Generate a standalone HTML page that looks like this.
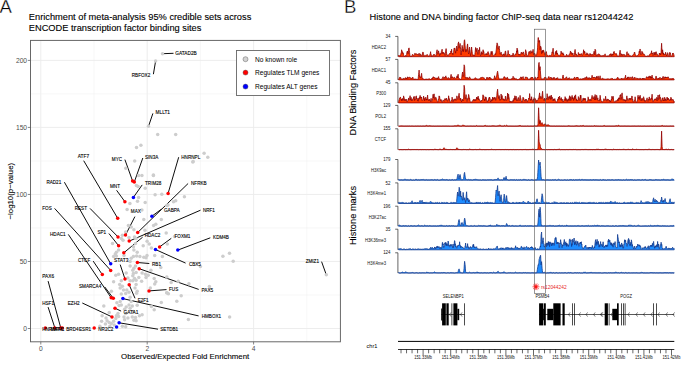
<!DOCTYPE html>
<html><head><meta charset="utf-8"><style>
html,body{margin:0;padding:0;background:#fff;width:685px;height:365px;overflow:hidden}
svg{display:block}
text{font-family:"Liberation Sans", sans-serif}
</style></head><body>
<svg width="685" height="365" viewBox="0 0 685 365">
<text x="-0.4" y="13.2" font-size="18.6" stroke="#fff" stroke-width="0.35">A</text>
<text x="28.8" y="20.2" font-size="9.28" stroke="#000" stroke-width="0.12">Enrichment of meta-analysis 95% credible sets across</text>
<text x="28.8" y="31.4" font-size="9.28" stroke="#000" stroke-width="0.12">ENCODE transcription factor binding sites</text>
<line x1="40.80" y1="40.5" x2="40.80" y2="341.8" stroke="#ebebeb" stroke-width="0.9"/><line x1="147.20" y1="40.5" x2="147.20" y2="341.8" stroke="#ebebeb" stroke-width="0.9"/><line x1="253.60" y1="40.5" x2="253.60" y2="341.8" stroke="#ebebeb" stroke-width="0.9"/><line x1="94.00" y1="40.5" x2="94.00" y2="341.8" stroke="#f2f2f2" stroke-width="0.6"/><line x1="200.40" y1="40.5" x2="200.40" y2="341.8" stroke="#f2f2f2" stroke-width="0.6"/><line x1="306.80" y1="40.5" x2="306.80" y2="341.8" stroke="#f2f2f2" stroke-width="0.6"/><line x1="30.5" y1="328.50" x2="340.4" y2="328.50" stroke="#ebebeb" stroke-width="0.9"/><line x1="30.5" y1="261.48" x2="340.4" y2="261.48" stroke="#ebebeb" stroke-width="0.9"/><line x1="30.5" y1="194.45" x2="340.4" y2="194.45" stroke="#ebebeb" stroke-width="0.9"/><line x1="30.5" y1="127.42" x2="340.4" y2="127.42" stroke="#ebebeb" stroke-width="0.9"/><line x1="30.5" y1="60.40" x2="340.4" y2="60.40" stroke="#ebebeb" stroke-width="0.9"/><line x1="30.5" y1="294.99" x2="340.4" y2="294.99" stroke="#f2f2f2" stroke-width="0.6"/><line x1="30.5" y1="227.96" x2="340.4" y2="227.96" stroke="#f2f2f2" stroke-width="0.6"/><line x1="30.5" y1="160.94" x2="340.4" y2="160.94" stroke="#f2f2f2" stroke-width="0.6"/><line x1="30.5" y1="93.91" x2="340.4" y2="93.91" stroke="#f2f2f2" stroke-width="0.6"/>
<line x1="27.8" y1="328.50" x2="30.5" y2="328.50" stroke="#333" stroke-width="0.6"/>
<text x="27.1" y="330.90" font-size="6.7" text-anchor="end" fill="#4d4d4d">0</text>
<line x1="27.8" y1="261.48" x2="30.5" y2="261.48" stroke="#333" stroke-width="0.6"/>
<text x="27.1" y="263.88" font-size="6.7" text-anchor="end" fill="#4d4d4d">50</text>
<line x1="27.8" y1="194.45" x2="30.5" y2="194.45" stroke="#333" stroke-width="0.6"/>
<text x="27.1" y="196.85" font-size="6.7" text-anchor="end" fill="#4d4d4d">100</text>
<line x1="27.8" y1="127.42" x2="30.5" y2="127.42" stroke="#333" stroke-width="0.6"/>
<text x="27.1" y="129.82" font-size="6.7" text-anchor="end" fill="#4d4d4d">150</text>
<line x1="27.8" y1="60.40" x2="30.5" y2="60.40" stroke="#333" stroke-width="0.6"/>
<text x="27.1" y="62.80" font-size="6.7" text-anchor="end" fill="#4d4d4d">200</text>
<line x1="40.80" y1="341.8" x2="40.80" y2="344.5" stroke="#333" stroke-width="0.6"/>
<text x="40.90" y="350.8" font-size="6.7" text-anchor="middle" fill="#4d4d4d">0</text>
<line x1="147.20" y1="341.8" x2="147.20" y2="344.5" stroke="#333" stroke-width="0.6"/>
<text x="147.30" y="350.8" font-size="6.7" text-anchor="middle" fill="#4d4d4d">2</text>
<line x1="253.60" y1="341.8" x2="253.60" y2="344.5" stroke="#333" stroke-width="0.6"/>
<text x="253.70" y="350.8" font-size="6.7" text-anchor="middle" fill="#4d4d4d">4</text>
<text x="185.2" y="359.3" font-size="7.85" text-anchor="middle" stroke="#000" stroke-width="0.1">Observed/Expected Fold Enrichment</text>
<text transform="translate(12.6,191.2) rotate(-90)" font-size="7.85" text-anchor="middle" stroke="#000" stroke-width="0.1">−log10(p−value)</text>
<g stroke="#000" stroke-width="0.95"><line x1="173.5" y1="53.3" x2="162.5" y2="53.7"/><line x1="153.4" y1="74.2" x2="155.6" y2="61.1"/><line x1="152.9" y1="113.4" x2="148.5" y2="126.3"/><line x1="83.7" y1="160.7" x2="117.7" y2="218.3"/><line x1="124.9" y1="159.6" x2="132.6" y2="181"/><line x1="142.8" y1="158" x2="134.3" y2="182"/><line x1="178.7" y1="157.2" x2="168.1" y2="193.4"/><line x1="64.4" y1="182.2" x2="110.7" y2="263.8"/><line x1="116.6" y1="190.3" x2="124.9" y2="201.7"/><line x1="142.2" y1="184.9" x2="133.4" y2="197.4"/><line x1="188.1" y1="183.5" x2="137.7" y2="232.5"/><line x1="54.6" y1="208.4" x2="110.7" y2="270.4"/><line x1="90" y1="208.4" x2="118" y2="236.9"/><line x1="161.4" y1="209.2" x2="151.9" y2="216.2"/><line x1="200.5" y1="210.2" x2="129.2" y2="241.1"/><line x1="134.9" y1="216.6" x2="125.5" y2="235.1"/><line x1="108.9" y1="233.5" x2="118.6" y2="245.7"/><line x1="68.3" y1="234.4" x2="111.2" y2="297.8"/><line x1="142.6" y1="237.2" x2="123.8" y2="252.8"/><line x1="171.3" y1="238.3" x2="159.6" y2="246.9"/><line x1="210.3" y1="237.8" x2="177.8" y2="250.1"/><line x1="93.2" y1="261.1" x2="102.3" y2="274.6"/><line x1="120.2" y1="264.6" x2="125" y2="279.1"/><line x1="149.3" y1="263.5" x2="137.4" y2="262.5"/><line x1="185.6" y1="263.1" x2="155.5" y2="249.5"/><line x1="48.1" y1="281.1" x2="60.7" y2="327.7"/><line x1="104.7" y1="286.9" x2="113.3" y2="298.3"/><line x1="166.5" y1="289.6" x2="149" y2="290.9"/><line x1="198.7" y1="289.4" x2="139.2" y2="268.7"/><line x1="135" y1="298.3" x2="129.2" y2="284.8"/><line x1="48.1" y1="307.1" x2="54.8" y2="327.7"/><line x1="82.3" y1="303" x2="112" y2="316.9"/><line x1="121.1" y1="311.1" x2="115" y2="308.2"/><line x1="198.6" y1="315.9" x2="122.9" y2="298.6"/><line x1="158" y1="329.2" x2="119.1" y2="322.8"/><line x1="321.6" y1="261.7" x2="326.3" y2="274.8"/></g>
<g fill="#cdcdcd"><circle cx="157.7" cy="134.6" r="1.75"/><circle cx="175.7" cy="134.6" r="1.75"/><circle cx="136.5" cy="147.5" r="1.75"/><circle cx="140.9" cy="145.3" r="1.75"/><circle cx="134.7" cy="160.9" r="1.75"/><circle cx="192.8" cy="162" r="1.75"/><circle cx="153.4" cy="174.9" r="1.75"/><circle cx="125.8" cy="168.3" r="1.75"/><circle cx="193.2" cy="161.6" r="1.75"/><circle cx="204.1" cy="153.3" r="1.75"/><circle cx="207.8" cy="157.3" r="1.75"/><circle cx="184.4" cy="196.7" r="1.75"/><circle cx="161.8" cy="194.2" r="1.75"/><circle cx="173.5" cy="201.7" r="1.75"/><circle cx="175.7" cy="200.7" r="1.75"/><circle cx="168" cy="205" r="1.75"/><circle cx="166.9" cy="205.5" r="1.75"/><circle cx="176.8" cy="301.3" r="1.75"/><circle cx="222.9" cy="256.2" r="1.75"/><circle cx="229.5" cy="253.3" r="1.75"/><circle cx="233.2" cy="261.2" r="1.75"/><circle cx="200.4" cy="266.4" r="1.75"/><circle cx="209.4" cy="286.5" r="1.75"/><circle cx="188.9" cy="283.7" r="1.75"/><circle cx="178.2" cy="281.2" r="1.75"/><circle cx="181.2" cy="295.7" r="1.75"/><circle cx="229.6" cy="317.1" r="1.75"/><circle cx="188.4" cy="319.4" r="1.75"/><circle cx="162.5" cy="53.7" r="1.75"/><circle cx="155.6" cy="61.1" r="1.75"/><circle cx="148.5" cy="126.3" r="1.75"/><circle cx="326.3" cy="274.8" r="1.75"/><circle cx="113.6" cy="256.6" r="1.75"/><circle cx="116.4" cy="256.1" r="1.75"/><circle cx="124" cy="255.5" r="1.75"/><circle cx="131.2" cy="258.3" r="1.75"/><circle cx="133.4" cy="256.6" r="1.75"/><circle cx="130.1" cy="261.6" r="1.75"/><circle cx="130.1" cy="266" r="1.75"/><circle cx="133.9" cy="268.2" r="1.75"/><circle cx="132.8" cy="270.3" r="1.75"/><circle cx="115.8" cy="275.3" r="1.75"/><circle cx="118.6" cy="274.2" r="1.75"/><circle cx="126.2" cy="273.1" r="1.75"/><circle cx="133.4" cy="273.6" r="1.75"/><circle cx="132.8" cy="275.8" r="1.75"/><circle cx="113.6" cy="281.8" r="1.75"/><circle cx="121.3" cy="280.8" r="1.75"/><circle cx="119.7" cy="284.6" r="1.75"/><circle cx="122.4" cy="286.2" r="1.75"/><circle cx="127.9" cy="278" r="1.75"/><circle cx="130.1" cy="280.8" r="1.75"/><circle cx="132.8" cy="280.8" r="1.75"/><circle cx="134.5" cy="278.6" r="1.75"/><circle cx="120.2" cy="287.9" r="1.75"/><circle cx="123.5" cy="290.1" r="1.75"/><circle cx="126.8" cy="290.1" r="1.75"/><circle cx="129" cy="292.3" r="1.75"/><circle cx="125.7" cy="293.4" r="1.75"/><circle cx="111.4" cy="291.2" r="1.75"/><circle cx="121.3" cy="293.9" r="1.75"/><circle cx="136.6" cy="256.1" r="1.75"/><circle cx="139.9" cy="256.6" r="1.75"/><circle cx="143.8" cy="257.2" r="1.75"/><circle cx="146" cy="257.7" r="1.75"/><circle cx="147" cy="255.5" r="1.75"/><circle cx="154.7" cy="255.5" r="1.75"/><circle cx="162.4" cy="256.6" r="1.75"/><circle cx="135.5" cy="266" r="1.75"/><circle cx="136.1" cy="272.5" r="1.75"/><circle cx="142.1" cy="273.1" r="1.75"/><circle cx="145.4" cy="274.2" r="1.75"/><circle cx="148.2" cy="275.3" r="1.75"/><circle cx="150.9" cy="270.3" r="1.75"/><circle cx="160.8" cy="267.6" r="1.75"/><circle cx="154.2" cy="278.6" r="1.75"/><circle cx="155.8" cy="281.8" r="1.75"/><circle cx="154.7" cy="284" r="1.75"/><circle cx="146" cy="277.5" r="1.75"/><circle cx="138.8" cy="277.5" r="1.75"/><circle cx="141.6" cy="281.3" r="1.75"/><circle cx="136.1" cy="280.2" r="1.75"/><circle cx="136.1" cy="284.6" r="1.75"/><circle cx="135" cy="287.9" r="1.75"/><circle cx="137.2" cy="291.2" r="1.75"/><circle cx="166.8" cy="276.9" r="1.75"/><circle cx="171.2" cy="282.4" r="1.75"/><circle cx="166.8" cy="292.8" r="1.75"/><circle cx="150.3" cy="287.9" r="1.75"/><circle cx="103.8" cy="306" r="1.75"/><circle cx="109.2" cy="312.5" r="1.75"/><circle cx="102.1" cy="315.8" r="1.75"/><circle cx="106" cy="318" r="1.75"/><circle cx="101.6" cy="321.3" r="1.75"/><circle cx="107.1" cy="320.8" r="1.75"/><circle cx="109.2" cy="322.4" r="1.75"/><circle cx="105.4" cy="324" r="1.75"/><circle cx="111.4" cy="323.5" r="1.75"/><circle cx="113.6" cy="321.3" r="1.75"/><circle cx="115.8" cy="318.6" r="1.75"/><circle cx="114.2" cy="325.1" r="1.75"/><circle cx="109.8" cy="326.2" r="1.75"/><circle cx="99.9" cy="326.2" r="1.75"/><circle cx="116.9" cy="302.7" r="1.75"/><circle cx="120.2" cy="301.6" r="1.75"/><circle cx="121.3" cy="304.9" r="1.75"/><circle cx="119.1" cy="305.4" r="1.75"/><circle cx="124.6" cy="309.2" r="1.75"/><circle cx="126.2" cy="307.1" r="1.75"/><circle cx="129" cy="304.9" r="1.75"/><circle cx="131.2" cy="301.6" r="1.75"/><circle cx="132.3" cy="306" r="1.75"/><circle cx="130.1" cy="308.2" r="1.75"/><circle cx="133.4" cy="311.4" r="1.75"/><circle cx="125.7" cy="313.6" r="1.75"/><circle cx="124" cy="316.9" r="1.75"/><circle cx="124.6" cy="319.7" r="1.75"/><circle cx="132.3" cy="316.9" r="1.75"/><circle cx="133.9" cy="320.2" r="1.75"/><circle cx="127.9" cy="318" r="1.75"/><circle cx="122.4" cy="326.2" r="1.75"/><circle cx="125.7" cy="326.8" r="1.75"/><circle cx="118.6" cy="316.4" r="1.75"/><circle cx="116.4" cy="315.8" r="1.75"/><circle cx="118" cy="313.6" r="1.75"/><circle cx="130.1" cy="297.2" r="1.75"/><circle cx="136.6" cy="293.3" r="1.75"/><circle cx="166.8" cy="292.7" r="1.75"/><circle cx="168.4" cy="293.8" r="1.75"/><circle cx="161.3" cy="302.6" r="1.75"/><circle cx="154.2" cy="309.7" r="1.75"/><circle cx="137.2" cy="305.3" r="1.75"/><circle cx="142.1" cy="314.7" r="1.75"/><circle cx="139.4" cy="315.8" r="1.75"/><circle cx="135.5" cy="317.4" r="1.75"/><circle cx="136.1" cy="320.7" r="1.75"/><circle cx="151.4" cy="306.4" r="1.75"/><circle cx="128.4" cy="225.4" r="1.75"/><circle cx="131.2" cy="227.1" r="1.75"/><circle cx="133.9" cy="229.8" r="1.75"/><circle cx="125.7" cy="232" r="1.75"/><circle cx="122.4" cy="235.3" r="1.75"/><circle cx="121.3" cy="238.6" r="1.75"/><circle cx="123" cy="240.2" r="1.75"/><circle cx="112.5" cy="243.5" r="1.75"/><circle cx="118.6" cy="250.1" r="1.75"/><circle cx="116.4" cy="252.3" r="1.75"/><circle cx="115.3" cy="253.9" r="1.75"/><circle cx="129" cy="237.5" r="1.75"/><circle cx="133.4" cy="246.8" r="1.75"/><circle cx="133.9" cy="250.1" r="1.75"/><circle cx="134.5" cy="236.9" r="1.75"/><circle cx="143.8" cy="219.4" r="1.75"/><circle cx="161.3" cy="219.4" r="1.75"/><circle cx="153.6" cy="225.4" r="1.75"/><circle cx="155.8" cy="224.3" r="1.75"/><circle cx="144.9" cy="230.3" r="1.75"/><circle cx="166.2" cy="233.1" r="1.75"/><circle cx="174.5" cy="236.4" r="1.75"/><circle cx="147.1" cy="241.3" r="1.75"/><circle cx="149.2" cy="244" r="1.75"/><circle cx="143.2" cy="245.7" r="1.75"/><circle cx="151.4" cy="247.9" r="1.75"/><circle cx="167.3" cy="244" r="1.75"/><circle cx="137.2" cy="252.3" r="1.75"/><circle cx="135.5" cy="243.5" r="1.75"/><circle cx="136.1" cy="238.6" r="1.75"/><circle cx="138.6" cy="175.5" r="1.75"/><circle cx="141.9" cy="175.5" r="1.75"/><circle cx="153.4" cy="175.5" r="1.75"/><circle cx="136.4" cy="185.4" r="1.75"/><circle cx="138.1" cy="186.5" r="1.75"/><circle cx="145.2" cy="188.2" r="1.75"/><circle cx="138.6" cy="197.5" r="1.75"/><circle cx="137.5" cy="201.3" r="1.75"/><circle cx="145.2" cy="202.4" r="1.75"/><circle cx="129.9" cy="203.5" r="1.75"/><circle cx="127.1" cy="209.5" r="1.75"/><circle cx="155.1" cy="194.7" r="1.75"/><circle cx="141.9" cy="210.1" r="1.75"/></g>
<g fill="#ff0000"><circle cx="45.3" cy="328" r="1.75"/><circle cx="54.8" cy="328" r="1.75"/><circle cx="60.7" cy="328" r="1.75"/><circle cx="62.3" cy="328" r="1.75"/><circle cx="94.2" cy="328" r="1.75"/><circle cx="132.6" cy="181" r="1.75"/><circle cx="134.3" cy="182" r="1.75"/><circle cx="168.1" cy="193.4" r="1.75"/><circle cx="124.9" cy="201.7" r="1.75"/><circle cx="117.7" cy="218.3" r="1.75"/><circle cx="137.7" cy="232.5" r="1.75"/><circle cx="125.5" cy="235.1" r="1.75"/><circle cx="118" cy="236.9" r="1.75"/><circle cx="129.2" cy="241.1" r="1.75"/><circle cx="118.6" cy="245.7" r="1.75"/><circle cx="159.6" cy="246.9" r="1.75"/><circle cx="123.8" cy="252.8" r="1.75"/><circle cx="110.7" cy="270.4" r="1.75"/><circle cx="102.3" cy="274.6" r="1.75"/><circle cx="137.4" cy="262.5" r="1.75"/><circle cx="139.2" cy="268.7" r="1.75"/><circle cx="125" cy="279.1" r="1.75"/><circle cx="129.2" cy="284.8" r="1.75"/><circle cx="149" cy="290.9" r="1.75"/><circle cx="111.2" cy="297.8" r="1.75"/><circle cx="113.3" cy="298.3" r="1.75"/><circle cx="115" cy="308.2" r="1.75"/><circle cx="112" cy="316.9" r="1.75"/></g>
<g fill="#0000ff"><circle cx="133.4" cy="197.4" r="1.75"/><circle cx="151.9" cy="216.2" r="1.75"/><circle cx="110.7" cy="263.8" r="1.75"/><circle cx="155.5" cy="249.5" r="1.75"/><circle cx="177.8" cy="250.1" r="1.75"/><circle cx="122.9" cy="298.6" r="1.75"/><circle cx="119.1" cy="322.8" r="1.75"/><circle cx="116.6" cy="326.9" r="1.75"/></g>
<g font-size="5.2" fill="#000" stroke="#000" stroke-width="0.12"><text x="175.3" y="55.05" textLength="21.47" lengthAdjust="spacingAndGlyphs">GATAD2B</text><text x="131.8" y="77.45" textLength="18.40" lengthAdjust="spacingAndGlyphs">RBFOX2</text><text x="155.6" y="114.45" textLength="14.32" lengthAdjust="spacingAndGlyphs">MLLT1</text><text x="77.8" y="157.75" textLength="11.25" lengthAdjust="spacingAndGlyphs">ATF7</text><text x="111.8" y="161.45" textLength="10.22" lengthAdjust="spacingAndGlyphs">MYC</text><text x="145" y="159.45" textLength="13.29" lengthAdjust="spacingAndGlyphs">SIN3A</text><text x="181.3" y="159.15" textLength="18.91" lengthAdjust="spacingAndGlyphs">HNRNPL</text><text x="46.4" y="183.85" textLength="14.83" lengthAdjust="spacingAndGlyphs">RAD21</text><text x="110" y="187.85" textLength="9.96" lengthAdjust="spacingAndGlyphs">MNT</text><text x="145" y="185.45" textLength="16.36" lengthAdjust="spacingAndGlyphs">TRIM28</text><text x="191" y="185.35" textLength="15.59" lengthAdjust="spacingAndGlyphs">NFRKB</text><text x="42.3" y="209.55" textLength="9.46" lengthAdjust="spacingAndGlyphs">FOS</text><text x="74.7" y="209.55" textLength="12.27" lengthAdjust="spacingAndGlyphs">REST</text><text x="163.9" y="211.65" textLength="15.85" lengthAdjust="spacingAndGlyphs">GABPA</text><text x="202.9" y="212.05" textLength="12.01" lengthAdjust="spacingAndGlyphs">NRF1</text><text x="130.8" y="213.25" textLength="9.97" lengthAdjust="spacingAndGlyphs">MAX</text><text x="97.4" y="234.05" textLength="8.69" lengthAdjust="spacingAndGlyphs">SP1</text><text x="50" y="236.25" textLength="15.59" lengthAdjust="spacingAndGlyphs">HDAC1</text><text x="144.7" y="237.35" textLength="15.59" lengthAdjust="spacingAndGlyphs">HDAC2</text><text x="174.5" y="238.35" textLength="15.85" lengthAdjust="spacingAndGlyphs">FOXM1</text><text x="213.1" y="239.35" textLength="15.85" lengthAdjust="spacingAndGlyphs">KDM4B</text><text x="78" y="261.95" textLength="12.26" lengthAdjust="spacingAndGlyphs">CTCF</text><text x="114" y="262.35" textLength="14.32" lengthAdjust="spacingAndGlyphs">STAT3</text><text x="152" y="265.65" textLength="8.95" lengthAdjust="spacingAndGlyphs">RB1</text><text x="188.9" y="265.85" textLength="12.02" lengthAdjust="spacingAndGlyphs">CBX5</text><text x="42.3" y="278.35" textLength="11.76" lengthAdjust="spacingAndGlyphs">PAX6</text><text x="79" y="288.45" textLength="22.24" lengthAdjust="spacingAndGlyphs">SMARCA4</text><text x="169" y="291.45" textLength="9.20" lengthAdjust="spacingAndGlyphs">FUS</text><text x="201.5" y="291.65" textLength="11.76" lengthAdjust="spacingAndGlyphs">PAX5</text><text x="137.7" y="301.65" textLength="10.99" lengthAdjust="spacingAndGlyphs">E2F1</text><text x="42.2" y="304.85" textLength="11.76" lengthAdjust="spacingAndGlyphs">HSF1</text><text x="67.8" y="304.85" textLength="11.76" lengthAdjust="spacingAndGlyphs">EZH2</text><text x="123.4" y="314.45" textLength="15.08" lengthAdjust="spacingAndGlyphs">GATA1</text><text x="201.7" y="317.95" textLength="19.43" lengthAdjust="spacingAndGlyphs">HMBOX1</text><text x="160.3" y="331.35" textLength="17.89" lengthAdjust="spacingAndGlyphs">SETDB1</text><text x="98.3" y="331.05" textLength="15.08" lengthAdjust="spacingAndGlyphs">NR2C2</text><text x="66.3" y="331.05" textLength="12.27" lengthAdjust="spacingAndGlyphs">BRD4</text><text x="79" y="331.05" textLength="12.02" lengthAdjust="spacingAndGlyphs">ESR1</text><text x="42.2" y="331.05" textLength="22.23" lengthAdjust="spacingAndGlyphs">HNRNPH1</text><text x="50.5" y="331.05" textLength="12.78" lengthAdjust="spacingAndGlyphs">MAFK</text><text x="305.7" y="263.05" textLength="13.29" lengthAdjust="spacingAndGlyphs">ZMIZ1</text></g>
<rect x="30.5" y="40.4" width="309.9" height="301.4" fill="none" stroke="#606060" stroke-width="0.95"/>
<rect x="236.5" y="50.5" width="93" height="45" fill="#fff" stroke="#666" stroke-width="0.9"/>
<circle cx="245.5" cy="59.2" r="2.5" fill="#d3d3d3" stroke="#555" stroke-width="0.45"/>
<text x="255" y="61.50" font-size="6.6">No known role</text>
<circle cx="245.5" cy="72.6" r="2.5" fill="#f00" stroke="#555" stroke-width="0.45"/>
<text x="255" y="74.90" font-size="6.6">Regulates TLM genes</text>
<circle cx="245.5" cy="86.6" r="2.5" fill="#00f" stroke="#555" stroke-width="0.45"/>
<text x="255" y="88.90" font-size="6.6">Regulates ALT genes</text>
<text x="344.1" y="13.2" font-size="18.6" stroke="#fff" stroke-width="0.35">B</text>
<text x="369.6" y="20.2" font-size="9.28" stroke="#000" stroke-width="0.12">Histone and DNA binding factor ChIP-seq data near rs12044242</text>
<text transform="translate(356.3,92.5) rotate(-90)" font-size="9.28" text-anchor="middle" stroke="#000" stroke-width="0.1">DNA Binding Factors</text>
<text transform="translate(356.3,215.5) rotate(-90)" font-size="9.28" text-anchor="middle" stroke="#000" stroke-width="0.1">Histone marks</text>
<path d="M395.2 36.40H397.9V56.70" fill="none" stroke="#333" stroke-width="0.75"/>
<text x="385.61" y="38.00" font-size="4.8" textLength="4.89" lengthAdjust="spacingAndGlyphs" fill="#111">34</text>
<text x="371.76" y="48.80" font-size="5" textLength="14.24" lengthAdjust="spacingAndGlyphs" fill="#111">HDAC2</text>
<path d="M398.6 56.70L398.60 55.41L398.85 55.12L399.10 55.53L399.35 55.82L399.60 55.89L399.85 55.57L400.10 55.76L400.35 55.78L400.60 55.02L400.85 54.12L401.10 52.75L401.35 52.82L401.60 49.78L401.85 50.62L402.10 50.95L402.35 51.76L402.60 53.45L402.85 52.74L403.10 52.76L403.35 53.20L403.60 54.82L403.85 55.67L404.10 56.21L404.35 56.28L404.60 56.34L404.85 56.01L405.10 55.67L405.35 55.61L405.60 55.56L405.85 55.90L406.10 56.25L406.35 55.54L406.60 54.54L406.85 52.82L407.10 51.60L407.35 52.27L407.60 51.10L407.85 51.85L408.10 53.77L408.35 51.43L408.60 48.71L408.85 48.06L409.10 47.87L409.35 50.38L409.60 52.76L409.85 54.55L410.10 56.06L410.35 56.31L410.60 56.33L410.85 56.29L411.10 56.24L411.35 56.33L411.60 56.41L411.85 55.65L412.10 55.44L412.35 54.53L412.60 54.55L412.85 54.33L413.10 54.96L413.35 55.34L413.60 55.52L413.85 55.48L414.10 55.45L414.35 54.90L414.60 54.26L414.85 53.27L415.10 53.27L415.35 54.24L415.60 54.22L415.85 54.72L416.10 53.81L416.35 53.70L416.60 54.21L416.85 54.40L417.10 54.33L417.35 54.54L417.60 54.50L417.85 54.10L418.10 54.00L418.35 55.11L418.60 55.25L418.85 54.95L419.10 53.16L419.35 54.31L419.60 55.32L419.85 55.76L420.10 55.42L420.35 54.72L420.60 53.87L420.85 54.48L421.10 55.66L421.35 55.63L421.60 55.53L421.85 55.70L422.10 55.87L422.35 54.98L422.60 52.89L422.85 52.03L423.10 52.10L423.35 53.21L423.60 54.44L423.85 55.56L424.10 56.33L424.35 55.92L424.60 55.51L424.85 55.64L425.10 55.76L425.35 55.55L425.60 55.38L425.85 55.34L426.10 55.35L426.35 55.11L426.60 55.07L426.85 55.14L427.10 55.07L427.35 54.51L427.60 55.07L427.85 55.41L428.10 55.93L428.35 55.86L428.60 56.36L428.85 56.27L429.10 56.19L429.35 55.80L429.60 55.51L429.85 54.70L430.10 53.72L430.35 53.44L430.60 51.67L430.85 54.18L431.10 54.27L431.35 55.22L431.60 56.35L431.85 56.39L432.10 56.43L432.35 56.06L432.60 55.69L432.85 55.49L433.10 55.82L433.35 55.13L433.60 54.51L433.85 54.58L434.10 54.99L434.35 54.42L434.60 54.79L434.85 55.20L435.10 55.64L435.35 55.54L435.60 56.16L435.85 56.00L436.10 55.69L436.35 53.72L436.60 51.61L436.85 50.67L437.10 49.76L437.35 51.43L437.60 52.33L437.85 54.24L438.10 53.41L438.35 52.21L438.60 50.85L438.85 52.50L439.10 52.89L439.35 53.92L439.60 55.55L439.85 54.99L440.10 54.83L440.35 53.70L440.60 54.35L440.85 53.33L441.10 53.90L441.35 51.54L441.60 51.26L441.85 50.16L442.10 49.22L442.35 51.47L442.60 53.55L442.85 52.58L443.10 52.59L443.35 52.19L443.60 53.59L443.85 53.62L444.10 52.81L444.35 53.44L444.60 54.61L444.85 55.44L445.10 55.62L445.35 53.44L445.60 51.24L445.85 50.08L446.10 48.60L446.35 51.09L446.60 53.26L446.85 54.85L447.10 55.00L447.35 54.85L447.60 55.56L447.85 55.55L448.10 55.86L448.35 55.51L448.60 55.41L448.85 54.25L449.10 54.16L449.35 53.97L449.60 53.47L449.85 53.22L450.10 52.99L450.35 53.74L450.60 52.80L450.85 51.15L451.10 52.03L451.35 50.94L451.60 49.23L451.85 52.44L452.10 53.27L452.35 54.26L452.60 53.33L452.85 53.95L453.10 54.70L453.35 53.92L453.60 52.90L453.85 49.95L454.10 48.01L454.35 48.02L454.60 48.71L454.85 48.38L455.10 50.53L455.35 50.96L455.60 53.19L455.85 51.37L456.10 48.77L456.35 47.66L456.60 46.13L456.85 48.44L457.10 51.01L457.35 49.95L457.60 49.29L457.85 45.77L458.10 43.05L458.35 42.96L458.60 41.88L458.85 45.35L459.10 48.23L459.35 47.22L459.60 46.12L459.85 45.04L460.10 43.41L460.35 46.53L460.60 49.56L460.85 52.26L461.10 54.98L461.35 52.92L461.60 50.72L461.85 47.77L462.10 45.35L462.35 46.62L462.60 48.04L462.85 51.23L463.10 49.37L463.35 51.71L463.60 51.09L463.85 46.78L464.10 42.40L464.35 40.37L464.60 39.74L464.85 41.90L465.10 45.81L465.35 48.95L465.60 51.99L465.85 51.76L466.10 49.32L466.35 50.92L466.60 51.32L466.85 50.40L467.10 46.58L467.35 44.91L467.60 43.92L467.85 47.12L468.10 49.67L468.35 52.62L468.60 53.93L468.85 52.86L469.10 50.41L469.35 48.65L469.60 47.09L469.85 49.72L470.10 52.71L470.35 54.27L470.60 55.70L470.85 53.59L471.10 51.36L471.35 49.06L471.60 47.00L471.85 49.46L472.10 51.38L472.35 53.79L472.60 54.38L472.85 54.97L473.10 55.61L473.35 54.87L473.60 54.97L473.85 55.49L474.10 55.20L474.35 55.55L474.60 55.87L474.85 54.45L475.10 52.74L475.35 50.03L475.60 47.51L475.85 48.91L476.10 50.33L476.35 51.55L476.60 50.22L476.85 48.91L477.10 48.12L477.35 51.24L477.60 52.87L477.85 54.53L478.10 54.46L478.35 52.00L478.60 49.90L478.85 50.13L479.10 50.51L479.35 50.48L479.60 47.35L479.85 50.94L480.10 52.79L480.35 54.67L480.60 55.70L480.85 54.94L481.10 54.26L481.35 54.16L481.60 51.68L481.85 54.15L482.10 54.51L482.35 53.28L482.60 53.73L482.85 51.73L483.10 49.73L483.35 52.16L483.60 51.50L483.85 51.61L484.10 53.60L484.35 54.79L484.60 55.09L484.85 54.94L485.10 54.44L485.35 54.80L485.60 54.54L485.85 54.81L486.10 53.30L486.35 54.36L486.60 54.87L486.85 54.24L487.10 54.97L487.35 53.15L487.60 52.60L487.85 52.88L488.10 51.58L488.35 52.88L488.60 53.84L488.85 53.48L489.10 54.40L489.35 55.83L489.60 55.84L489.85 55.79L490.10 55.74L490.35 55.60L490.60 55.00L490.85 52.97L491.10 51.39L491.35 51.87L491.60 54.27L491.85 53.01L492.10 51.32L492.35 52.92L492.60 53.37L492.85 55.15L493.10 55.66L493.35 55.75L493.60 55.80L493.85 55.55L494.10 55.40L494.35 55.08L494.60 54.72L494.85 54.61L495.10 53.70L495.35 53.71L495.60 54.61L495.85 53.06L496.10 50.98L496.35 49.03L496.60 45.98L496.85 44.69L497.10 42.87L497.35 44.41L497.60 44.29L497.85 46.64L498.10 49.33L498.35 49.01L498.60 48.31L498.85 47.12L499.10 45.98L499.35 48.37L499.60 50.41L499.85 52.58L500.10 54.26L500.35 54.27L500.60 53.39L500.85 53.30L501.10 52.08L501.35 54.06L501.60 54.27L501.85 54.01L502.10 54.56L502.35 55.13L502.60 55.92L502.85 55.49L503.10 55.58L503.35 53.97L503.60 54.53L503.85 53.81L504.10 54.32L504.35 55.50L504.60 55.62L504.85 54.01L505.10 51.82L505.35 51.09L505.60 50.94L505.85 53.03L506.10 55.49L506.35 55.69L506.60 55.93L506.85 55.90L507.10 55.08L507.35 54.23L507.60 53.94L507.85 53.83L508.10 50.46L508.35 53.30L508.60 54.06L508.85 54.41L509.10 54.64L509.35 54.25L509.60 53.99L509.85 55.18L510.10 55.58L510.35 55.55L510.60 56.17L510.85 55.97L511.10 55.78L511.35 55.46L511.60 55.43L511.85 55.47L512.10 54.97L512.35 55.54L512.60 54.79L512.85 54.69L513.10 53.06L513.35 55.08L513.60 54.74L513.85 55.57L514.10 56.15L514.35 55.89L514.60 55.49L514.85 55.06L515.10 54.38L515.35 54.45L515.60 53.73L515.85 53.96L516.10 54.46L516.35 53.73L516.60 50.88L516.85 52.34L517.10 48.06L517.35 51.81L517.60 49.83L517.85 51.72L518.10 54.02L518.35 54.16L518.60 55.14L518.85 54.45L519.10 54.85L519.35 54.45L519.60 54.07L519.85 54.85L520.10 55.41L520.35 54.24L520.60 53.97L520.85 53.83L521.10 52.81L521.35 52.06L521.60 52.89L521.85 54.20L522.10 53.76L522.35 53.98L522.60 52.72L522.85 53.03L523.10 52.68L523.35 51.87L523.60 52.78L523.85 53.90L524.10 54.76L524.35 55.81L524.60 55.83L524.85 54.91L525.10 54.54L525.35 52.62L525.60 49.71L525.85 50.73L526.10 51.25L526.35 53.34L526.60 55.20L526.85 55.58L527.10 56.34L527.35 55.98L527.60 55.62L527.85 55.62L528.10 55.63L528.35 53.76L528.60 52.99L528.85 52.03L529.10 51.57L529.35 52.21L529.60 51.58L529.85 52.73L530.10 53.70L530.35 52.70L530.60 51.83L530.85 50.61L531.10 51.78L531.35 51.85L531.60 52.85L531.85 53.15L532.10 51.68L532.35 51.98L532.60 52.23L532.85 50.90L533.10 49.34L533.35 52.05L533.60 54.59L533.85 55.05L534.10 54.29L534.35 53.91L534.60 53.03L534.85 54.48L535.10 54.22L535.35 55.05L535.60 55.43L535.85 55.91L536.10 55.49L536.35 55.42L536.60 55.06L536.85 53.48L537.10 52.22L537.35 50.88L537.60 47.20L537.85 42.51L538.10 37.55L538.35 37.65L538.60 39.62L538.85 40.14L539.10 42.29L539.35 41.02L539.60 40.53L539.85 44.81L540.10 49.84L540.35 48.12L540.60 46.14L540.85 47.10L541.10 47.39L541.35 50.63L541.60 53.77L541.85 53.22L542.10 51.14L542.35 52.63L542.60 50.28L542.85 52.16L543.10 51.03L543.35 49.97L543.60 50.17L543.85 51.09L544.10 52.36L544.35 52.84L544.60 52.84L544.85 54.35L545.10 55.22L545.35 53.86L545.60 53.17L545.85 52.32L546.10 52.46L546.35 51.59L546.60 53.41L546.85 54.55L547.10 55.59L547.35 55.53L547.60 55.61L547.85 55.60L548.10 55.59L548.35 55.84L548.60 56.09L548.85 55.81L549.10 55.53L549.35 55.46L549.60 55.49L549.85 55.35L550.10 55.48L550.35 55.60L550.60 55.66L550.85 55.60L551.10 55.55L551.35 54.62L551.60 54.27L551.85 53.32L552.10 51.87L552.35 52.67L552.60 51.80L552.85 49.95L553.10 48.22L553.35 51.24L553.60 54.33L553.85 55.49L554.10 56.08L554.35 55.68L554.60 55.47L554.85 54.72L555.10 54.63L555.35 52.23L555.60 52.28L555.85 51.29L556.10 54.07L556.35 53.55L556.60 50.48L556.85 52.32L557.10 54.33L557.35 53.14L557.60 54.10L557.85 54.88L558.10 55.25L558.35 55.35L558.60 55.14L558.85 55.33L559.10 55.68L559.35 55.58L559.60 56.13L559.85 55.78L560.10 54.89L560.35 54.21L560.60 54.01L560.85 53.69L561.10 51.14L561.35 53.13L561.60 52.81L561.85 53.54L562.10 54.02L562.35 53.60L562.60 54.13L562.85 52.68L563.10 53.75L563.35 54.91L563.60 53.89L563.85 55.14L564.10 55.36L564.35 55.71L564.60 56.29L564.85 56.12L565.10 55.95L565.35 56.02L565.60 56.09L565.85 56.01L566.10 55.33L566.35 55.17L566.60 54.25L566.85 54.81L567.10 55.38L567.35 55.67L567.60 55.81L567.85 55.59L568.10 55.69L568.35 56.08L568.60 55.96L568.85 55.22L569.10 55.38L569.35 54.06L569.60 53.71L569.85 53.89L570.10 53.46L570.35 51.52L570.60 50.98L570.85 53.54L571.10 53.70L571.35 53.59L571.60 52.45L571.85 54.18L572.10 54.79L572.35 53.65L572.60 53.92L572.85 53.02L573.10 54.41L573.35 55.37L573.60 55.95L573.85 55.91L574.10 55.87L574.35 54.28L574.60 52.49L574.85 50.67L575.10 49.45L575.35 51.94L575.60 54.09L575.85 54.89L576.10 54.22L576.35 54.07L576.60 55.55L576.85 55.22L577.10 55.58L577.35 55.64L577.60 55.71L577.85 55.22L578.10 54.51L578.35 52.47L578.60 53.17L578.85 53.21L579.10 54.61L579.35 54.90L579.60 54.02L579.85 55.10L580.10 54.80L580.35 54.96L580.60 54.38L580.85 53.82L581.10 54.05L581.35 54.17L581.60 53.60L581.85 54.25L582.10 54.85L582.35 55.42L582.60 54.93L582.85 54.81L583.10 52.87L583.35 52.24L583.60 49.73L583.85 52.78L584.10 52.59L584.35 51.19L584.60 52.50L584.85 51.75L585.10 53.49L585.35 53.97L585.60 54.27L585.85 55.00L586.10 55.06L586.35 54.24L586.60 54.64L586.85 52.79L587.10 53.68L587.35 53.67L587.60 54.70L587.85 53.75L588.10 54.60L588.35 54.63L588.60 54.79L588.85 55.28L589.10 55.84L589.35 55.21L589.60 55.01L589.85 53.65L590.10 53.36L590.35 54.62L590.60 54.11L590.85 54.51L591.10 55.60L591.35 55.36L591.60 54.87L591.85 54.12L592.10 54.40L592.35 54.31L592.60 54.61L592.85 55.02L593.10 55.50L593.35 54.51L593.60 53.75L593.85 52.71L594.10 51.26L594.35 53.44L594.60 54.59L594.85 52.10L595.10 49.22L595.35 49.91L595.60 50.17L595.85 53.16L596.10 55.81L596.35 55.77L596.60 55.23L596.85 54.62L597.10 54.82L597.35 54.78L597.60 54.67L597.85 55.56L598.10 55.32L598.35 54.41L598.60 53.72L598.85 54.38L599.10 54.11L599.35 54.25L599.60 55.12L599.85 54.82L600.10 55.63L600.35 55.54L600.60 55.96L600.85 55.73L601.10 56.02L601.35 55.86L601.60 55.71L601.85 55.58L602.10 55.54L602.35 55.71L602.60 55.51L602.85 55.43L603.10 55.30L603.35 55.54L603.60 55.34L603.85 55.94L604.10 55.63L604.35 55.58L604.60 55.16L604.85 54.29L605.10 53.84L605.35 54.63L605.60 54.92L605.85 55.49L606.10 56.09L606.35 56.18L606.60 56.26L606.85 55.99L607.10 55.72L607.35 55.88L607.60 56.04L607.85 56.20L608.10 56.35L608.35 56.00L608.60 55.64L608.85 55.74L609.10 55.84L609.35 55.35L609.60 55.27L609.85 54.35L610.10 55.30L610.35 54.23L610.60 54.49L610.85 53.60L611.10 54.03L611.35 54.87L611.60 55.72L611.85 55.00L612.10 53.82L612.35 55.25L612.60 54.97L612.85 54.31L613.10 55.13L613.35 53.83L613.60 52.10L613.85 52.44L614.10 51.35L614.35 52.84L614.60 53.26L614.85 53.03L615.10 53.55L615.35 53.93L615.60 53.93L615.85 54.04L616.10 54.43L616.35 53.52L616.60 54.31L616.85 54.52L617.10 55.75L617.35 55.70L617.60 56.40L617.85 56.42L618.10 56.45L618.35 56.21L618.60 55.97L618.85 55.91L619.10 55.85L619.35 54.61L619.60 52.91L619.85 51.55L620.10 50.20L620.35 52.35L620.60 54.67L620.85 54.97L621.10 55.48L621.35 55.14L621.60 53.78L621.85 54.80L622.10 55.26L622.35 54.65L622.60 55.38L622.85 54.54L623.10 54.38L623.35 54.65L623.60 54.70L623.85 54.73L624.10 55.11L624.35 54.46L624.60 55.57L624.85 55.90L625.10 55.60L625.35 55.78L625.60 55.96L625.85 55.97L626.10 55.98L626.35 54.58L626.60 53.80L626.85 52.11L627.10 51.66L627.35 53.90L627.60 54.52L627.85 54.55L628.10 55.05L628.35 54.58L628.60 53.62L628.85 54.95L629.10 54.88L629.35 55.33L629.60 56.07L629.85 56.05L630.10 56.04L630.35 55.84L630.60 55.64L630.85 55.77L631.10 55.90L631.35 56.06L631.60 56.22L631.85 56.27L632.10 56.31L632.35 55.61L632.60 55.27L632.85 55.17L633.10 55.18L633.35 54.53L633.60 54.29L633.85 54.33L634.10 53.90L634.35 52.14L634.60 52.81L634.85 52.51L635.10 54.61L635.35 54.59L635.60 55.61L635.85 55.77L636.10 55.94L636.35 55.87L636.60 55.81L636.85 55.83L637.10 55.84L637.35 55.59L637.60 55.76L637.85 55.17L638.10 55.20L638.35 54.95L638.60 54.02L638.85 53.75L639.10 51.31L639.35 51.20L639.60 52.37L639.85 50.93L640.10 48.97L640.35 52.00L640.60 54.65L640.85 54.36L641.10 54.29L641.35 54.55L641.60 53.31L641.85 51.30L642.10 51.42L642.35 52.15L642.60 53.49L642.85 52.75L643.10 53.62L643.35 54.43L643.60 53.94L643.85 54.50L644.10 54.35L644.35 54.39L644.60 54.57L644.85 55.67L645.10 56.21L645.35 56.20L645.60 56.18L645.85 56.08L646.10 55.97L646.35 56.16L646.60 56.35L646.85 56.27L647.10 56.19L647.35 55.98L647.60 55.78L647.85 55.74L648.10 55.70L648.35 55.90L648.60 56.11L648.85 55.79L649.10 55.86L649.35 55.13L649.60 55.12L649.85 53.98L650.10 53.93L650.35 53.91L650.60 53.67L650.85 53.25L651.10 53.26L651.35 52.27L651.60 50.78L651.85 53.81L652.10 53.09L652.35 53.02L652.60 54.32L652.85 54.56L653.10 55.54L653.35 54.76L653.60 53.87L653.85 52.56L654.10 53.31L654.35 52.39L654.60 54.38L654.85 53.82L655.10 55.06L655.35 53.28L655.60 52.36L655.85 53.64L656.10 51.65L656.35 53.83L656.60 54.43L656.85 54.49L657.10 53.82L657.35 54.34L657.60 54.77L657.85 55.52L658.10 56.33L658.35 55.73L658.60 55.65L658.85 55.24L659.10 55.12L659.35 53.08L659.60 53.85L659.85 53.85L660.10 53.18L660.35 54.90L660.60 53.90L660.85 54.33L661.10 52.21L661.35 47.61L661.60 43.26L661.85 47.90L662.10 52.32L662.35 53.33L662.60 49.79L662.85 51.60L663.10 53.06L663.35 54.56L663.60 53.04L663.85 55.16L664.10 55.04L664.35 54.57L664.60 54.82L664.85 54.02L665.10 54.07L665.35 54.29L665.60 52.25L665.85 53.53L666.10 54.16L666.35 54.76L666.60 55.94L666.85 55.34L667.10 54.96L667.35 53.46L667.60 52.66L667.85 53.11L668.10 54.22L668.35 55.41L668.60 55.77L668.85 56.01L669.10 56.26L669.35 55.13L669.60 53.29L669.85 52.23L670.10 53.91L670.35 53.17L670.60 54.19L670.85 55.68L671.10 55.77L671.35 55.88L671.60 55.99L671.85 56.07L672.10 56.15L672.35 55.30L672.60 53.06L672.85 53.48L673.10 53.17L673.35 53.28L673.60 54.01L673.85 54.74L674.10 55.72L674.2 56.70Z" fill="#ff3a00" stroke="#900000" stroke-width="0.78" stroke-linejoin="round"/>
<path d="M395.2 59.40H397.9V79.90" fill="none" stroke="#333" stroke-width="0.75"/>
<text x="385.61" y="61.00" font-size="4.8" textLength="4.89" lengthAdjust="spacingAndGlyphs" fill="#111">57</text>
<text x="371.76" y="71.80" font-size="5" textLength="14.24" lengthAdjust="spacingAndGlyphs" fill="#111">HDAC1</text>
<path d="M398.6 79.90L398.60 79.03L398.85 78.75L399.10 78.71L399.35 77.62L399.60 77.32L399.85 77.48L400.10 78.23L400.35 78.20L400.60 77.33L400.85 78.36L401.10 78.88L401.35 78.92L401.60 79.04L401.85 78.86L402.10 79.06L402.35 79.18L402.60 79.31L402.85 78.73L403.10 78.91L403.35 78.30L403.60 78.24L403.85 78.69L404.10 79.09L404.35 78.91L404.60 78.83L404.85 78.99L405.10 77.80L405.35 77.69L405.60 77.71L405.85 78.26L406.10 77.95L406.35 78.71L406.60 77.97L406.85 78.72L407.10 77.80L407.35 77.98L407.60 76.82L407.85 77.41L408.10 78.16L408.35 77.64L408.60 78.01L408.85 77.87L409.10 77.17L409.35 77.18L409.60 77.35L409.85 77.54L410.10 77.89L410.35 78.19L410.60 77.62L410.85 78.48L411.10 78.62L411.35 78.52L411.60 79.06L411.85 78.22L412.10 78.01L412.35 77.58L412.60 77.76L412.85 77.16L413.10 78.54L413.35 78.83L413.60 79.22L413.85 78.77L414.10 78.88L414.35 79.10L414.60 79.31L414.85 78.95L415.10 79.22L415.35 78.80L415.60 79.01L415.85 79.27L416.10 79.53L416.35 79.28L416.60 79.03L416.85 79.14L417.10 79.26L417.35 79.35L417.60 79.44L417.85 79.41L418.10 79.36L418.35 76.84L418.60 74.60L418.85 72.64L419.10 70.08L419.35 73.66L419.60 77.24L419.85 77.22L420.10 76.61L420.35 77.18L420.60 78.01L420.85 77.82L421.10 76.00L421.35 74.65L421.60 73.32L421.85 75.71L422.10 77.98L422.35 78.70L422.60 78.21L422.85 78.41L423.10 78.79L423.35 78.95L423.60 79.12L423.85 79.29L424.10 79.46L424.35 79.53L424.60 79.60L424.85 79.15L425.10 79.21L425.35 78.98L425.60 79.27L425.85 79.11L426.10 78.96L426.35 78.96L426.60 78.97L426.85 79.25L427.10 79.54L427.35 79.22L427.60 78.90L427.85 79.15L428.10 79.39L428.35 79.08L428.60 78.77L428.85 78.75L429.10 78.61L429.35 78.76L429.60 78.96L429.85 79.05L430.10 79.14L430.35 79.34L430.60 79.54L430.85 79.27L431.10 79.00L431.35 78.88L431.60 78.75L431.85 78.55L432.10 78.00L432.35 78.85L432.60 78.08L432.85 77.48L433.10 78.02L433.35 76.66L433.60 77.23L433.85 77.60L434.10 77.00L434.35 77.71L434.60 77.83L434.85 78.38L435.10 77.92L435.35 77.91L435.60 78.00L435.85 78.39L436.10 78.92L436.35 78.76L436.60 78.29L436.85 77.85L437.10 78.27L437.35 77.90L437.60 79.08L437.85 78.64L438.10 78.01L438.35 77.38L438.60 76.58L438.85 78.33L439.10 78.41L439.35 78.67L439.60 78.82L439.85 78.97L440.10 79.11L440.35 79.27L440.60 79.43L440.85 79.54L441.10 79.65L441.35 79.17L441.60 79.00L441.85 78.85L442.10 79.14L442.35 78.52L442.60 77.61L442.85 77.88L443.10 76.65L443.35 78.14L443.60 78.53L443.85 78.54L444.10 78.48L444.35 77.87L444.60 77.15L444.85 77.44L445.10 78.30L445.35 77.05L445.60 76.31L445.85 75.85L446.10 77.36L446.35 77.42L446.60 77.64L446.85 77.58L447.10 78.58L447.35 79.06L447.60 79.07L447.85 78.45L448.10 77.79L448.35 77.60L448.60 78.14L448.85 78.17L449.10 78.32L449.35 78.68L449.60 78.68L449.85 78.87L450.10 79.24L450.35 78.02L450.60 76.49L450.85 75.39L451.10 74.36L451.35 76.14L451.60 78.22L451.85 77.78L452.10 77.69L452.35 76.65L452.60 77.52L452.85 77.35L453.10 78.12L453.35 78.32L453.60 78.53L453.85 77.66L454.10 77.78L454.35 77.22L454.60 77.36L454.85 77.56L455.10 78.39L455.35 78.73L455.60 78.65L455.85 78.37L456.10 78.25L456.35 77.71L456.60 77.32L456.85 76.51L457.10 75.81L457.35 78.06L457.60 76.67L457.85 75.38L458.10 74.20L458.35 76.16L458.60 78.26L458.85 78.65L459.10 78.69L459.35 79.10L459.60 78.66L459.85 78.68L460.10 78.87L460.35 79.18L460.60 79.49L460.85 79.42L461.10 79.36L461.35 79.00L461.60 78.82L461.85 76.69L462.10 74.61L462.35 73.18L462.60 72.01L462.85 74.58L463.10 76.73L463.35 75.92L463.60 74.97L463.85 70.04L464.10 64.80L464.35 65.63L464.60 66.46L464.85 71.57L465.10 76.40L465.35 78.12L465.60 77.58L465.85 78.28L466.10 78.56L466.35 77.67L466.60 77.40L466.85 77.58L467.10 77.56L467.35 78.44L467.60 77.63L467.85 77.50L468.10 77.83L468.35 78.49L468.60 78.19L468.85 78.10L469.10 78.48L469.35 77.91L469.60 76.83L469.85 77.38L470.10 78.04L470.35 78.44L470.60 78.54L470.85 78.94L471.10 79.21L471.35 79.24L471.60 79.27L471.85 79.03L472.10 78.78L472.35 79.11L472.60 79.43L472.85 79.30L473.10 79.17L473.35 79.10L473.60 79.02L473.85 78.92L474.10 78.82L474.35 78.86L474.60 78.74L474.85 78.19L475.10 77.79L475.35 77.66L475.60 77.92L475.85 78.71L476.10 78.36L476.35 78.91L476.60 79.03L476.85 78.74L477.10 78.96L477.35 79.03L477.60 79.09L477.85 79.27L478.10 79.45L478.35 79.22L478.60 78.99L478.85 78.75L479.10 78.84L479.35 78.94L479.60 78.63L479.85 78.52L480.10 78.23L480.35 77.77L480.60 77.72L480.85 77.84L481.10 78.37L481.35 77.48L481.60 77.60L481.85 77.32L482.10 76.96L482.35 77.39L482.60 77.20L482.85 77.56L483.10 77.73L483.35 77.75L483.60 77.94L483.85 77.62L484.10 78.59L484.35 78.33L484.60 78.89L484.85 79.15L485.10 79.64L485.35 79.62L485.60 79.60L485.85 79.60L486.10 79.60L486.35 79.00L486.60 77.67L486.85 77.68L487.10 77.07L487.35 77.58L487.60 78.47L487.85 78.34L488.10 78.56L488.35 77.88L488.60 77.88L488.85 78.35L489.10 77.61L489.35 78.10L489.60 77.10L489.85 77.52L490.10 77.26L490.35 78.67L490.60 78.87L490.85 78.37L491.10 79.29L491.35 79.10L491.60 78.75L491.85 78.95L492.10 79.31L492.35 79.35L492.60 79.40L492.85 79.45L493.10 79.49L493.35 79.35L493.60 79.20L493.85 78.95L494.10 78.04L494.35 77.41L494.60 75.77L494.85 76.96L495.10 77.63L495.35 78.44L495.60 79.19L495.85 78.31L496.10 77.52L496.35 76.94L496.60 75.84L496.85 75.03L497.10 73.07L497.35 72.19L497.60 71.22L497.85 72.64L498.10 74.35L498.35 76.33L498.60 77.58L498.85 77.74L499.10 78.91L499.35 78.75L499.60 79.55L499.85 79.24L500.10 78.92L500.35 78.96L500.60 79.01L500.85 78.76L501.10 78.65L501.35 78.81L501.60 79.10L501.85 79.16L502.10 79.22L502.35 78.95L502.60 78.84L502.85 78.76L503.10 78.84L503.35 78.21L503.60 77.70L503.85 78.15L504.10 76.61L504.35 76.68L504.60 77.34L504.85 77.13L505.10 77.22L505.35 78.22L505.60 78.43L505.85 78.22L506.10 78.80L506.35 78.05L506.60 78.43L506.85 78.24L507.10 77.13L507.35 77.20L507.60 78.46L507.85 78.26L508.10 78.70L508.35 78.94L508.60 79.06L508.85 79.03L509.10 79.47L509.35 79.36L509.60 79.26L509.85 79.38L510.10 79.50L510.35 79.40L510.60 79.30L510.85 79.02L511.10 78.75L511.35 78.72L511.60 79.03L511.85 79.09L512.10 78.73L512.35 77.99L512.60 78.31L512.85 77.66L513.10 76.25L513.35 77.50L513.60 78.53L513.85 78.27L514.10 77.85L514.35 77.89L514.60 78.90L514.85 78.64L515.10 78.73L515.35 79.09L515.60 78.79L515.85 78.68L516.10 78.50L516.35 78.77L516.60 79.10L516.85 78.93L517.10 79.17L517.35 79.39L517.60 79.61L517.85 79.45L518.10 79.29L518.35 79.38L518.60 79.46L518.85 79.14L519.10 78.82L519.35 78.83L519.60 78.83L519.85 78.88L520.10 78.38L520.35 78.39L520.60 77.09L520.85 76.84L521.10 77.33L521.35 77.48L521.60 78.62L521.85 77.36L522.10 78.23L522.35 77.97L522.60 77.45L522.85 77.41L523.10 76.54L523.35 77.49L523.60 78.61L523.85 79.08L524.10 79.46L524.35 79.05L524.60 78.97L524.85 78.81L525.10 78.64L525.35 76.88L525.60 77.40L525.85 77.24L526.10 77.26L526.35 77.17L526.60 77.40L526.85 77.34L527.10 77.79L527.35 77.46L527.60 79.00L527.85 79.19L528.10 79.16L528.35 79.15L528.60 79.15L528.85 78.88L529.10 78.79L529.35 78.91L529.60 79.20L529.85 78.89L530.10 79.16L530.35 78.91L530.60 77.87L530.85 77.78L531.10 77.63L531.35 77.35L531.60 78.31L531.85 77.30L532.10 77.78L532.35 77.74L532.60 77.16L532.85 78.27L533.10 78.51L533.35 78.76L533.60 78.99L533.85 78.75L534.10 79.31L534.35 78.74L534.60 79.04L534.85 78.03L535.10 76.88L535.35 78.44L535.60 78.82L535.85 78.62L536.10 79.21L536.35 79.12L536.60 79.04L536.85 78.40L537.10 77.60L537.35 77.56L537.60 77.10L537.85 78.05L538.10 76.83L538.35 70.31L538.60 64.40L538.85 63.06L539.10 62.39L539.35 66.14L539.60 70.29L539.85 68.34L540.10 66.62L540.35 70.57L540.60 74.07L540.85 76.71L541.10 78.39L541.35 78.51L541.60 79.29L541.85 79.15L542.10 79.00L542.35 78.84L542.60 79.13L542.85 78.95L543.10 78.99L543.35 78.78L543.60 79.11L543.85 78.87L544.10 78.32L544.35 77.59L544.60 77.61L544.85 77.44L545.10 77.56L545.35 76.99L545.60 77.85L545.85 77.46L546.10 78.47L546.35 78.60L546.60 78.91L546.85 79.06L547.10 79.21L547.35 78.84L547.60 78.94L547.85 78.63L548.10 77.65L548.35 77.25L548.60 77.36L548.85 76.48L549.10 77.96L549.35 77.97L549.60 77.95L549.85 77.79L550.10 78.19L550.35 77.92L550.60 77.30L550.85 77.63L551.10 77.11L551.35 78.64L551.60 78.14L551.85 79.14L552.10 79.23L552.35 78.80L552.60 78.60L552.85 78.84L553.10 77.71L553.35 78.58L553.60 78.12L553.85 77.37L554.10 77.71L554.35 77.58L554.60 78.41L554.85 78.52L555.10 78.15L555.35 78.83L555.60 79.27L555.85 79.08L556.10 78.88L556.35 79.11L556.60 77.91L556.85 78.35L557.10 78.09L557.35 78.04L557.60 77.64L557.85 78.22L558.10 78.89L558.35 78.97L558.60 79.04L558.85 79.00L559.10 78.96L559.35 78.97L559.60 78.98L559.85 78.92L560.10 78.86L560.35 78.90L560.60 78.95L560.85 78.97L561.10 79.00L561.35 79.16L561.60 79.32L561.85 79.02L562.10 78.72L562.35 78.44L562.60 77.04L562.85 76.08L563.10 74.97L563.35 76.89L563.60 78.02L563.85 78.57L564.10 79.12L564.35 78.78L564.60 78.69L564.85 78.64L565.10 78.14L565.35 78.22L565.60 78.31L565.85 77.56L566.10 77.64L566.35 77.65L566.60 76.78L566.85 78.38L567.10 78.62L567.35 78.40L567.60 79.29L567.85 78.91L568.10 78.50L568.35 78.77L568.60 78.10L568.85 78.20L569.10 77.86L569.35 77.67L569.60 78.42L569.85 78.82L570.10 78.66L570.35 78.95L570.60 79.07L570.85 79.10L571.10 78.83L571.35 78.87L571.60 78.92L571.85 78.91L572.10 78.90L572.35 78.98L572.60 79.05L572.85 78.74L573.10 78.73L573.35 78.62L573.60 78.80L573.85 78.65L574.10 78.73L574.35 77.23L574.60 77.03L574.85 78.17L575.10 78.29L575.35 78.43L575.60 78.68L575.85 78.41L576.10 77.73L576.35 77.26L576.60 77.76L576.85 78.17L577.10 78.38L577.35 77.25L577.60 78.01L577.85 77.28L578.10 77.75L578.35 78.20L578.60 78.33L578.85 78.78L579.10 79.28L579.35 79.24L579.60 79.19L579.85 79.02L580.10 78.84L580.35 78.79L580.60 78.75L580.85 79.03L581.10 79.31L581.35 78.98L581.60 79.16L581.85 79.05L582.10 78.43L582.35 78.66L582.60 78.90L582.85 78.70L583.10 78.66L583.35 78.89L583.60 78.31L583.85 78.65L584.10 78.96L584.35 78.32L584.60 78.16L584.85 78.49L585.10 77.37L585.35 77.90L585.60 78.48L585.85 78.35L586.10 77.69L586.35 78.16L586.60 76.62L586.85 77.72L587.10 78.14L587.35 77.73L587.60 78.49L587.85 78.36L588.10 78.34L588.35 77.86L588.60 78.58L588.85 78.35L589.10 77.58L589.35 78.19L589.60 77.85L589.85 78.30L590.10 78.16L590.35 78.72L590.60 78.46L590.85 78.02L591.10 78.97L591.35 78.16L591.60 77.95L591.85 76.18L592.10 75.25L592.35 76.24L592.60 77.65L592.85 78.09L593.10 77.77L593.35 77.17L593.60 77.99L593.85 78.21L594.10 77.76L594.35 77.14L594.60 77.10L594.85 77.77L595.10 77.39L595.35 77.95L595.60 78.68L595.85 78.30L596.10 77.56L596.35 78.07L596.60 76.29L596.85 78.31L597.10 78.67L597.35 77.36L597.60 77.47L597.85 76.71L598.10 75.90L598.35 77.06L598.60 78.16L598.85 78.04L599.10 79.28L599.35 78.51L599.60 77.45L599.85 76.61L600.10 75.78L600.35 77.21L600.60 78.71L600.85 78.75L601.10 78.56L601.35 79.15L601.60 78.98L601.85 78.87L602.10 78.56L602.35 78.32L602.60 78.16L602.85 78.61L603.10 78.71L603.35 79.16L603.60 78.82L603.85 79.00L604.10 79.19L604.35 78.93L604.60 78.88L604.85 78.99L605.10 79.31L605.35 79.24L605.60 79.16L605.85 79.13L606.10 79.09L606.35 79.06L606.60 79.03L606.85 78.88L607.10 78.73L607.35 78.79L607.60 78.86L607.85 79.04L608.10 79.22L608.35 78.92L608.60 78.65L608.85 78.70L609.10 78.79L609.35 79.03L609.60 79.27L609.85 79.19L610.10 79.10L610.35 78.96L610.60 78.75L610.85 78.62L611.10 78.52L611.35 78.40L611.60 78.65L611.85 78.38L612.10 78.64L612.35 78.25L612.60 78.84L612.85 78.77L613.10 79.07L613.35 79.27L613.60 79.46L613.85 79.35L614.10 79.23L614.35 79.21L614.60 79.18L614.85 79.09L615.10 78.99L615.35 79.13L615.60 79.27L615.85 79.15L616.10 79.02L616.35 79.04L616.60 79.06L616.85 78.38L617.10 77.89L617.35 77.55L617.60 77.53L617.85 77.13L618.10 78.75L618.35 78.46L618.60 79.06L618.85 78.73L619.10 78.84L619.35 79.04L619.60 79.23L619.85 79.31L620.10 79.38L620.35 79.15L620.60 78.92L620.85 78.79L621.10 78.51L621.35 78.12L621.60 78.67L621.85 78.31L622.10 79.05L622.35 78.79L622.60 78.75L622.85 78.96L623.10 79.18L623.35 78.75L623.60 78.54L623.85 78.45L624.10 78.53L624.35 78.60L624.60 78.39L624.85 77.64L625.10 77.56L625.35 76.35L625.60 75.19L625.85 77.82L626.10 78.41L626.35 77.97L626.60 78.35L626.85 78.66L627.10 78.02L627.35 78.49L627.60 77.05L627.85 77.17L628.10 78.42L628.35 77.44L628.60 76.88L628.85 77.93L629.10 78.52L629.35 78.58L629.60 77.93L629.85 77.38L630.10 76.90L630.35 77.61L630.60 78.12L630.85 78.21L631.10 78.54L631.35 78.35L631.60 78.34L631.85 77.12L632.10 77.42L632.35 76.59L632.60 77.94L632.85 78.71L633.10 79.40L633.35 78.90L633.60 78.78L633.85 77.88L634.10 77.44L634.35 78.29L634.60 77.84L634.85 77.25L635.10 77.69L635.35 78.31L635.60 78.57L635.85 78.76L636.10 78.49L636.35 78.28L636.60 78.25L636.85 78.27L637.10 78.65L637.35 78.79L637.60 78.26L637.85 78.25L638.10 78.93L638.35 78.73L638.60 78.73L638.85 79.18L639.10 79.23L639.35 78.83L639.60 78.76L639.85 78.19L640.10 78.33L640.35 79.07L640.60 78.90L640.85 78.33L641.10 78.55L641.35 78.79L641.60 79.13L641.85 79.02L642.10 78.78L642.35 78.87L642.60 78.17L642.85 78.91L643.10 78.21L643.35 78.74L643.60 79.14L643.85 78.45L644.10 78.15L644.35 78.77L644.60 78.74L644.85 78.93L645.10 79.12L645.35 78.81L645.60 78.84L645.85 78.62L646.10 78.02L646.35 77.03L646.60 76.72L646.85 76.73L647.10 77.59L647.35 77.49L647.60 77.18L647.85 78.04L648.10 78.39L648.35 78.28L648.60 76.73L648.85 77.47L649.10 75.90L649.35 76.02L649.60 76.39L649.85 76.92L650.10 78.22L650.35 76.29L650.60 76.40L650.85 78.14L651.10 77.09L651.35 78.33L651.60 77.03L651.85 76.12L652.10 75.14L652.35 76.76L652.60 78.26L652.85 78.15L653.10 78.04L653.35 78.38L653.60 78.53L653.85 78.73L654.10 79.02L654.35 79.09L654.60 79.16L654.85 79.26L655.10 79.36L655.35 78.84L655.60 78.83L655.85 77.02L656.10 75.97L656.35 78.24L656.60 77.79L656.85 78.29L657.10 78.84L657.35 78.92L657.60 78.99L657.85 78.81L658.10 78.25L658.35 78.77L658.60 78.19L658.85 78.08L659.10 78.65L659.35 78.79L659.60 77.68L659.85 78.02L660.10 77.42L660.35 77.81L660.60 78.04L660.85 78.41L661.10 78.38L661.35 78.42L661.60 78.87L661.85 78.11L662.10 78.77L662.35 78.64L662.60 77.55L662.85 78.23L663.10 76.30L663.35 77.30L663.60 77.75L663.85 78.54L664.10 78.79L664.35 78.41L664.60 77.36L664.85 77.78L665.10 76.73L665.35 77.96L665.60 76.98L665.85 77.35L666.10 78.08L666.35 77.28L666.60 77.60L666.85 77.34L667.10 77.06L667.35 76.93L667.60 77.76L667.85 77.57L668.10 77.40L668.35 76.87L668.60 77.88L668.85 78.13L669.10 78.72L669.35 78.81L669.60 78.96L669.85 79.07L670.10 78.67L670.35 78.61L670.60 79.07L670.85 79.02L671.10 78.71L671.35 78.78L671.60 78.85L671.85 79.21L672.10 78.52L672.35 78.84L672.60 78.79L672.85 78.22L673.10 78.60L673.35 78.75L673.60 78.55L673.85 78.78L674.10 79.44L674.2 79.90Z" fill="#ff3a00" stroke="#900000" stroke-width="0.78" stroke-linejoin="round"/>
<path d="M395.2 82.80H397.9V102.90" fill="none" stroke="#333" stroke-width="0.75"/>
<text x="385.61" y="84.40" font-size="4.8" textLength="4.89" lengthAdjust="spacingAndGlyphs" fill="#111">45</text>
<text x="376.19" y="95.20" font-size="5" textLength="9.81" lengthAdjust="spacingAndGlyphs" fill="#111">P300</text>
<path d="M398.6 102.90L398.60 101.93L398.85 101.22L399.10 99.62L399.35 99.45L399.60 98.16L399.85 98.25L400.10 97.85L400.35 96.95L400.60 97.62L400.85 98.24L401.10 99.54L401.35 99.57L401.60 100.67L401.85 99.03L402.10 100.37L402.35 99.14L402.60 98.39L402.85 98.74L403.10 100.36L403.35 98.69L403.60 95.86L403.85 97.66L404.10 97.48L404.35 98.71L404.60 100.07L404.85 100.89L405.10 99.35L405.35 99.94L405.60 99.64L405.85 100.62L406.10 99.99L406.35 99.23L406.60 99.92L406.85 100.90L407.10 102.02L407.35 101.64L407.60 101.47L407.85 100.77L408.10 99.48L408.35 99.89L408.60 97.95L408.85 99.44L409.10 100.02L409.35 99.51L409.60 98.67L409.85 96.94L410.10 95.66L410.35 98.06L410.60 100.02L410.85 100.08L411.10 97.36L411.35 100.37L411.60 100.37L411.85 99.62L412.10 100.87L412.35 100.67L412.60 99.30L412.85 99.44L413.10 98.84L413.35 98.11L413.60 97.36L413.85 98.45L414.10 96.25L414.35 98.01L414.60 100.52L414.85 99.37L415.10 99.85L415.35 99.51L415.60 99.51L415.85 96.53L416.10 96.44L416.35 95.83L416.60 98.92L416.85 98.17L417.10 98.15L417.35 98.78L417.60 100.66L417.85 100.01L418.10 101.37L418.35 101.15L418.60 98.35L418.85 99.35L419.10 98.98L419.35 97.48L419.60 98.41L419.85 96.93L420.10 95.39L420.35 97.89L420.60 98.21L420.85 96.78L421.10 97.00L421.35 97.75L421.60 97.09L421.85 100.25L422.10 100.32L422.35 100.63L422.60 99.94L422.85 99.48L423.10 99.43L423.35 98.05L423.60 96.11L423.85 98.51L424.10 97.85L424.35 98.68L424.60 100.90L424.85 99.12L425.10 98.52L425.35 97.61L425.60 97.29L425.85 98.46L426.10 100.19L426.35 100.08L426.60 98.94L426.85 100.07L427.10 96.99L427.35 96.79L427.60 95.10L427.85 98.63L428.10 98.72L428.35 100.67L428.60 100.42L428.85 100.98L429.10 99.58L429.35 99.01L429.60 99.27L429.85 99.52L430.10 100.88L430.35 100.74L430.60 101.64L430.85 100.48L431.10 98.31L431.35 100.77L431.60 101.42L431.85 101.23L432.10 101.24L432.35 100.53L432.60 98.71L432.85 96.33L433.10 94.28L433.35 96.73L433.60 97.96L433.85 95.43L434.10 93.84L434.35 98.06L434.60 97.78L434.85 99.81L435.10 99.54L435.35 98.03L435.60 97.36L435.85 97.25L436.10 97.49L436.35 98.84L436.60 99.11L436.85 100.15L437.10 100.74L437.35 101.55L437.60 102.12L437.85 102.00L438.10 101.94L438.35 100.57L438.60 99.03L438.85 98.16L439.10 95.87L439.35 97.02L439.60 96.58L439.85 98.36L440.10 99.39L440.35 99.61L440.60 99.72L440.85 100.83L441.10 99.54L441.35 101.09L441.60 101.80L441.85 101.85L442.10 101.93L442.35 102.10L442.60 102.05L442.85 100.64L443.10 99.92L443.35 100.30L443.60 100.43L443.85 100.79L444.10 100.97L444.35 101.12L444.60 100.99L444.85 98.61L445.10 99.79L445.35 99.16L445.60 99.22L445.85 98.75L446.10 99.57L446.35 98.08L446.60 98.51L446.85 100.24L447.10 100.62L447.35 101.08L447.60 101.30L447.85 99.48L448.10 99.42L448.35 99.19L448.60 95.79L448.85 97.35L449.10 99.41L449.35 98.72L449.60 101.26L449.85 101.78L450.10 102.12L450.35 101.93L450.60 101.74L450.85 101.71L451.10 101.28L451.35 99.97L451.60 100.23L451.85 100.15L452.10 97.16L452.35 98.89L452.60 99.73L452.85 101.48L453.10 101.98L453.35 101.32L453.60 99.67L453.85 99.65L454.10 99.29L454.35 100.23L454.60 100.28L454.85 98.81L455.10 99.22L455.35 99.09L455.60 99.90L455.85 99.67L456.10 100.46L456.35 98.38L456.60 97.92L456.85 95.86L457.10 96.45L457.35 98.18L457.60 98.85L457.85 99.48L458.10 98.91L458.35 98.02L458.60 95.84L458.85 94.48L459.10 93.28L459.35 95.43L459.60 98.08L459.85 99.78L460.10 99.85L460.35 100.03L460.60 98.05L460.85 99.73L461.10 100.86L461.35 100.81L461.60 101.88L461.85 100.85L462.10 99.01L462.35 99.41L462.60 99.79L462.85 99.84L463.10 101.00L463.35 99.73L463.60 97.15L463.85 91.58L464.10 85.27L464.35 87.00L464.60 88.09L464.85 93.54L465.10 99.15L465.35 98.61L465.60 98.10L465.85 96.46L466.10 94.61L466.35 97.64L466.60 99.78L466.85 100.61L467.10 101.47L467.35 100.40L467.60 98.59L467.85 99.20L468.10 98.03L468.35 97.01L468.60 94.42L468.85 95.15L469.10 96.52L469.35 99.16L469.60 98.47L469.85 100.12L470.10 101.21L470.35 101.53L470.60 102.34L470.85 102.25L471.10 102.17L471.35 102.03L471.60 101.89L471.85 102.09L472.10 102.28L472.35 101.39L472.60 100.63L472.85 100.90L473.10 100.91L473.35 99.80L473.60 100.11L473.85 99.19L474.10 100.41L474.35 99.90L474.60 99.57L474.85 100.96L475.10 100.95L475.35 100.08L475.60 99.54L475.85 100.53L476.10 99.27L476.35 98.67L476.60 97.19L476.85 99.21L477.10 97.43L477.35 99.17L477.60 97.90L477.85 98.31L478.10 96.10L478.35 97.17L478.60 99.79L478.85 98.85L479.10 98.78L479.35 100.22L479.60 100.33L479.85 100.43L480.10 100.36L480.35 101.72L480.60 101.93L480.85 101.26L481.10 101.51L481.35 100.84L481.60 100.04L481.85 100.31L482.10 100.65L482.35 100.08L482.60 99.19L482.85 94.91L483.10 94.83L483.35 95.35L483.60 96.54L483.85 96.16L484.10 99.41L484.35 99.04L484.60 100.77L484.85 99.35L485.10 100.24L485.35 97.70L485.60 96.85L485.85 98.78L486.10 97.37L486.35 98.68L486.60 100.63L486.85 101.15L487.10 101.73L487.35 102.09L487.60 101.24L487.85 100.63L488.10 101.13L488.35 99.70L488.60 100.36L488.85 97.95L489.10 97.48L489.35 98.60L489.60 97.02L489.85 97.91L490.10 98.62L490.35 100.23L490.60 102.08L490.85 101.56L491.10 101.62L491.35 101.27L491.60 99.50L491.85 101.03L492.10 99.77L492.35 99.56L492.60 97.02L492.85 100.12L493.10 99.91L493.35 98.29L493.60 97.68L493.85 97.84L494.10 98.77L494.35 99.13L494.60 97.44L494.85 96.99L495.10 97.92L495.35 97.95L495.60 100.43L495.85 100.42L496.10 99.97L496.35 97.48L496.60 96.78L496.85 95.37L497.10 91.95L497.35 90.97L497.60 89.16L497.85 92.20L498.10 94.97L498.35 96.98L498.60 98.52L498.85 97.97L499.10 95.50L499.35 96.50L499.60 99.80L499.85 100.33L500.10 99.30L500.35 100.12L500.60 99.80L500.85 98.66L501.10 93.97L501.35 96.77L501.60 99.25L501.85 95.88L502.10 95.52L502.35 97.76L502.60 98.30L502.85 98.96L503.10 99.92L503.35 98.84L503.60 99.07L503.85 100.45L504.10 99.98L504.35 99.36L504.60 100.46L504.85 100.77L505.10 100.17L505.35 96.57L505.60 96.00L505.85 97.01L506.10 99.26L506.35 100.28L506.60 100.55L506.85 99.45L507.10 99.36L507.35 96.91L507.60 93.03L507.85 97.66L508.10 99.09L508.35 95.72L508.60 94.20L508.85 96.82L509.10 97.51L509.35 100.32L509.60 101.71L509.85 101.75L510.10 102.06L510.35 101.49L510.60 100.92L510.85 101.27L511.10 102.15L511.35 101.56L511.60 102.07L511.85 101.81L512.10 102.20L512.35 101.93L512.60 101.23L512.85 101.49L513.10 99.84L513.35 101.21L513.60 100.86L513.85 99.11L514.10 98.20L514.35 99.62L514.60 97.26L514.85 95.76L515.10 96.23L515.35 98.82L515.60 98.55L515.85 99.75L516.10 96.12L516.35 99.08L516.60 99.93L516.85 101.02L517.10 100.17L517.35 100.46L517.60 99.22L517.85 99.03L518.10 97.59L518.35 97.38L518.60 99.15L518.85 99.16L519.10 100.83L519.35 100.23L519.60 99.42L519.85 97.68L520.10 95.39L520.35 98.16L520.60 98.09L520.85 98.71L521.10 100.36L521.35 101.45L521.60 101.40L521.85 102.21L522.10 102.01L522.35 100.53L522.60 99.87L522.85 98.95L523.10 97.14L523.35 99.06L523.60 98.78L523.85 98.57L524.10 99.95L524.35 100.05L524.60 101.12L524.85 101.24L525.10 101.01L525.35 101.19L525.60 99.23L525.85 100.10L526.10 99.19L526.35 99.39L526.60 99.73L526.85 101.09L527.10 100.93L527.35 101.70L527.60 101.69L527.85 100.39L528.10 100.15L528.35 99.81L528.60 98.19L528.85 98.82L529.10 98.05L529.35 97.86L529.60 93.57L529.85 95.39L530.10 98.15L530.35 100.39L530.60 100.34L530.85 99.06L531.10 100.26L531.35 100.07L531.60 96.73L531.85 99.32L532.10 99.32L532.35 100.27L532.60 100.28L532.85 100.78L533.10 101.70L533.35 100.59L533.60 99.19L533.85 100.18L534.10 97.60L534.35 98.88L534.60 99.73L534.85 99.95L535.10 98.53L535.35 98.77L535.60 99.32L535.85 100.10L536.10 101.60L536.35 101.02L536.60 100.55L536.85 100.57L537.10 101.17L537.35 100.25L537.60 99.99L537.85 99.98L538.10 99.91L538.35 98.14L538.60 98.17L538.85 98.49L539.10 95.82L539.35 94.49L539.60 92.88L539.85 95.72L540.10 98.56L540.35 97.58L540.60 97.31L540.85 96.29L541.10 97.12L541.35 98.36L541.60 98.11L541.85 98.34L542.10 95.05L542.35 93.04L542.60 91.24L542.85 95.02L543.10 98.30L543.35 99.31L543.60 99.39L543.85 99.41L544.10 100.59L544.35 100.22L544.60 98.14L544.85 99.46L545.10 100.56L545.35 100.45L545.60 99.42L545.85 99.09L546.10 99.55L546.35 98.50L546.60 99.01L546.85 97.56L547.10 93.66L547.35 95.39L547.60 96.85L547.85 98.36L548.10 99.78L548.35 98.15L548.60 97.50L548.85 97.95L549.10 96.35L549.35 98.50L549.60 98.00L549.85 96.81L550.10 95.72L550.35 97.59L550.60 99.40L550.85 96.67L551.10 96.35L551.35 95.11L551.60 97.83L551.85 98.95L552.10 96.93L552.35 100.06L552.60 100.56L552.85 100.47L553.10 100.11L553.35 99.17L553.60 100.49L553.85 98.78L554.10 100.48L554.35 100.48L554.60 99.00L554.85 98.61L555.10 99.86L555.35 100.68L555.60 100.80L555.85 101.74L556.10 101.68L556.35 101.88L556.60 102.09L556.85 101.97L557.10 101.42L557.35 100.80L557.60 99.63L557.85 99.16L558.10 100.18L558.35 98.15L558.60 96.97L558.85 98.98L559.10 99.09L559.35 97.43L559.60 96.14L559.85 97.45L560.10 99.60L560.35 99.57L560.60 99.57L560.85 98.43L561.10 97.76L561.35 97.67L561.60 100.48L561.85 100.36L562.10 99.08L562.35 99.60L562.60 100.81L562.85 101.01L563.10 101.92L563.35 101.43L563.60 101.57L563.85 100.75L564.10 99.44L564.35 100.05L564.60 99.75L564.85 99.09L565.10 96.64L565.35 97.82L565.60 100.50L565.85 98.26L566.10 99.35L566.35 98.84L566.60 99.19L566.85 101.18L567.10 100.55L567.35 101.42L567.60 99.88L567.85 99.77L568.10 98.76L568.35 98.97L568.60 100.72L568.85 100.53L569.10 99.00L569.35 96.97L569.60 95.73L569.85 99.36L570.10 100.60L570.35 98.00L570.60 96.69L570.85 97.75L571.10 100.32L571.35 99.59L571.60 98.19L571.85 96.93L572.10 95.41L572.35 98.02L572.60 98.93L572.85 97.24L573.10 97.82L573.35 98.50L573.60 100.49L573.85 98.40L574.10 98.61L574.35 99.23L574.60 95.79L574.85 98.59L575.10 98.21L575.35 96.55L575.60 94.80L575.85 97.45L576.10 98.56L576.35 100.44L576.60 99.20L576.85 100.49L577.10 101.12L577.35 100.43L577.60 100.83L577.85 100.26L578.10 99.70L578.35 96.62L578.60 97.27L578.85 97.46L579.10 100.24L579.35 100.50L579.60 99.83L579.85 98.19L580.10 98.34L580.35 95.16L580.60 97.61L580.85 95.23L581.10 97.98L581.35 100.98L581.60 101.90L581.85 101.68L582.10 101.60L582.35 101.35L582.60 100.09L582.85 98.92L583.10 97.98L583.35 98.12L583.60 100.27L583.85 99.58L584.10 98.70L584.35 98.59L584.60 99.84L584.85 98.80L585.10 98.02L585.35 100.01L585.60 99.38L585.85 101.31L586.10 101.77L586.35 101.76L586.60 101.79L586.85 101.91L587.10 101.49L587.35 101.40L587.60 100.39L587.85 99.44L588.10 96.80L588.35 97.70L588.60 99.45L588.85 99.09L589.10 100.83L589.35 100.24L589.60 99.85L589.85 99.85L590.10 99.05L590.35 99.45L590.60 100.22L590.85 100.96L591.10 99.99L591.35 98.13L591.60 98.10L591.85 96.43L592.10 95.39L592.35 96.46L592.60 97.49L592.85 98.64L593.10 97.65L593.35 98.92L593.60 98.59L593.85 97.91L594.10 96.37L594.35 98.32L594.60 99.97L594.85 98.17L595.10 94.52L595.35 96.59L595.60 99.98L595.85 98.79L596.10 99.11L596.35 95.55L596.60 95.31L596.85 95.37L597.10 99.24L597.35 99.66L597.60 98.78L597.85 97.84L598.10 100.32L598.35 101.02L598.60 100.67L598.85 100.37L599.10 100.95L599.35 101.07L599.60 99.17L599.85 98.36L600.10 95.28L600.35 96.88L600.60 99.88L600.85 99.54L601.10 100.70L601.35 101.35L601.60 101.06L601.85 101.61L602.10 101.72L602.35 101.91L602.60 101.75L602.85 101.68L603.10 101.19L603.35 100.62L603.60 100.19L603.85 98.70L604.10 99.01L604.35 100.42L604.60 100.41L604.85 100.41L605.10 100.53L605.35 98.73L605.60 96.24L605.85 98.23L606.10 99.82L606.35 99.50L606.60 100.78L606.85 101.22L607.10 100.02L607.35 99.95L607.60 98.90L607.85 99.40L608.10 99.09L608.35 99.37L608.60 100.42L608.85 100.40L609.10 101.25L609.35 101.09L609.60 100.15L609.85 100.17L610.10 101.64L610.35 100.96L610.60 101.72L610.85 100.79L611.10 101.14L611.35 99.27L611.60 100.06L611.85 96.34L612.10 97.44L612.35 97.33L612.60 98.78L612.85 98.34L613.10 96.19L613.35 97.86L613.60 100.39L613.85 101.43L614.10 101.67L614.35 101.69L614.60 101.83L614.85 101.70L615.10 102.17L615.35 101.71L615.60 100.79L615.85 101.13L616.10 100.76L616.35 100.69L616.60 101.20L616.85 101.24L617.10 100.50L617.35 101.00L617.60 100.49L617.85 99.14L618.10 100.85L618.35 98.77L618.60 97.79L618.85 99.22L619.10 98.23L619.35 98.18L619.60 99.14L619.85 96.39L620.10 95.20L620.35 95.87L620.60 94.54L620.85 97.56L621.10 99.74L621.35 99.15L621.60 96.50L621.85 93.72L622.10 92.87L622.35 95.55L622.60 96.65L622.85 98.83L623.10 100.43L623.35 100.57L623.60 100.33L623.85 99.22L624.10 100.07L624.35 100.29L624.60 100.72L624.85 99.62L625.10 100.54L625.35 100.56L625.60 101.37L625.85 99.96L626.10 100.63L626.35 99.14L626.60 98.17L626.85 95.85L627.10 98.54L627.35 98.27L627.60 100.22L627.85 100.65L628.10 100.39L628.35 100.33L628.60 100.01L628.85 98.70L629.10 98.92L629.35 98.19L629.60 99.43L629.85 99.81L630.10 98.23L630.35 98.99L630.60 98.57L630.85 99.93L631.10 99.63L631.35 99.29L631.60 97.90L631.85 95.99L632.10 96.08L632.35 98.44L632.60 100.04L632.85 99.75L633.10 101.93L633.35 101.86L633.60 101.85L633.85 101.84L634.10 101.84L634.35 100.96L634.60 100.10L634.85 100.26L635.10 96.76L635.35 99.23L635.60 100.00L635.85 100.89L636.10 102.05L636.35 102.15L636.60 102.25L636.85 101.83L637.10 101.73L637.35 101.12L637.60 100.08L637.85 96.26L638.10 95.24L638.35 98.61L638.60 97.18L638.85 97.66L639.10 98.52L639.35 99.64L639.60 96.55L639.85 98.33L640.10 95.18L640.35 98.14L640.60 98.22L640.85 99.74L641.10 100.76L641.35 99.55L641.60 100.27L641.85 98.22L642.10 98.10L642.35 98.58L642.60 98.89L642.85 100.28L643.10 100.54L643.35 97.75L643.60 96.72L643.85 97.74L644.10 98.41L644.35 99.69L644.60 101.31L644.85 100.59L645.10 100.53L645.35 101.20L645.60 101.50L645.85 100.57L646.10 100.60L646.35 100.04L646.60 99.99L646.85 98.64L647.10 97.81L647.35 100.03L647.60 100.53L647.85 100.90L648.10 101.41L648.35 99.97L648.60 99.31L648.85 100.08L649.10 97.34L649.35 96.90L649.60 98.59L649.85 98.57L650.10 100.31L650.35 99.52L650.60 99.13L650.85 99.14L651.10 98.31L651.35 99.29L651.60 97.84L651.85 96.23L652.10 94.21L652.35 97.45L652.60 100.62L652.85 101.03L653.10 101.77L653.35 101.50L653.60 100.61L653.85 100.04L654.10 99.49L654.35 99.52L654.60 100.17L654.85 99.48L655.10 98.70L655.35 99.97L655.60 99.55L655.85 99.68L656.10 99.02L656.35 98.29L656.60 97.45L656.85 98.63L657.10 101.06L657.35 99.26L657.60 97.56L657.85 97.00L658.10 94.98L658.35 97.99L658.60 99.71L658.85 99.52L659.10 97.22L659.35 96.23L659.60 94.66L659.85 97.92L660.10 98.38L660.35 97.34L660.60 98.68L660.85 99.68L661.10 101.40L661.35 100.69L661.60 101.01L661.85 100.88L662.10 98.35L662.35 98.28L662.60 98.79L662.85 97.68L663.10 98.71L663.35 100.40L663.60 101.00L663.85 99.98L664.10 100.70L664.35 97.74L664.60 97.18L664.85 97.71L665.10 100.75L665.35 100.68L665.60 98.81L665.85 99.70L666.10 100.12L666.35 100.68L666.60 100.62L666.85 98.01L667.10 97.02L667.35 97.78L667.60 99.78L667.85 98.64L668.10 99.87L668.35 98.20L668.60 98.69L668.85 99.18L669.10 99.55L669.35 99.96L669.60 100.68L669.85 100.95L670.10 99.49L670.35 98.95L670.60 99.78L670.85 97.23L671.10 97.61L671.35 98.14L671.60 100.28L671.85 100.55L672.10 100.49L672.35 100.03L672.60 99.61L672.85 99.08L673.10 99.93L673.35 100.10L673.60 101.12L673.85 101.57L674.10 101.19L674.2 102.90Z" fill="#ff3a00" stroke="#900000" stroke-width="0.78" stroke-linejoin="round"/>
<path d="M395.2 105.40H397.9V126.20" fill="none" stroke="#333" stroke-width="0.75"/>
<text x="383.16" y="107.00" font-size="4.8" textLength="7.34" lengthAdjust="spacingAndGlyphs" fill="#111">129</text>
<text x="375.26" y="117.80" font-size="5" textLength="10.74" lengthAdjust="spacingAndGlyphs" fill="#111">POL2</text>
<path d="M398.6 126.20L398.60 125.98L398.85 126.03L399.10 126.08L399.35 126.09L399.60 126.11L399.85 126.03L400.10 125.95L400.35 125.94L400.60 125.92L400.85 125.93L401.10 125.95L401.35 125.91L401.60 125.87L401.85 125.85L402.10 125.82L402.35 125.90L402.60 125.97L402.85 126.00L403.10 126.03L403.35 126.02L403.60 126.01L403.85 126.05L404.10 126.09L404.35 126.06L404.60 126.04L404.85 125.98L405.10 125.92L405.35 125.98L405.60 126.04L405.85 126.06L406.10 126.09L406.35 126.05L406.60 126.02L406.85 126.00L407.10 125.98L407.35 125.98L407.60 125.97L407.85 125.98L408.10 125.99L408.35 126.01L408.60 126.03L408.85 125.99L409.10 125.95L409.35 125.94L409.60 125.92L409.85 126.00L410.10 126.08L410.35 126.10L410.60 126.13L410.85 126.12L411.10 126.12L411.35 126.03L411.60 125.95L411.85 126.00L412.10 126.04L412.35 126.00L412.60 125.96L412.85 126.01L413.10 126.06L413.35 126.08L413.60 126.11L413.85 126.10L414.10 126.09L414.35 126.11L414.60 126.14L414.85 126.07L415.10 126.00L415.35 125.99L415.60 125.98L415.85 126.03L416.10 126.08L416.35 126.07L416.60 126.07L416.85 126.04L417.10 126.01L417.35 125.97L417.60 125.93L417.85 125.95L418.10 125.97L418.35 125.99L418.60 126.01L418.85 126.06L419.10 126.11L419.35 126.07L419.60 126.03L419.85 125.99L420.10 125.95L420.35 125.93L420.60 125.92L420.85 125.99L421.10 126.05L421.35 126.09L421.60 126.13L421.85 126.12L422.10 126.12L422.35 126.04L422.60 125.95L422.85 125.95L423.10 125.96L423.35 125.93L423.60 125.91L423.85 125.94L424.10 125.96L424.35 126.02L424.60 126.07L424.85 126.05L425.10 126.04L425.35 125.92L425.60 125.80L425.85 125.72L426.10 125.63L426.35 125.50L426.60 125.37L426.85 125.52L427.10 125.68L427.35 125.78L427.60 125.89L427.85 125.92L428.10 125.95L428.35 125.93L428.60 125.92L428.85 125.87L429.10 125.83L429.35 125.73L429.60 125.64L429.85 125.74L430.10 125.83L430.35 125.85L430.60 125.87L430.85 125.93L431.10 125.99L431.35 125.96L431.60 125.94L431.85 125.95L432.10 125.97L432.35 126.02L432.60 126.07L432.85 126.01L433.10 125.95L433.35 125.97L433.60 126.00L433.85 126.06L434.10 126.12L434.35 126.11L434.60 126.09L434.85 126.02L435.10 125.95L435.35 126.02L435.60 126.08L435.85 126.11L436.10 126.15L436.35 126.10L436.60 126.05L436.85 126.02L437.10 125.99L437.35 125.98L437.60 125.98L437.85 126.04L438.10 126.10L438.35 126.06L438.60 126.01L438.85 125.97L439.10 125.92L439.35 125.98L439.60 126.04L439.85 125.99L440.10 125.94L440.35 126.00L440.60 126.06L440.85 126.07L441.10 126.09L441.35 126.08L441.60 126.07L441.85 126.02L442.10 125.98L442.35 125.98L442.60 125.99L442.85 126.04L443.10 126.09L443.35 126.03L443.60 125.96L443.85 126.03L444.10 126.10L444.35 126.04L444.60 125.99L444.85 125.99L445.10 126.00L445.35 125.99L445.60 125.97L445.85 125.99L446.10 126.01L446.35 125.98L446.60 125.94L446.85 125.91L447.10 125.89L447.35 125.98L447.60 126.07L447.85 126.03L448.10 125.99L448.35 125.99L448.60 125.99L448.85 126.05L449.10 126.11L449.35 126.11L449.60 126.10L449.85 126.11L450.10 126.12L450.35 126.13L450.60 126.14L450.85 126.13L451.10 126.11L451.35 126.13L451.60 126.14L451.85 126.12L452.10 126.11L452.35 126.09L452.60 126.07L452.85 126.06L453.10 126.05L453.35 126.03L453.60 126.00L453.85 126.01L454.10 126.02L454.35 125.86L454.60 125.70L454.85 125.65L455.10 125.60L455.35 125.72L455.60 125.83L455.85 125.88L456.10 125.92L456.35 125.85L456.60 125.76L456.85 125.62L457.10 125.47L457.35 125.35L457.60 125.25L457.85 125.27L458.10 125.23L458.35 125.28L458.60 125.32L458.85 125.45L459.10 125.61L459.35 125.73L459.60 125.84L459.85 125.91L460.10 125.97L460.35 125.98L460.60 125.99L460.85 126.04L461.10 126.09L461.35 126.04L461.60 125.99L461.85 125.80L462.10 125.61L462.35 125.38L462.60 125.13L462.85 125.10L463.10 124.97L463.35 125.13L463.60 125.34L463.85 125.59L464.10 125.47L464.35 125.59L464.60 125.71L464.85 125.89L465.10 126.08L465.35 126.05L465.60 126.02L465.85 126.04L466.10 126.06L466.35 126.09L466.60 126.11L466.85 126.04L467.10 125.96L467.35 125.97L467.60 125.98L467.85 125.98L468.10 125.99L468.35 126.04L468.60 126.09L468.85 126.12L469.10 126.15L469.35 126.07L469.60 125.99L469.85 125.99L470.10 125.99L470.35 125.96L470.60 125.92L470.85 125.98L471.10 126.04L471.35 125.99L471.60 125.94L471.85 126.00L472.10 126.06L472.35 126.07L472.60 126.07L472.85 126.03L473.10 125.98L473.35 125.98L473.60 125.97L473.85 126.03L474.10 126.08L474.35 126.06L474.60 126.04L474.85 126.02L475.10 126.00L475.35 126.05L475.60 126.10L475.85 125.93L476.10 125.77L476.35 125.61L476.60 125.46L476.85 125.63L477.10 125.81L477.35 125.96L477.60 126.11L477.85 126.13L478.10 126.15L478.35 126.09L478.60 126.04L478.85 126.06L479.10 126.08L479.35 126.03L479.60 125.99L479.85 126.01L480.10 126.04L480.35 126.02L480.60 125.99L480.85 126.01L481.10 126.02L481.35 126.02L481.60 126.01L481.85 126.04L482.10 126.07L482.35 126.09L482.60 126.12L482.85 126.12L483.10 126.12L483.35 126.09L483.60 126.06L483.85 125.96L484.10 125.87L484.35 125.70L484.60 125.53L484.85 125.38L485.10 125.23L485.35 125.36L485.60 125.50L485.85 125.63L486.10 125.76L486.35 125.88L486.60 126.00L486.85 125.92L487.10 125.84L487.35 125.92L487.60 126.00L487.85 126.07L488.10 126.13L488.35 126.10L488.60 126.08L488.85 126.02L489.10 125.95L489.35 125.97L489.60 125.99L489.85 126.05L490.10 126.11L490.35 126.09L490.60 126.06L490.85 126.03L491.10 125.99L491.35 125.94L491.60 125.88L491.85 125.79L492.10 125.70L492.35 125.74L492.60 125.77L492.85 125.77L493.10 125.76L493.35 125.79L493.60 125.81L493.85 125.81L494.10 125.81L494.35 125.87L494.60 125.92L494.85 125.91L495.10 125.90L495.35 126.00L495.60 126.09L495.85 126.05L496.10 126.01L496.35 126.03L496.60 126.06L496.85 126.01L497.10 125.95L497.35 125.89L497.60 125.82L497.85 125.69L498.10 125.55L498.35 125.66L498.60 125.77L498.85 125.72L499.10 125.67L499.35 125.43L499.60 125.20L499.85 125.26L500.10 125.23L500.35 125.35L500.60 125.50L500.85 125.65L501.10 125.86L501.35 125.95L501.60 125.96L501.85 126.03L502.10 126.10L502.35 126.04L502.60 125.98L502.85 126.03L503.10 126.07L503.35 126.02L503.60 125.97L503.85 125.80L504.10 125.62L504.35 125.53L504.60 125.44L504.85 125.61L505.10 125.78L505.35 125.94L505.60 126.11L505.85 125.86L506.10 125.62L506.35 125.41L506.60 125.20L506.85 125.40L507.10 125.60L507.35 125.76L507.60 125.92L507.85 125.97L508.10 126.03L508.35 126.07L508.60 126.12L508.85 126.06L509.10 126.00L509.35 126.00L509.60 126.00L509.85 126.03L510.10 126.06L510.35 126.02L510.60 125.98L510.85 125.99L511.10 126.01L511.35 126.02L511.60 126.02L511.85 126.00L512.10 125.98L512.35 126.03L512.60 126.08L512.85 126.04L513.10 126.01L513.35 126.05L513.60 126.10L513.85 126.12L514.10 126.14L514.35 126.12L514.60 126.10L514.85 126.06L515.10 126.02L515.35 126.03L515.60 126.04L515.85 126.02L516.10 126.00L516.35 126.04L516.60 126.09L516.85 126.04L517.10 125.99L517.35 125.99L517.60 125.98L517.85 126.00L518.10 126.01L518.35 125.92L518.60 125.83L518.85 125.72L519.10 125.61L519.35 125.65L519.60 125.48L519.85 125.48L520.10 125.43L520.35 125.50L520.60 125.64L520.85 125.77L521.10 125.92L521.35 126.03L521.60 126.09L521.85 126.04L522.10 125.99L522.35 126.01L522.60 126.04L522.85 126.08L523.10 126.12L523.35 126.10L523.60 126.08L523.85 126.08L524.10 126.08L524.35 126.08L524.60 126.07L524.85 126.07L525.10 126.07L525.35 126.05L525.60 126.04L525.85 126.08L526.10 126.12L526.35 126.14L526.60 126.15L526.85 126.05L527.10 125.96L527.35 125.93L527.60 125.90L527.85 125.96L528.10 126.02L528.35 126.05L528.60 126.08L528.85 126.08L529.10 126.09L529.35 126.11L529.60 126.13L529.85 126.11L530.10 126.09L530.35 126.03L530.60 125.97L530.85 125.94L531.10 125.90L531.35 125.98L531.60 126.05L531.85 126.05L532.10 126.06L532.35 126.08L532.60 126.10L532.85 126.07L533.10 126.04L533.35 126.04L533.60 126.04L533.85 125.87L534.10 125.69L534.35 125.48L534.60 125.27L534.85 125.43L535.10 125.59L535.35 125.84L535.60 126.10L535.85 126.04L536.10 125.98L536.35 125.95L536.60 125.91L536.85 125.92L537.10 125.94L537.35 125.95L537.60 125.96L537.85 124.88L538.10 123.47L538.35 115.25L538.60 107.78L538.85 112.63L539.10 118.38L539.35 120.89L539.60 123.75L539.85 122.02L540.10 120.33L540.35 121.17L540.60 122.24L540.85 123.38L541.10 124.51L541.35 123.80L541.60 123.16L541.85 122.90L542.10 122.63L542.35 123.24L542.60 123.63L542.85 124.26L543.10 125.00L543.35 125.07L543.60 125.10L543.85 124.81L544.10 124.50L544.35 124.17L544.60 124.02L544.85 123.96L545.10 123.82L545.35 123.93L545.60 124.08L545.85 124.44L546.10 124.70L546.35 125.08L546.60 125.37L546.85 125.29L547.10 125.19L547.35 125.00L547.60 124.88L547.85 124.83L548.10 124.79L548.35 124.85L548.60 124.94L548.85 125.17L549.10 125.34L549.35 125.50L549.60 125.68L549.85 125.84L550.10 125.92L550.35 125.92L550.60 125.93L550.85 125.93L551.10 125.94L551.35 125.94L551.60 125.94L551.85 125.94L552.10 125.94L552.35 125.98L552.60 126.02L552.85 125.97L553.10 125.93L553.35 125.97L553.60 126.02L553.85 126.00L554.10 125.98L554.35 125.97L554.60 125.95L554.85 126.01L555.10 126.08L555.35 126.10L555.60 126.12L555.85 126.04L556.10 125.96L556.35 125.96L556.60 125.97L556.85 126.02L557.10 126.07L557.35 126.03L557.60 125.99L557.85 126.00L558.10 126.01L558.35 126.00L558.60 125.99L558.85 126.01L559.10 126.03L559.35 125.98L559.60 125.94L559.85 125.93L560.10 125.92L560.35 126.00L560.60 126.08L560.85 126.04L561.10 126.00L561.35 126.00L561.60 126.00L561.85 126.06L562.10 126.12L562.35 126.11L562.60 126.10L562.85 126.03L563.10 125.97L563.35 126.00L563.60 126.02L563.85 126.06L564.10 126.10L564.35 126.08L564.60 126.06L564.85 126.08L565.10 126.11L565.35 126.12L565.60 126.14L565.85 126.12L566.10 126.11L566.35 126.13L566.60 126.14L566.85 126.11L567.10 126.07L567.35 126.02L567.60 125.97L567.85 125.90L568.10 125.83L568.35 125.78L568.60 125.73L568.85 125.78L569.10 125.82L569.35 125.86L569.60 125.89L569.85 125.96L570.10 126.03L570.35 126.03L570.60 126.03L570.85 126.01L571.10 125.99L571.35 126.04L571.60 126.08L571.85 126.05L572.10 126.01L572.35 126.03L572.60 126.04L572.85 126.07L573.10 126.10L573.35 126.10L573.60 126.09L573.85 126.01L574.10 125.93L574.35 125.97L574.60 126.02L574.85 126.01L575.10 126.01L575.35 125.91L575.60 125.81L575.85 125.78L576.10 125.75L576.35 125.70L576.60 125.64L576.85 125.64L577.10 125.64L577.35 125.79L577.60 125.94L577.85 126.01L578.10 126.09L578.35 126.02L578.60 125.94L578.85 125.97L579.10 126.00L579.35 125.99L579.60 125.99L579.85 125.92L580.10 125.86L580.35 125.78L580.60 125.70L580.85 125.82L581.10 125.94L581.35 125.90L581.60 125.85L581.85 125.85L582.10 125.85L582.35 125.74L582.60 125.63L582.85 125.40L583.10 125.17L583.35 125.44L583.60 125.71L583.85 125.85L584.10 125.99L584.35 126.04L584.60 126.10L584.85 126.12L585.10 126.14L585.35 126.08L585.60 126.03L585.85 125.99L586.10 125.95L586.35 125.96L586.60 125.98L586.85 126.03L587.10 126.08L587.35 126.03L587.60 125.98L587.85 126.02L588.10 126.06L588.35 126.06L588.60 126.06L588.85 125.99L589.10 125.93L589.35 125.97L589.60 126.02L589.85 126.06L590.10 126.09L590.35 126.09L590.60 126.09L590.85 126.10L591.10 126.10L591.35 126.03L591.60 125.96L591.85 126.00L592.10 126.04L592.35 126.09L592.60 126.14L592.85 126.14L593.10 126.15L593.35 126.08L593.60 126.01L593.85 125.88L594.10 125.76L594.35 125.66L594.60 125.56L594.85 125.71L595.10 125.86L595.35 125.93L595.60 126.00L595.85 125.96L596.10 125.92L596.35 125.90L596.60 125.88L596.85 125.96L597.10 126.04L597.35 126.02L597.60 126.00L597.85 126.02L598.10 126.04L598.35 126.04L598.60 126.04L598.85 126.06L599.10 126.08L599.35 126.10L599.60 126.13L599.85 126.06L600.10 125.99L600.35 126.03L600.60 126.06L600.85 126.10L601.10 126.15L601.35 126.13L601.60 126.12L601.85 126.11L602.10 126.10L602.35 126.11L602.60 126.13L602.85 126.08L603.10 126.04L603.35 125.88L603.60 125.72L603.85 125.54L604.10 125.36L604.35 125.51L604.60 125.67L604.85 125.80L605.10 125.93L605.35 126.00L605.60 126.07L605.85 126.08L606.10 126.09L606.35 126.08L606.60 126.07L606.85 126.05L607.10 126.04L607.35 126.02L607.60 126.01L607.85 126.06L608.10 126.11L608.35 126.06L608.60 126.01L608.85 126.05L609.10 126.09L609.35 126.03L609.60 125.96L609.85 125.98L610.10 126.01L610.35 126.04L610.60 126.06L610.85 126.06L611.10 126.06L611.35 126.05L611.60 126.04L611.85 126.04L612.10 126.03L612.35 126.03L612.60 126.03L612.85 126.05L613.10 126.07L613.35 126.06L613.60 126.04L613.85 126.01L614.10 125.98L614.35 126.00L614.60 126.02L614.85 126.00L615.10 125.97L615.35 125.90L615.60 125.83L615.85 125.81L616.10 125.79L616.35 125.73L616.60 125.66L616.85 125.69L617.10 125.73L617.35 125.83L617.60 125.93L617.85 125.75L618.10 125.57L618.35 125.34L618.60 125.11L618.85 125.36L619.10 125.61L619.35 125.87L619.60 126.12L619.85 126.12L620.10 126.11L620.35 126.06L620.60 126.02L620.85 125.97L621.10 125.93L621.35 125.95L621.60 125.97L621.85 125.97L622.10 125.98L622.35 125.99L622.60 126.00L622.85 126.02L623.10 126.05L623.35 126.01L623.60 125.98L623.85 125.96L624.10 125.94L624.35 125.92L624.60 125.90L624.85 125.91L625.10 125.91L625.35 125.95L625.60 125.98L625.85 125.99L626.10 126.00L626.35 126.03L626.60 126.05L626.85 126.03L627.10 126.00L627.35 125.99L627.60 125.98L627.85 125.94L628.10 125.91L628.35 125.96L628.60 126.01L628.85 126.04L629.10 126.07L629.35 126.05L629.60 126.04L629.85 126.03L630.10 126.03L630.35 126.07L630.60 126.11L630.85 126.06L631.10 126.02L631.35 126.03L631.60 126.04L631.85 126.02L632.10 126.01L632.35 125.99L632.60 125.97L632.85 126.03L633.10 126.10L633.35 126.03L633.60 125.96L633.85 125.93L634.10 125.91L634.35 125.91L634.60 125.91L634.85 125.98L635.10 126.05L635.35 126.03L635.60 126.01L635.85 125.99L636.10 125.97L636.35 126.03L636.60 126.10L636.85 126.12L637.10 126.14L637.35 126.05L637.60 125.96L637.85 125.94L638.10 125.92L638.35 125.91L638.60 125.91L638.85 125.94L639.10 125.97L639.35 126.00L639.60 126.03L639.85 126.02L640.10 126.01L640.35 125.97L640.60 125.92L640.85 125.98L641.10 126.03L641.35 126.07L641.60 126.11L641.85 126.04L642.10 125.97L642.35 126.03L642.60 126.10L642.85 126.06L643.10 126.02L643.35 126.04L643.60 126.05L643.85 126.01L644.10 125.97L644.35 125.95L644.60 125.93L644.85 126.01L645.10 126.08L645.35 126.08L645.60 126.07L645.85 126.05L646.10 126.02L646.35 126.07L646.60 126.12L646.85 126.05L647.10 125.99L647.35 126.00L647.60 126.01L647.85 126.04L648.10 126.06L648.35 126.07L648.60 126.07L648.85 126.09L649.10 126.11L649.35 126.04L649.60 125.97L649.85 125.93L650.10 125.90L650.35 125.91L650.60 125.92L650.85 126.00L651.10 126.08L651.35 126.03L651.60 125.98L651.85 126.03L652.10 126.08L652.35 126.09L652.60 126.09L652.85 126.04L653.10 125.98L653.35 125.98L653.60 125.98L653.85 126.04L654.10 126.09L654.35 126.11L654.60 126.14L654.85 126.09L655.10 126.04L655.35 125.99L655.60 125.93L655.85 125.96L656.10 125.99L656.35 126.03L656.60 126.07L656.85 126.08L657.10 126.10L657.35 126.06L657.60 126.01L657.85 126.01L658.10 126.01L658.35 126.01L658.60 126.01L658.85 126.02L659.10 126.02L659.35 126.02L659.60 126.02L659.85 126.00L660.10 125.98L660.35 126.01L660.60 126.05L660.85 126.06L661.10 126.07L661.35 125.86L661.60 125.65L661.85 125.47L662.10 125.28L662.35 125.45L662.60 125.62L662.85 125.83L663.10 126.04L663.35 126.04L663.60 126.04L663.85 126.03L664.10 126.03L664.35 125.98L664.60 125.92L664.85 125.99L665.10 126.06L665.35 126.07L665.60 126.08L665.85 126.03L666.10 125.97L666.35 125.96L666.60 125.94L666.85 126.02L667.10 126.10L667.35 126.08L667.60 126.05L667.85 126.02L668.10 125.98L668.35 126.05L668.60 126.11L668.85 126.05L669.10 125.99L669.35 126.03L669.60 126.06L669.85 126.01L670.10 125.96L670.35 125.93L670.60 125.90L670.85 125.94L671.10 125.99L671.35 126.00L671.60 126.00L671.85 126.00L672.10 126.00L672.35 125.99L672.60 125.98L672.85 126.03L673.10 126.07L673.35 126.02L673.60 125.97L673.85 126.00L674.10 126.02L674.2 126.20Z" fill="#ff3a00" stroke="#900000" stroke-width="0.78" stroke-linejoin="round"/>
<path d="M395.2 128.80H397.9V149.70" fill="none" stroke="#333" stroke-width="0.75"/>
<text x="383.16" y="130.40" font-size="4.8" textLength="7.34" lengthAdjust="spacingAndGlyphs" fill="#111">155</text>
<text x="374.80" y="141.20" font-size="5" textLength="11.20" lengthAdjust="spacingAndGlyphs" fill="#111">CTCF</text>
<path d="M398.6 149.70L398.60 149.45L398.85 149.52L399.10 149.58L399.35 149.61L399.60 149.65L399.85 149.65L400.10 149.65L400.35 149.58L400.60 149.52L400.85 149.54L401.10 149.56L401.35 149.59L401.60 149.61L401.85 149.62L402.10 149.64L402.35 149.63L402.60 149.63L402.85 149.59L403.10 149.55L403.35 149.58L403.60 149.60L403.85 149.58L404.10 149.55L404.35 149.53L404.60 149.51L404.85 149.56L405.10 149.60L405.35 149.61L405.60 149.62L405.85 149.61L406.10 149.60L406.35 149.59L406.60 149.58L406.85 149.56L407.10 149.55L407.35 149.55L407.60 149.55L407.85 149.44L408.10 149.33L408.35 149.25L408.60 149.17L408.85 149.27L409.10 149.38L409.35 149.47L409.60 149.57L409.85 149.56L410.10 149.56L410.35 149.60L410.60 149.63L410.85 149.59L411.10 149.54L411.35 149.56L411.60 149.58L411.85 149.53L412.10 149.48L412.35 149.50L412.60 149.52L412.85 149.56L413.10 149.61L413.35 149.55L413.60 149.48L413.85 149.46L414.10 149.44L414.35 149.48L414.60 149.52L414.85 149.57L415.10 149.63L415.35 149.56L415.60 149.49L415.85 149.47L416.10 149.45L416.35 149.50L416.60 149.55L416.85 149.55L417.10 149.56L417.35 149.52L417.60 149.49L417.85 149.55L418.10 149.61L418.35 149.63L418.60 149.65L418.85 149.65L419.10 149.65L419.35 149.59L419.60 149.53L419.85 149.57L420.10 149.60L420.35 149.54L420.60 149.49L420.85 149.53L421.10 149.57L421.35 149.59L421.60 149.61L421.85 149.55L422.10 149.48L422.35 149.51L422.60 149.54L422.85 149.58L423.10 149.61L423.35 149.58L423.60 149.55L423.85 149.55L424.10 149.56L424.35 149.54L424.60 149.53L424.85 149.57L425.10 149.60L425.35 149.59L425.60 149.58L425.85 149.60L426.10 149.62L426.35 149.63L426.60 149.63L426.85 149.63L427.10 149.63L427.35 149.57L427.60 149.51L427.85 149.55L428.10 149.58L428.35 149.61L428.60 149.64L428.85 149.63L429.10 149.62L429.35 149.60L429.60 149.59L429.85 149.56L430.10 149.53L430.35 149.52L430.60 149.51L430.85 149.52L431.10 149.54L431.35 149.54L431.60 149.55L431.85 149.55L432.10 149.55L432.35 149.56L432.60 149.57L432.85 149.59L433.10 149.61L433.35 149.63L433.60 149.65L433.85 149.57L434.10 149.49L434.35 149.39L434.60 149.28L434.85 149.26L435.10 149.24L435.35 149.30L435.60 149.36L435.85 149.35L436.10 149.34L436.35 149.44L436.60 149.54L436.85 149.58L437.10 149.61L437.35 149.59L437.60 149.57L437.85 149.60L438.10 149.63L438.35 149.64L438.60 149.64L438.85 149.53L439.10 149.41L439.35 149.30L439.60 149.20L439.85 149.14L440.10 149.08L440.35 149.17L440.60 149.26L440.85 149.36L441.10 149.46L441.35 149.55L441.60 149.65L441.85 149.62L442.10 149.59L442.35 149.55L442.60 149.52L442.85 149.31L443.10 149.07L443.35 148.57L443.60 148.12L443.85 147.97L444.10 147.73L444.35 148.10L444.60 148.49L444.85 148.94L445.10 149.32L445.35 149.38L445.60 149.28L445.85 149.28L446.10 149.29L446.35 149.33L446.60 149.37L446.85 149.39L447.10 149.42L447.35 149.49L447.60 149.56L447.85 149.58L448.10 149.61L448.35 149.58L448.60 149.55L448.85 149.59L449.10 149.62L449.35 149.58L449.60 149.53L449.85 149.42L450.10 149.31L450.35 149.39L450.60 149.46L450.85 149.52L451.10 149.58L451.35 149.54L451.60 149.50L451.85 149.52L452.10 149.54L452.35 149.55L452.60 149.56L452.85 149.52L453.10 149.48L453.35 149.50L453.60 149.53L453.85 149.54L454.10 149.56L454.35 149.57L454.60 149.58L454.85 149.57L455.10 149.56L455.35 149.59L455.60 149.57L455.85 149.31L456.10 149.08L456.35 148.59L456.60 148.09L456.85 147.87L457.10 147.77L457.35 148.15L457.60 148.53L457.85 148.94L458.10 149.33L458.35 149.35L458.60 149.28L458.85 149.34L459.10 149.40L459.35 149.44L459.60 149.48L459.85 149.52L460.10 149.56L460.35 149.54L460.60 149.51L460.85 149.53L461.10 149.55L461.35 149.59L461.60 149.64L461.85 149.63L462.10 149.62L462.35 149.60L462.60 149.58L462.85 149.54L463.10 149.49L463.35 149.47L463.60 149.45L463.85 149.44L464.10 149.44L464.35 149.48L464.60 149.53L464.85 149.54L465.10 149.54L465.35 149.51L465.60 149.49L465.85 149.54L466.10 149.59L466.35 149.62L466.60 149.65L466.85 149.63L467.10 149.61L467.35 149.58L467.60 149.55L467.85 149.57L468.10 149.59L468.35 149.61L468.60 149.63L468.85 149.48L469.10 149.33L469.35 149.20L469.60 149.06L469.85 149.15L470.10 149.24L470.35 149.34L470.60 149.45L470.85 149.44L471.10 149.44L471.35 149.52L471.60 149.60L471.85 149.63L472.10 149.65L472.35 149.62L472.60 149.60L472.85 149.62L473.10 149.64L473.35 149.62L473.60 149.60L473.85 149.59L474.10 149.58L474.35 149.53L474.60 149.49L474.85 149.47L475.10 149.45L475.35 149.45L475.60 149.45L475.85 149.50L476.10 149.56L476.35 149.59L476.60 149.62L476.85 149.60L477.10 149.58L477.35 149.56L477.60 149.54L477.85 149.58L478.10 149.63L478.35 149.57L478.60 149.51L478.85 149.43L479.10 149.34L479.35 149.25L479.60 149.17L479.85 149.24L480.10 149.32L480.35 149.36L480.60 149.41L480.85 149.46L481.10 149.52L481.35 149.56L481.60 149.59L481.85 149.62L482.10 149.64L482.35 149.61L482.60 149.57L482.85 149.55L483.10 149.54L483.35 149.52L483.60 149.50L483.85 149.54L484.10 149.58L484.35 149.59L484.60 149.61L484.85 149.57L485.10 149.54L485.35 149.58L485.60 149.62L485.85 149.62L486.10 149.62L486.35 149.59L486.60 149.55L486.85 149.55L487.10 149.55L487.35 149.52L487.60 149.49L487.85 149.52L488.10 149.55L488.35 149.57L488.60 149.59L488.85 149.61L489.10 149.63L489.35 149.57L489.60 149.51L489.85 149.48L490.10 149.46L490.35 149.48L490.60 149.50L490.85 149.39L491.10 149.29L491.35 149.25L491.60 149.21L491.85 149.29L492.10 149.37L492.35 149.43L492.60 149.49L492.85 149.56L493.10 149.63L493.35 149.60L493.60 149.57L493.85 149.56L494.10 149.55L494.35 149.54L494.60 149.52L494.85 149.55L495.10 149.57L495.35 149.60L495.60 149.64L495.85 149.58L496.10 149.53L496.35 149.54L496.60 149.54L496.85 149.54L497.10 149.54L497.35 149.52L497.60 149.50L497.85 149.53L498.10 149.57L498.35 149.53L498.60 149.48L498.85 149.48L499.10 149.48L499.35 149.48L499.60 149.48L499.85 149.51L500.10 149.54L500.35 149.56L500.60 149.58L500.85 149.60L501.10 149.62L501.35 149.57L501.60 149.52L501.85 149.49L502.10 149.47L502.35 149.49L502.60 149.52L502.85 149.51L503.10 149.49L503.35 149.52L503.60 149.54L503.85 149.51L504.10 149.47L504.35 149.53L504.60 149.60L504.85 149.55L505.10 149.50L505.35 149.49L505.60 149.48L505.85 149.55L506.10 149.61L506.35 149.58L506.60 149.54L506.85 149.53L507.10 149.52L507.35 149.51L507.60 149.49L507.85 149.55L508.10 149.60L508.35 149.62L508.60 149.64L508.85 149.61L509.10 149.59L509.35 149.57L509.60 149.55L509.85 149.56L510.10 149.57L510.35 149.53L510.60 149.48L510.85 149.51L511.10 149.55L511.35 149.57L511.60 149.59L511.85 149.59L512.10 149.60L512.35 149.60L512.60 149.60L512.85 149.55L513.10 149.51L513.35 149.50L513.60 149.48L513.85 149.55L514.10 149.61L514.35 149.63L514.60 149.64L514.85 149.62L515.10 149.61L515.35 149.59L515.60 149.58L515.85 149.60L516.10 149.62L516.35 149.60L516.60 149.58L516.85 149.57L517.10 149.57L517.35 149.53L517.60 149.49L517.85 149.52L518.10 149.54L518.35 149.59L518.60 149.63L518.85 149.65L519.10 149.66L519.35 149.59L519.60 149.52L519.85 149.48L520.10 149.45L520.35 149.48L520.60 149.50L520.85 149.51L521.10 149.51L521.35 149.55L521.60 149.59L521.85 149.57L522.10 149.56L522.35 149.59L522.60 149.63L522.85 149.57L523.10 149.50L523.35 149.51L523.60 149.51L523.85 149.49L524.10 149.47L524.35 149.48L524.60 149.50L524.85 149.48L525.10 149.46L525.35 149.46L525.60 149.45L525.85 149.50L526.10 149.55L526.35 149.58L526.60 149.62L526.85 149.58L527.10 149.53L527.35 149.57L527.60 149.60L527.85 149.62L528.10 149.65L528.35 149.61L528.60 149.58L528.85 149.53L529.10 149.49L529.35 149.48L529.60 149.48L529.85 149.48L530.10 149.48L530.35 149.47L530.60 149.46L530.85 149.46L531.10 149.46L531.35 149.47L531.60 149.48L531.85 149.42L532.10 149.37L532.35 149.31L532.60 149.25L532.85 149.29L533.10 149.32L533.35 149.36L533.60 149.39L533.85 149.35L534.10 149.32L534.35 149.34L534.60 149.36L534.85 149.45L535.10 149.54L535.35 149.56L535.60 149.58L535.85 149.54L536.10 149.50L536.35 149.55L536.60 149.60L536.85 149.62L537.10 149.65L537.35 149.60L537.60 149.54L537.85 148.41L538.10 147.12L538.35 138.70L538.60 130.27L538.85 135.73L539.10 141.33L539.35 142.53L539.60 143.58L539.85 144.27L540.10 144.56L540.35 146.40L540.60 148.25L540.85 148.26L541.10 148.08L541.35 148.36L541.60 148.50L541.85 148.82L542.10 149.18L542.35 149.34L542.60 149.54L542.85 149.51L543.10 149.47L543.35 149.47L543.60 149.48L543.85 149.54L544.10 149.61L544.35 149.61L544.60 149.62L544.85 149.63L545.10 149.64L545.35 149.60L545.60 149.55L545.85 149.51L546.10 149.48L546.35 149.50L546.60 149.53L546.85 149.58L547.10 149.63L547.35 149.64L547.60 149.64L547.85 149.58L548.10 149.52L548.35 149.52L548.60 149.53L548.85 149.55L549.10 149.57L549.35 149.59L549.60 149.62L549.85 149.61L550.10 149.61L550.35 149.58L550.60 149.55L550.85 149.51L551.10 149.46L551.35 149.51L551.60 149.55L551.85 149.60L552.10 149.64L552.35 149.59L552.60 149.54L552.85 149.57L553.10 149.61L553.35 149.61L553.60 149.62L553.85 149.55L554.10 149.48L554.35 149.47L554.60 149.45L554.85 149.53L555.10 149.60L555.35 149.58L555.60 149.56L555.85 149.57L556.10 149.58L556.35 149.58L556.60 149.58L556.85 149.51L557.10 149.45L557.35 149.46L557.60 149.46L557.85 149.43L558.10 149.40L558.35 149.37L558.60 149.33L558.85 149.13L559.10 148.93L559.35 149.10L559.60 149.28L559.85 149.46L560.10 149.64L560.35 149.65L560.60 149.66L560.85 149.61L561.10 149.56L561.35 149.57L561.60 149.57L561.85 149.56L562.10 149.55L562.35 149.56L562.60 149.57L562.85 149.60L563.10 149.63L563.35 149.60L563.60 149.57L563.85 149.57L564.10 149.56L564.35 149.58L564.60 149.60L564.85 149.61L565.10 149.61L565.35 149.62L565.60 149.64L565.85 149.58L566.10 149.53L566.35 149.51L566.60 149.49L566.85 149.52L567.10 149.55L567.35 149.56L567.60 149.56L567.85 149.58L568.10 149.60L568.35 149.60L568.60 149.60L568.85 149.57L569.10 149.53L569.35 149.50L569.60 149.48L569.85 149.54L570.10 149.60L570.35 149.54L570.60 149.48L570.85 149.52L571.10 149.57L571.35 149.55L571.60 149.53L571.85 149.52L572.10 149.51L572.35 149.55L572.60 149.58L572.85 149.55L573.10 149.51L573.35 149.48L573.60 149.46L573.85 149.48L574.10 149.51L574.35 149.50L574.60 149.50L574.85 149.48L575.10 149.46L575.35 149.46L575.60 149.46L575.85 149.53L576.10 149.60L576.35 149.63L576.60 149.66L576.85 149.65L577.10 149.65L577.35 149.64L577.60 149.64L577.85 149.65L578.10 149.65L578.35 149.61L578.60 149.58L578.85 149.57L579.10 149.57L579.35 149.60L579.60 149.63L579.85 149.64L580.10 149.64L580.35 149.63L580.60 149.62L580.85 149.55L581.10 149.48L581.35 149.49L581.60 149.50L581.85 149.51L582.10 149.51L582.35 149.49L582.60 149.47L582.85 149.45L583.10 149.44L583.35 149.51L583.60 149.58L583.85 149.54L584.10 149.50L584.35 149.48L584.60 149.46L584.85 149.43L585.10 149.40L585.35 149.42L585.60 149.44L585.85 149.44L586.10 149.44L586.35 149.46L586.60 149.47L586.85 149.49L587.10 149.51L587.35 149.56L587.60 149.60L587.85 149.63L588.10 149.65L588.35 149.62L588.60 149.59L588.85 149.53L589.10 149.48L589.35 149.52L589.60 149.56L589.85 149.52L590.10 149.48L590.35 149.53L590.60 149.58L590.85 149.57L591.10 149.56L591.35 149.54L591.60 149.52L591.85 149.55L592.10 149.59L592.35 149.61L592.60 149.62L592.85 149.61L593.10 149.60L593.35 149.54L593.60 149.48L593.85 149.48L594.10 149.48L594.35 149.54L594.60 149.60L594.85 149.55L595.10 149.51L595.35 149.56L595.60 149.60L595.85 149.57L596.10 149.53L596.35 149.39L596.60 149.25L596.85 149.18L597.10 149.11L597.35 149.24L597.60 149.37L597.85 149.33L598.10 149.29L598.35 149.30L598.60 149.32L598.85 149.42L599.10 149.52L599.35 149.52L599.60 149.53L599.85 149.55L600.10 149.57L600.35 149.57L600.60 149.57L600.85 149.53L601.10 149.49L601.35 149.54L601.60 149.59L601.85 149.60L602.10 149.61L602.35 149.55L602.60 149.48L602.85 149.53L603.10 149.58L603.35 149.59L603.60 149.61L603.85 149.56L604.10 149.51L604.35 149.41L604.60 149.31L604.85 149.24L605.10 149.16L605.35 149.15L605.60 149.14L605.85 149.23L606.10 149.33L606.35 149.34L606.60 149.36L606.85 149.45L607.10 149.54L607.35 149.55L607.60 149.57L607.85 149.57L608.10 149.57L608.35 149.52L608.60 149.48L608.85 149.52L609.10 149.57L609.35 149.57L609.60 149.57L609.85 149.52L610.10 149.48L610.35 149.49L610.60 149.50L610.85 149.48L611.10 149.46L611.35 149.52L611.60 149.59L611.85 149.61L612.10 149.63L612.35 149.64L612.60 149.66L612.85 149.55L613.10 149.45L613.35 149.32L613.60 149.20L613.85 149.31L614.10 149.41L614.35 149.45L614.60 149.48L614.85 149.50L615.10 149.52L615.35 149.50L615.60 149.48L615.85 149.49L616.10 149.49L616.35 149.54L616.60 149.59L616.85 149.58L617.10 149.56L617.35 149.51L617.60 149.46L617.85 149.47L618.10 149.48L618.35 149.52L618.60 149.57L618.85 149.52L619.10 149.48L619.35 149.46L619.60 149.45L619.85 149.46L620.10 149.47L620.35 149.51L620.60 149.55L620.85 149.57L621.10 149.59L621.35 149.55L621.60 149.50L621.85 149.52L622.10 149.54L622.35 149.49L622.60 149.45L622.85 149.42L623.10 149.40L623.35 149.34L623.60 149.28L623.85 149.34L624.10 149.40L624.35 149.41L624.60 149.42L624.85 149.50L625.10 149.59L625.35 149.59L625.60 149.60L625.85 149.62L626.10 149.64L626.35 149.60L626.60 149.56L626.85 149.51L627.10 149.47L627.35 149.44L627.60 149.41L627.85 149.37L628.10 149.34L628.35 149.32L628.60 149.30L628.85 149.39L629.10 149.48L629.35 149.52L629.60 149.56L629.85 149.59L630.10 149.62L630.35 149.55L630.60 149.48L630.85 149.52L631.10 149.57L631.35 149.57L631.60 149.56L631.85 149.42L632.10 149.28L632.35 149.11L632.60 148.94L632.85 149.08L633.10 149.23L633.35 149.34L633.60 149.46L633.85 149.50L634.10 149.55L634.35 149.54L634.60 149.54L634.85 149.51L635.10 149.48L635.35 149.50L635.60 149.52L635.85 149.44L636.10 149.36L636.35 149.33L636.60 149.29L636.85 149.34L637.10 149.39L637.35 149.45L637.60 149.50L637.85 149.54L638.10 149.58L638.35 149.52L638.60 149.47L638.85 149.49L639.10 149.51L639.35 149.57L639.60 149.63L639.85 149.62L640.10 149.62L640.35 149.58L640.60 149.55L640.85 149.57L641.10 149.59L641.35 149.58L641.60 149.57L641.85 149.57L642.10 149.57L642.35 149.56L642.60 149.56L642.85 149.59L643.10 149.63L643.35 149.62L643.60 149.62L643.85 149.57L644.10 149.53L644.35 149.54L644.60 149.55L644.85 149.52L645.10 149.49L645.35 149.47L645.60 149.46L645.85 149.53L646.10 149.59L646.35 149.54L646.60 149.49L646.85 149.52L647.10 149.55L647.35 149.56L647.60 149.57L647.85 149.53L648.10 149.49L648.35 149.37L648.60 149.26L648.85 149.21L649.10 149.15L649.35 149.23L649.60 149.30L649.85 149.45L650.10 149.60L650.35 149.56L650.60 149.52L650.85 149.52L651.10 149.52L651.35 149.57L651.60 149.62L651.85 149.58L652.10 149.55L652.35 149.51L652.60 149.47L652.85 149.52L653.10 149.58L653.35 149.54L653.60 149.50L653.85 149.55L654.10 149.59L654.35 149.57L654.60 149.56L654.85 149.54L655.10 149.51L655.35 149.53L655.60 149.55L655.85 149.54L656.10 149.53L656.35 149.50L656.60 149.47L656.85 149.49L657.10 149.50L657.35 149.49L657.60 149.47L657.85 149.53L658.10 149.58L658.35 149.55L658.60 149.53L658.85 149.54L659.10 149.56L659.35 149.60L659.60 149.63L659.85 149.58L660.10 149.52L660.35 149.57L660.60 149.62L660.85 148.22L661.10 146.70L661.35 138.80L661.60 131.14L661.85 139.00L662.10 146.58L662.35 148.24L662.60 149.49L662.85 149.51L663.10 149.54L663.35 149.52L663.60 149.50L663.85 149.52L664.10 149.55L664.35 149.54L664.60 149.54L664.85 149.50L665.10 149.46L665.35 149.40L665.60 149.35L665.85 149.24L666.10 149.14L666.35 149.23L666.60 149.32L666.85 149.35L667.10 149.38L667.35 149.49L667.60 149.60L667.85 149.52L668.10 149.44L668.35 149.32L668.60 149.21L668.85 149.31L669.10 149.40L669.35 149.52L669.60 149.63L669.85 149.59L670.10 149.55L670.35 149.57L670.60 149.59L670.85 149.54L671.10 149.48L671.35 149.48L671.60 149.47L671.85 149.53L672.10 149.60L672.35 149.63L672.60 149.65L672.85 149.65L673.10 149.65L673.35 149.63L673.60 149.61L673.85 149.59L674.10 149.58L674.2 149.70Z" fill="#ff3a00" stroke="#900000" stroke-width="0.78" stroke-linejoin="round"/>
<path d="M395.2 159.50H397.9V180.20" fill="none" stroke="#333" stroke-width="0.75"/>
<text x="383.16" y="161.10" font-size="4.8" textLength="7.34" lengthAdjust="spacingAndGlyphs" fill="#111">179</text>
<text x="371.06" y="171.90" font-size="5" textLength="14.94" lengthAdjust="spacingAndGlyphs" fill="#111">H3K9ac</text>
<path d="M398.6 180.20L398.60 179.46L398.85 179.45L399.10 179.45L399.35 179.65L399.60 179.85L399.85 179.88L400.10 179.92L400.35 179.82L400.60 179.71L400.85 179.70L401.10 179.69L401.35 179.68L401.60 179.67L401.85 179.71L402.10 179.74L402.35 179.82L402.60 179.89L402.85 179.87L403.10 179.85L403.35 179.80L403.60 179.75L403.85 179.68L404.10 179.60L404.35 179.42L404.60 179.25L404.85 179.24L405.10 179.23L405.35 179.31L405.60 179.39L405.85 179.46L406.10 179.53L406.35 179.67L406.60 179.81L406.85 179.83L407.10 179.85L407.35 179.75L407.60 179.66L407.85 179.61L408.10 179.56L408.35 179.73L408.60 179.89L408.85 179.97L409.10 180.05L409.35 179.93L409.60 179.82L409.85 179.68L410.10 179.55L410.35 179.49L410.60 179.42L410.85 179.57L411.10 179.72L411.35 179.79L411.60 179.86L411.85 179.92L412.10 179.99L412.35 180.02L412.60 180.05L412.85 179.88L413.10 179.70L413.35 179.80L413.60 179.89L413.85 179.92L414.10 179.95L414.35 179.99L414.60 180.04L414.85 179.88L415.10 179.72L415.35 179.66L415.60 179.60L415.85 179.27L416.10 179.45L416.35 179.10L416.60 179.27L416.85 179.62L417.10 179.97L417.35 179.95L417.60 179.94L417.85 179.79L418.10 179.64L418.35 179.65L418.60 179.66L418.85 179.63L419.10 179.61L419.35 179.77L419.60 179.94L419.85 179.76L420.10 179.57L420.35 179.63L420.60 179.69L420.85 179.67L421.10 179.65L421.35 179.60L421.60 179.56L421.85 179.60L422.10 179.65L422.35 179.56L422.60 179.47L422.85 179.50L423.10 179.52L423.35 179.49L423.60 179.46L423.85 179.65L424.10 179.84L424.35 179.82L424.60 179.79L424.85 179.84L425.10 179.88L425.35 179.85L425.60 179.82L425.85 179.81L426.10 179.81L426.35 179.66L426.60 179.50L426.85 179.64L427.10 179.77L427.35 179.84L427.60 179.91L427.85 179.78L428.10 179.65L428.35 179.74L428.60 179.84L428.85 179.90L429.10 179.95L429.35 179.88L429.60 179.80L429.85 179.87L430.10 179.93L430.35 179.80L430.60 179.67L430.85 179.72L431.10 179.76L431.35 179.67L431.60 179.57L431.85 179.69L432.10 179.82L432.35 179.73L432.60 179.65L432.85 179.69L433.10 179.72L433.35 179.86L433.60 179.99L433.85 179.84L434.10 179.68L434.35 179.59L434.60 179.49L434.85 179.61L435.10 179.74L435.35 179.72L435.60 179.71L435.85 179.81L436.10 179.92L436.35 179.86L436.60 179.81L436.85 179.65L437.10 179.49L437.35 179.50L437.60 179.51L437.85 179.71L438.10 179.92L438.35 179.94L438.60 179.96L438.85 179.96L439.10 179.96L439.35 179.98L439.60 180.00L439.85 179.91L440.10 179.81L440.35 179.79L440.60 179.77L440.85 179.65L441.10 179.54L441.35 179.55L441.60 179.56L441.85 179.39L442.10 179.22L442.35 179.13L442.60 179.04L442.85 179.23L443.10 179.43L443.35 179.51L443.60 179.60L443.85 179.75L444.10 179.90L444.35 179.72L444.60 179.54L444.85 179.60L445.10 179.65L445.35 179.70L445.60 179.75L445.85 179.68L446.10 179.61L446.35 179.56L446.60 179.50L446.85 179.62L447.10 179.73L447.35 179.72L447.60 179.72L447.85 179.82L448.10 179.91L448.35 179.96L448.60 180.01L448.85 179.82L449.10 179.64L449.35 179.64L449.60 179.63L449.85 179.72L450.10 179.81L450.35 179.88L450.60 179.95L450.85 179.85L451.10 179.75L451.35 179.76L451.60 179.77L451.85 179.69L452.10 179.62L452.35 179.55L452.60 179.47L452.85 179.56L453.10 179.66L453.35 179.83L453.60 180.00L453.85 179.89L454.10 179.79L454.35 179.72L454.60 179.66L454.85 179.82L455.10 179.98L455.35 179.82L455.60 179.66L455.85 179.60L456.10 179.53L456.35 179.56L456.60 179.59L456.85 179.03L457.10 178.37L457.35 176.83L457.60 175.53L457.85 174.86L458.10 174.17L458.35 175.59L458.60 176.66L458.85 177.70L459.10 178.89L459.35 177.40L459.60 175.86L459.85 174.87L460.10 174.53L460.35 175.56L460.60 177.16L460.85 178.36L461.10 179.57L461.35 179.68L461.60 179.75L461.85 179.89L462.10 180.03L462.35 179.81L462.60 179.58L462.85 179.55L463.10 179.52L463.35 179.18L463.60 178.40L463.85 176.41L464.10 174.07L464.35 173.18L464.60 172.39L464.85 174.28L465.10 176.09L465.35 177.75L465.60 179.31L465.85 179.52L466.10 179.49L466.35 179.48L466.60 179.47L466.85 179.69L467.10 179.91L467.35 179.77L467.60 179.63L467.85 179.55L468.10 179.47L468.35 179.45L468.60 179.42L468.85 179.61L469.10 179.80L469.35 179.76L469.60 179.73L469.85 179.62L470.10 179.50L470.35 179.61L470.60 179.73L470.85 179.74L471.10 179.75L471.35 179.79L471.60 179.82L471.85 179.89L472.10 179.97L472.35 179.94L472.60 179.92L472.85 179.81L473.10 179.70L473.35 179.61L473.60 179.52L473.85 179.51L474.10 179.50L474.35 179.46L474.60 179.43L474.85 179.32L475.10 179.22L475.35 179.27L475.60 179.32L475.85 179.41L476.10 179.50L476.35 179.48L476.60 179.47L476.85 179.53L477.10 179.59L477.35 179.64L477.60 179.69L477.85 179.66L478.10 179.62L478.35 179.77L478.60 179.91L478.85 179.86L479.10 179.81L479.35 179.85L479.60 179.89L479.85 179.88L480.10 179.87L480.35 179.83L480.60 179.79L480.85 179.90L481.10 180.01L481.35 180.05L481.60 180.09L481.85 180.06L482.10 180.03L482.35 179.82L482.60 179.60L482.85 179.59L483.10 179.58L483.35 179.68L483.60 179.78L483.85 179.84L484.10 179.90L484.35 179.87L484.60 179.83L484.85 179.84L485.10 179.84L485.35 179.83L485.60 179.83L485.85 179.81L486.10 179.80L486.35 179.89L486.60 179.97L486.85 180.01L487.10 180.06L487.35 179.83L487.60 179.59L487.85 179.71L488.10 179.83L488.35 179.78L488.60 179.73L488.85 179.77L489.10 179.80L489.35 179.71L489.60 179.63L489.85 179.79L490.10 179.95L490.35 179.76L490.60 179.57L490.85 179.62L491.10 179.66L491.35 179.64L491.60 179.62L491.85 179.72L492.10 179.81L492.35 179.91L492.60 180.00L492.85 180.00L493.10 179.99L493.35 179.93L493.60 179.86L493.85 179.74L494.10 179.61L494.35 179.61L494.60 179.61L494.85 179.51L495.10 179.41L495.35 179.46L495.60 179.51L495.85 179.54L496.10 179.58L496.35 179.54L496.60 179.50L496.85 179.54L497.10 179.58L497.35 179.25L497.60 178.63L497.85 178.29L498.10 177.88L498.35 178.53L498.60 179.27L498.85 179.63L499.10 179.52L499.35 179.69L499.60 179.86L499.85 179.91L500.10 179.97L500.35 179.88L500.60 179.78L500.85 179.76L501.10 179.73L501.35 179.70L501.60 179.67L501.85 179.74L502.10 179.82L502.35 179.90L502.60 179.99L502.85 179.88L503.10 179.78L503.35 179.00L503.60 178.22L503.85 177.69L504.10 177.41L504.35 178.10L504.60 179.01L504.85 179.46L505.10 179.76L505.35 178.99L505.60 177.93L505.85 177.23L506.10 176.30L506.35 177.71L506.60 179.14L506.85 179.61L507.10 179.68L507.35 179.61L507.60 179.55L507.85 179.67L508.10 179.80L508.35 179.90L508.60 180.01L508.85 179.98L509.10 179.95L509.35 179.94L509.60 179.93L509.85 179.75L510.10 179.58L510.35 179.63L510.60 179.68L510.85 179.67L511.10 179.66L511.35 179.65L511.60 179.64L511.85 179.76L512.10 179.88L512.35 179.77L512.60 179.65L512.85 179.62L513.10 179.58L513.35 179.70L513.60 179.82L513.85 179.64L514.10 179.46L514.35 179.58L514.60 179.70L514.85 179.85L515.10 180.00L515.35 179.97L515.60 179.94L515.85 179.76L516.10 179.57L516.35 179.55L516.60 179.53L516.85 179.71L517.10 179.89L517.35 179.92L517.60 179.95L517.85 179.76L518.10 179.57L518.35 179.67L518.60 179.78L518.85 179.89L519.10 180.01L519.35 179.88L519.60 179.75L519.85 179.62L520.10 179.49L520.35 179.51L520.60 179.54L520.85 179.68L521.10 179.81L521.35 179.88L521.60 179.95L521.85 179.96L522.10 179.97L522.35 179.80L522.60 179.63L522.85 179.63L523.10 179.63L523.35 179.49L523.60 179.36L523.85 179.31L524.10 179.27L524.35 179.38L524.60 179.50L524.85 179.63L525.10 179.76L525.35 179.64L525.60 179.53L525.85 179.66L526.10 179.79L526.35 179.79L526.60 179.79L526.85 179.89L527.10 180.00L527.35 180.01L527.60 180.02L527.85 179.84L528.10 179.66L528.35 179.62L528.60 179.57L528.85 179.70L529.10 179.84L529.35 179.92L529.60 180.01L529.85 180.03L530.10 180.05L530.35 179.98L530.60 179.91L530.85 179.80L531.10 179.69L531.35 179.60L531.60 179.52L531.85 179.69L532.10 179.85L532.35 179.79L532.60 179.73L532.85 179.83L533.10 179.93L533.35 179.96L533.60 179.99L533.85 180.01L534.10 180.04L534.35 179.98L534.60 179.92L534.85 179.90L535.10 179.88L535.35 179.77L535.60 179.67L535.85 179.63L536.10 179.60L536.35 179.68L536.60 179.77L536.85 179.71L537.10 179.65L537.35 178.09L537.60 176.65L537.85 172.62L538.10 168.22L538.35 163.81L538.60 160.05L538.85 162.45L539.10 164.13L539.35 164.41L539.60 164.68L539.85 163.66L540.10 162.14L540.35 165.42L540.60 168.67L540.85 172.79L541.10 176.75L541.35 178.17L541.60 179.67L541.85 179.86L542.10 179.86L542.35 179.73L542.60 179.60L542.85 179.60L543.10 179.61L543.35 179.59L543.60 179.56L543.85 179.69L544.10 179.82L544.35 179.86L544.60 179.90L544.85 179.93L545.10 179.96L545.35 179.92L545.60 179.88L545.85 179.95L546.10 180.02L546.35 179.84L546.60 179.67L546.85 179.74L547.10 179.82L547.35 179.73L547.60 179.65L547.85 179.74L548.10 179.82L548.35 179.82L548.60 179.81L548.85 179.78L549.10 179.76L549.35 179.84L549.60 179.91L549.85 179.83L550.10 179.75L550.35 179.78L550.60 179.81L550.85 179.88L551.10 179.95L551.35 179.93L551.60 179.90L551.85 179.90L552.10 179.90L552.35 179.71L552.60 179.53L552.85 179.49L553.10 179.46L553.35 179.68L553.60 179.90L553.85 179.79L554.10 179.68L554.35 179.68L554.60 179.69L554.85 179.68L555.10 179.67L555.35 179.57L555.60 179.46L555.85 179.67L556.10 179.89L556.35 179.97L556.60 180.06L556.85 179.90L557.10 179.74L557.35 179.77L557.60 179.81L557.85 179.66L558.10 179.52L558.35 179.35L558.60 179.19L558.85 179.43L559.10 179.68L559.35 179.68L559.60 179.68L559.85 179.78L560.10 179.88L560.35 179.94L560.60 180.01L560.85 180.01L561.10 180.00L561.35 179.89L561.60 179.78L561.85 179.88L562.10 179.98L562.35 180.00L562.60 180.02L562.85 180.04L563.10 180.05L563.35 179.99L563.60 179.92L563.85 179.95L564.10 179.99L564.35 179.78L564.60 179.57L564.85 179.66L565.10 179.76L565.35 179.79L565.60 179.82L565.85 179.88L566.10 179.93L566.35 179.99L566.60 180.04L566.85 179.81L567.10 179.58L567.35 179.68L567.60 179.78L567.85 179.91L568.10 180.04L568.35 180.04L568.60 180.05L568.85 179.97L569.10 179.90L569.35 179.78L569.60 179.67L569.85 179.59L570.10 179.51L570.35 179.56L570.60 179.62L570.85 179.65L571.10 179.68L571.35 179.62L571.60 179.57L571.85 179.71L572.10 179.84L572.35 179.92L572.60 180.00L572.85 179.80L573.10 179.60L573.35 179.61L573.60 179.62L573.85 179.71L574.10 179.81L574.35 179.92L574.60 180.03L574.85 179.92L575.10 179.81L575.35 179.71L575.60 179.61L575.85 179.73L576.10 179.85L576.35 179.77L576.60 179.68L576.85 179.57L577.10 179.46L577.35 179.66L577.60 179.85L577.85 179.93L578.10 180.01L578.35 179.78L578.60 179.55L578.85 179.63L579.10 179.72L579.35 179.54L579.60 179.36L579.85 179.49L580.10 179.61L580.35 179.81L580.60 180.01L580.85 179.83L581.10 179.66L581.35 179.55L581.60 179.44L581.85 179.46L582.10 179.48L582.35 179.46L582.60 179.45L582.85 179.65L583.10 179.84L583.35 179.75L583.60 179.66L583.85 179.69L584.10 179.71L584.35 179.67L584.60 179.62L584.85 179.69L585.10 179.77L585.35 179.70L585.60 179.64L585.85 179.58L586.10 179.53L586.35 179.70L586.60 179.86L586.85 179.86L587.10 179.87L587.35 179.82L587.60 179.76L587.85 179.69L588.10 179.62L588.35 179.76L588.60 179.89L588.85 179.84L589.10 179.79L589.35 179.81L589.60 179.83L589.85 179.78L590.10 179.74L590.35 179.68L590.60 179.62L590.85 179.61L591.10 179.59L591.35 179.75L591.60 179.91L591.85 179.90L592.10 179.88L592.35 179.81L592.60 179.74L592.85 179.69L593.10 179.65L593.35 179.58L593.60 179.51L593.85 179.49L594.10 179.48L594.35 179.67L594.60 179.86L594.85 179.88L595.10 179.89L595.35 179.75L595.60 179.60L595.85 179.62L596.10 179.64L596.35 179.66L596.60 179.69L596.85 179.81L597.10 179.94L597.35 179.83L597.60 179.72L597.85 179.77L598.10 179.81L598.35 179.86L598.60 179.91L598.85 179.79L599.10 179.67L599.35 179.82L599.60 179.96L599.85 179.85L600.10 179.75L600.35 179.61L600.60 179.47L600.85 179.67L601.10 179.88L601.35 179.97L601.60 180.06L601.85 179.83L602.10 179.60L602.35 179.70L602.60 179.80L602.85 179.69L603.10 179.57L603.35 179.57L603.60 179.56L603.85 179.54L604.10 179.51L604.35 179.72L604.60 179.92L604.85 179.92L605.10 179.91L605.35 179.85L605.60 179.80L605.85 179.91L606.10 180.02L606.35 180.05L606.60 180.08L606.85 179.93L607.10 179.78L607.35 179.73L607.60 179.68L607.85 179.80L608.10 179.93L608.35 179.79L608.60 179.66L608.85 179.73L609.10 179.80L609.35 179.75L609.60 179.70L609.85 179.83L610.10 179.96L610.35 179.91L610.60 179.86L610.85 179.91L611.10 179.96L611.35 179.79L611.60 179.62L611.85 179.70L612.10 179.77L612.35 179.66L612.60 179.54L612.85 179.66L613.10 179.78L613.35 179.87L613.60 179.96L613.85 179.93L614.10 179.90L614.35 179.91L614.60 179.92L614.85 179.98L615.10 180.04L615.35 179.81L615.60 179.58L615.85 179.61L616.10 179.64L616.35 179.73L616.60 179.81L616.85 179.86L617.10 179.92L617.35 179.81L617.60 179.70L617.85 179.62L618.10 179.54L618.35 179.53L618.60 179.53L618.85 179.58L619.10 179.64L619.35 179.74L619.60 179.84L619.85 179.86L620.10 179.88L620.35 179.81L620.60 179.74L620.85 179.85L621.10 179.96L621.35 179.89L621.60 179.82L621.85 179.84L622.10 179.87L622.35 179.94L622.60 180.01L622.85 180.00L623.10 179.98L623.35 179.78L623.60 179.58L623.85 179.71L624.10 179.84L624.35 179.90L624.60 179.95L624.85 180.00L625.10 180.05L625.35 179.89L625.60 179.73L625.85 179.55L626.10 179.38L626.35 179.35L626.60 179.32L626.85 179.49L627.10 179.67L627.35 179.77L627.60 179.86L627.85 179.72L628.10 179.58L628.35 179.65L628.60 179.72L628.85 179.67L629.10 179.62L629.35 179.74L629.60 179.85L629.85 179.77L630.10 179.69L630.35 179.59L630.60 179.49L630.85 179.47L631.10 179.46L631.35 179.56L631.60 179.67L631.85 179.73L632.10 179.79L632.35 179.68L632.60 179.57L632.85 179.74L633.10 179.90L633.35 179.98L633.60 180.05L633.85 179.87L634.10 179.69L634.35 179.72L634.60 179.74L634.85 179.85L635.10 179.95L635.35 179.92L635.60 179.90L635.85 179.85L636.10 179.81L636.35 179.89L636.60 179.97L636.85 180.02L637.10 180.06L637.35 179.83L637.60 179.59L637.85 179.75L638.10 179.92L638.35 179.76L638.60 179.61L638.85 179.69L639.10 179.77L639.35 179.71L639.60 179.64L639.85 179.76L640.10 179.87L640.35 179.91L640.60 179.95L640.85 179.96L641.10 179.98L641.35 179.87L641.60 179.77L641.85 179.65L642.10 179.54L642.35 179.53L642.60 179.53L642.85 179.63L643.10 179.72L643.35 179.80L643.60 179.89L643.85 179.95L644.10 180.01L644.35 179.76L644.60 179.51L644.85 179.43L645.10 179.35L645.35 179.43L645.60 179.50L645.85 179.65L646.10 179.79L646.35 179.89L646.60 179.99L646.85 179.93L647.10 179.86L647.35 179.93L647.60 179.99L647.85 179.89L648.10 179.78L648.35 179.89L648.60 179.99L648.85 179.89L649.10 179.80L649.35 179.65L649.60 179.51L649.85 179.57L650.10 179.63L650.35 179.59L650.60 179.54L650.85 179.63L651.10 179.71L651.35 179.74L651.60 179.77L651.85 179.84L652.10 179.91L652.35 179.94L652.60 179.97L652.85 179.86L653.10 179.75L653.35 179.87L653.60 179.99L653.85 180.00L654.10 180.01L654.35 179.95L654.60 179.90L654.85 179.74L655.10 179.59L655.35 179.59L655.60 179.59L655.85 179.57L656.10 179.55L656.35 179.59L656.60 179.63L656.85 179.79L657.10 179.96L657.35 179.83L657.60 179.70L657.85 179.79L658.10 179.89L658.35 179.78L658.60 179.68L658.85 179.74L659.10 179.81L659.35 179.83L659.60 179.85L659.85 179.88L660.10 179.91L660.35 179.91L660.60 179.92L660.85 179.82L661.10 179.71L661.35 179.66L661.60 179.60L661.85 179.61L662.10 179.63L662.35 179.63L662.60 179.64L662.85 179.63L663.10 179.61L663.35 179.44L663.60 179.27L663.85 179.27L664.10 179.28L664.35 179.52L664.60 179.75L664.85 179.92L665.10 180.09L665.35 179.87L665.60 179.65L665.85 179.62L666.10 179.59L666.35 179.71L666.60 179.82L666.85 179.76L667.10 179.70L667.35 179.67L667.60 179.64L667.85 179.74L668.10 179.84L668.35 179.79L668.60 179.75L668.85 179.79L669.10 179.83L669.35 179.89L669.60 179.94L669.85 179.81L670.10 179.67L670.35 179.81L670.60 179.95L670.85 179.78L671.10 179.60L671.35 179.39L671.60 179.18L671.85 179.24L672.10 179.30L672.35 179.20L672.60 179.10L672.85 179.19L673.10 179.28L673.35 179.37L673.60 179.46L673.85 179.72L674.10 179.99L674.2 180.20Z" fill="#1e8cff" stroke="#10398f" stroke-width="0.78" stroke-linejoin="round"/>
<path d="M395.2 182.90H397.9V203.50" fill="none" stroke="#333" stroke-width="0.75"/>
<text x="385.61" y="184.50" font-size="4.8" textLength="4.89" lengthAdjust="spacingAndGlyphs" fill="#111">52</text>
<text x="367.32" y="195.30" font-size="5" textLength="18.68" lengthAdjust="spacingAndGlyphs" fill="#111">H3K4me1</text>
<path d="M398.6 203.50L398.60 202.40L398.85 202.53L399.10 202.37L399.35 202.38L399.60 202.76L399.85 203.01L400.10 203.27L400.35 202.89L400.60 202.51L400.85 202.39L401.10 202.29L401.35 202.51L401.60 202.76L401.85 202.59L402.10 202.43L402.35 202.33L402.60 202.79L402.85 202.54L403.10 202.85L403.35 202.77L403.60 202.69L403.85 202.71L404.10 202.74L404.35 202.97L404.60 203.19L404.85 203.23L405.10 203.27L405.35 202.98L405.60 202.69L405.85 202.69L406.10 202.68L406.35 202.78L406.60 202.88L406.85 203.03L407.10 203.17L407.35 203.20L407.60 203.23L407.85 203.22L408.10 203.21L408.35 202.98L408.60 202.75L408.85 202.70L409.10 202.66L409.35 202.83L409.60 202.99L409.85 202.97L410.10 202.95L410.35 202.78L410.60 202.60L410.85 202.67L411.10 202.74L411.35 202.57L411.60 201.80L411.85 201.20L412.10 200.75L412.35 201.62L412.60 202.60L412.85 202.60L413.10 202.60L413.35 202.82L413.60 203.04L413.85 202.76L414.10 202.49L414.35 202.65L414.60 202.81L414.85 202.42L415.10 202.66L415.35 202.60L415.60 202.24L415.85 202.59L416.10 202.50L416.35 202.68L416.60 203.06L416.85 202.80L417.10 202.53L417.35 202.53L417.60 202.52L417.85 202.52L418.10 202.52L418.35 202.64L418.60 202.55L418.85 202.49L419.10 202.60L419.35 202.41L419.60 201.58L419.85 200.86L420.10 200.35L420.35 201.41L420.60 202.37L420.85 202.26L421.10 202.31L421.35 202.22L421.60 201.54L421.85 200.93L422.10 200.24L422.35 201.41L422.60 202.59L422.85 202.43L423.10 202.81L423.35 202.22L423.60 202.11L423.85 202.63L424.10 202.06L424.35 202.49L424.60 202.10L424.85 202.60L425.10 202.56L425.35 202.79L425.60 202.32L425.85 202.31L426.10 202.30L426.35 202.32L426.60 202.35L426.85 202.66L427.10 202.97L427.35 202.73L427.60 202.49L427.85 202.65L428.10 202.82L428.35 202.71L428.60 202.61L428.85 202.78L429.10 202.95L429.35 202.68L429.60 202.42L429.85 202.31L430.10 202.28L430.35 201.60L430.60 202.01L430.85 201.66L431.10 202.02L431.35 202.60L431.60 202.29L431.85 202.25L432.10 202.39L432.35 202.55L432.60 202.82L432.85 202.85L433.10 202.88L433.35 202.86L433.60 202.84L433.85 202.82L434.10 202.81L434.35 202.91L434.60 203.01L434.85 203.00L435.10 202.99L435.35 202.70L435.60 202.40L435.85 202.43L436.10 202.45L436.35 202.65L436.60 202.86L436.85 202.63L437.10 202.39L437.35 202.31L437.60 202.51L437.85 202.54L438.10 202.86L438.35 202.93L438.60 203.00L438.85 203.02L439.10 203.05L439.35 202.73L439.60 202.42L439.85 202.55L440.10 202.68L440.35 202.94L440.60 203.20L440.85 202.94L441.10 202.67L441.35 202.48L441.60 202.65L441.85 202.46L442.10 202.64L442.35 202.57L442.60 202.51L442.85 202.41L443.10 202.32L443.35 202.65L443.60 202.98L443.85 202.86L444.10 202.74L444.35 202.58L444.60 202.43L444.85 202.47L445.10 202.52L445.35 202.72L445.60 202.92L445.85 202.68L446.10 202.44L446.35 202.43L446.60 202.42L446.85 202.84L447.10 202.38L447.35 202.44L447.60 202.79L447.85 203.02L448.10 203.25L448.35 203.17L448.60 203.09L448.85 203.17L449.10 203.25L449.35 203.25L449.60 203.25L449.85 203.21L450.10 203.17L450.35 202.86L450.60 202.54L450.85 202.38L451.10 202.57L451.35 202.38L451.60 202.56L451.85 202.78L452.10 203.01L452.35 202.83L452.60 202.65L452.85 202.63L453.10 202.61L453.35 202.50L453.60 202.39L453.85 202.24L454.10 202.63L454.35 202.34L454.60 202.57L454.85 202.51L455.10 202.45L455.35 202.55L455.60 202.65L455.85 202.79L456.10 202.93L456.35 202.42L456.60 201.68L456.85 198.86L457.10 196.09L457.35 193.80L457.60 192.02L457.85 194.14L458.10 196.15L458.35 195.38L458.60 195.24L458.85 191.84L459.10 187.26L459.35 187.66L459.60 188.79L459.85 192.49L460.10 196.58L460.35 194.24L460.60 191.17L460.85 194.62L461.10 196.90L461.35 196.89L461.60 196.29L461.85 197.78L462.10 199.15L462.35 199.83L462.60 200.29L462.85 196.36L463.10 192.36L463.35 194.14L463.60 197.03L463.85 198.48L464.10 199.86L464.35 198.53L464.60 197.78L464.85 198.70L465.10 199.90L465.35 201.22L465.60 202.58L465.85 199.69L466.10 196.75L466.35 194.10L466.60 191.77L466.85 196.00L467.10 200.25L467.35 199.26L467.60 198.02L467.85 198.34L468.10 198.76L468.35 200.31L468.60 201.91L468.85 200.74L469.10 199.70L469.35 200.28L469.60 200.92L469.85 201.93L470.10 202.61L470.35 202.73L470.60 202.84L470.85 202.96L471.10 203.07L471.35 202.84L471.60 202.62L471.85 202.57L472.10 202.53L472.35 202.80L472.60 203.08L472.85 202.87L473.10 202.66L473.35 202.88L473.60 203.10L473.85 203.17L474.10 203.25L474.35 203.06L474.60 202.87L474.85 202.72L475.10 202.57L475.35 202.76L475.60 202.96L475.85 202.71L476.10 202.47L476.35 202.82L476.60 202.29L476.85 202.08L477.10 202.70L477.35 202.63L477.60 202.75L477.85 202.43L478.10 202.61L478.35 202.54L478.60 202.46L478.85 202.54L479.10 202.61L479.35 202.60L479.60 202.59L479.85 202.48L480.10 202.38L480.35 202.37L480.60 202.35L480.85 202.66L481.10 202.98L481.35 203.13L481.60 203.29L481.85 203.08L482.10 202.87L482.35 202.71L482.60 202.55L482.85 202.81L483.10 203.06L483.35 203.09L483.60 203.11L483.85 202.84L484.10 202.57L484.35 202.48L484.60 202.38L484.85 202.48L485.10 202.58L485.35 202.47L485.60 202.37L485.85 202.61L486.10 202.86L486.35 202.62L486.60 202.37L486.85 202.82L487.10 202.08L487.35 202.00L487.60 201.97L487.85 202.31L488.10 202.57L488.35 202.55L488.60 202.52L488.85 202.73L489.10 202.94L489.35 202.82L489.60 202.69L489.85 202.48L490.10 202.74L490.35 202.39L490.60 202.72L490.85 202.33L491.10 202.49L491.35 202.64L491.60 202.78L491.85 202.59L492.10 202.41L492.35 202.60L492.60 202.79L492.85 202.95L493.10 203.12L493.35 203.10L493.60 203.09L493.85 202.95L494.10 202.81L494.35 202.99L494.60 203.17L494.85 202.93L495.10 202.42L495.35 199.99L495.60 197.29L495.85 193.51L496.10 190.02L496.35 190.64L496.60 190.41L496.85 190.39L497.10 190.27L497.35 187.43L497.60 185.53L497.85 190.08L498.10 195.78L498.35 194.63L498.60 193.68L498.85 192.08L499.10 191.02L499.35 193.56L499.60 197.05L499.85 199.17L500.10 201.46L500.35 199.13L500.60 196.73L500.85 195.92L501.10 194.74L501.35 197.11L501.60 198.85L501.85 200.69L502.10 202.24L502.35 202.26L502.60 202.64L502.85 202.81L503.10 202.99L503.35 201.91L503.60 200.40L503.85 197.28L504.10 194.10L504.35 194.40L504.60 195.40L504.85 198.44L505.10 201.39L505.35 201.95L505.60 202.35L505.85 200.32L506.10 198.38L506.35 197.07L506.60 195.58L506.85 197.83L507.10 200.18L507.35 201.73L507.60 202.53L507.85 202.13L508.10 202.16L508.35 201.68L508.60 202.25L508.85 202.68L509.10 202.21L509.35 202.47L509.60 202.90L509.85 202.97L510.10 203.04L510.35 203.00L510.60 202.97L510.85 202.95L511.10 202.94L511.35 203.04L511.60 203.15L511.85 203.08L512.10 203.02L512.35 202.62L512.60 202.44L512.85 202.17L513.10 202.09L513.35 202.53L513.60 202.67L513.85 202.44L514.10 202.76L514.35 202.92L514.60 203.08L514.85 202.86L515.10 202.64L515.35 202.80L515.60 202.97L515.85 202.69L516.10 202.42L516.35 202.40L516.60 202.38L516.85 202.35L517.10 202.32L517.35 202.51L517.60 202.71L517.85 202.95L518.10 203.20L518.35 202.87L518.60 202.54L518.85 202.47L519.10 202.56L519.35 202.01L519.60 202.73L519.85 202.49L520.10 202.79L520.35 202.61L520.60 202.43L520.85 202.67L521.10 202.92L521.35 202.69L521.60 202.46L521.85 202.37L522.10 202.67L522.35 202.53L522.60 202.31L522.85 202.06L523.10 201.46L523.35 201.89L523.60 201.57L523.85 201.87L524.10 202.26L524.35 202.60L524.60 202.39L524.85 202.45L525.10 202.51L525.35 202.68L525.60 202.84L525.85 202.90L526.10 202.97L526.35 203.09L526.60 203.22L526.85 203.08L527.10 202.94L527.35 202.56L527.60 202.36L527.85 202.41L528.10 201.09L528.35 201.39L528.60 202.08L528.85 202.73L529.10 202.54L529.35 202.47L529.60 202.41L529.85 202.46L530.10 202.51L530.35 202.59L530.60 202.68L530.85 202.82L531.10 202.96L531.35 203.11L531.60 203.25L531.85 203.28L532.10 203.31L532.35 203.07L532.60 202.82L532.85 202.65L533.10 202.48L533.35 202.73L533.60 202.98L533.85 202.69L534.10 202.40L534.35 202.54L534.60 202.55L534.85 202.26L535.10 202.11L535.35 202.88L535.60 202.49L535.85 202.68L536.10 202.82L536.35 201.51L536.60 200.20L536.85 199.29L537.10 198.77L537.35 199.95L537.60 201.47L537.85 202.41L538.10 202.74L538.35 202.74L538.60 202.74L538.85 202.62L539.10 202.51L539.35 202.48L539.60 202.46L539.85 202.72L540.10 202.98L540.35 203.07L540.60 203.16L540.85 202.87L541.10 202.39L541.35 200.23L541.60 197.97L541.85 195.79L542.10 193.76L542.35 194.84L542.60 195.67L542.85 198.54L543.10 201.11L543.35 202.22L543.60 202.27L543.85 202.46L544.10 202.59L544.35 202.22L544.60 202.41L544.85 202.49L545.10 202.63L545.35 202.67L545.60 203.06L545.85 202.82L546.10 202.58L546.35 202.45L546.60 202.33L546.85 202.47L547.10 202.62L547.35 202.75L547.60 202.88L547.85 202.58L548.10 202.56L548.35 202.53L548.60 202.78L548.85 202.68L549.10 202.58L549.35 202.75L549.60 202.91L549.85 203.09L550.10 203.26L550.35 203.25L550.60 203.25L550.85 203.02L551.10 202.80L551.35 202.88L551.60 202.97L551.85 202.73L552.10 202.48L552.35 202.71L552.60 202.93L552.85 203.04L553.10 203.15L553.35 202.89L553.60 202.63L553.85 202.53L554.10 201.61L554.35 201.94L554.60 202.62L554.85 202.56L555.10 202.36L555.35 202.30L555.60 202.23L555.85 202.26L556.10 202.10L556.35 202.31L556.60 202.70L556.85 202.82L557.10 202.94L557.35 202.76L557.60 202.57L557.85 202.63L558.10 202.69L558.35 202.93L558.60 203.18L558.85 203.24L559.10 203.29L559.35 203.02L559.60 202.74L559.85 202.88L560.10 203.03L560.35 202.90L560.60 202.77L560.85 202.53L561.10 202.83L561.35 202.53L561.60 202.78L561.85 202.92L562.10 203.06L562.35 203.10L562.60 203.14L562.85 202.80L563.10 202.47L563.35 202.73L563.60 203.00L563.85 202.81L564.10 202.63L564.35 202.66L564.60 202.69L564.85 202.86L565.10 203.02L565.35 203.11L565.60 203.21L565.85 202.87L566.10 202.54L566.35 202.68L566.60 202.83L566.85 202.83L567.10 202.84L567.35 202.75L567.60 202.67L567.85 202.69L568.10 202.71L568.35 202.75L568.60 202.79L568.85 202.94L569.10 203.10L569.35 203.10L569.60 203.09L569.85 202.98L570.10 202.87L570.35 202.68L570.60 202.49L570.85 202.75L571.10 203.01L571.35 202.97L571.60 202.93L571.85 202.73L572.10 202.52L572.35 202.49L572.60 202.46L572.85 202.71L573.10 202.96L573.35 203.08L573.60 203.20L573.85 203.02L574.10 202.84L574.35 202.35L574.60 202.29L574.85 201.92L575.10 202.46L575.35 202.41L575.60 202.45L575.85 202.44L576.10 202.43L576.35 202.37L576.60 202.32L576.85 202.47L577.10 202.62L577.35 202.57L577.60 202.52L577.85 202.51L578.10 202.50L578.35 202.63L578.60 202.77L578.85 202.56L579.10 202.36L579.35 202.34L579.60 202.32L579.85 202.56L580.10 202.80L580.35 203.00L580.60 203.19L580.85 202.92L581.10 202.65L581.35 202.58L581.60 202.50L581.85 202.60L582.10 202.70L582.35 202.62L582.60 202.54L582.85 202.32L583.10 202.34L583.35 202.43L583.60 202.75L583.85 202.91L584.10 203.07L584.35 202.80L584.60 202.53L584.85 202.76L585.10 203.00L585.35 202.91L585.60 202.82L585.85 202.64L586.10 202.45L586.35 202.74L586.60 203.03L586.85 202.93L587.10 202.82L587.35 202.80L587.60 202.79L587.85 202.87L588.10 202.95L588.35 202.58L588.60 202.40L588.85 202.23L589.10 202.63L589.35 202.20L589.60 202.35L589.85 202.43L590.10 202.37L590.35 202.42L590.60 202.43L590.85 202.67L591.10 202.91L591.35 202.73L591.60 202.56L591.85 202.76L592.10 202.96L592.35 202.71L592.60 202.46L592.85 202.44L593.10 202.42L593.35 202.39L593.60 202.36L593.85 202.67L594.10 202.97L594.35 202.71L594.60 202.45L594.85 202.61L595.10 202.77L595.35 202.88L595.60 203.00L595.85 203.01L596.10 203.03L596.35 202.76L596.60 202.49L596.85 202.70L597.10 202.91L597.35 203.04L597.60 203.16L597.85 202.95L598.10 202.73L598.35 202.65L598.60 202.57L598.85 202.46L599.10 202.35L599.35 202.47L599.60 202.59L599.85 202.52L600.10 202.46L600.35 202.15L600.60 202.46L600.85 202.67L601.10 202.65L601.35 202.65L601.60 202.33L601.85 202.48L602.10 202.66L602.35 202.66L602.60 202.65L602.85 202.68L603.10 202.70L603.35 202.52L603.60 202.34L603.85 202.49L604.10 202.64L604.35 202.79L604.60 202.94L604.85 203.03L605.10 203.12L605.35 202.74L605.60 202.36L605.85 202.21L606.10 202.28L606.35 202.73L606.60 202.55L606.85 202.84L607.10 202.40L607.35 202.36L607.60 202.32L607.85 202.67L608.10 202.50L608.35 202.70L608.60 202.49L608.85 202.63L609.10 202.78L609.35 202.33L609.60 202.38L609.85 202.52L610.10 201.98L610.35 202.24L610.60 201.35L610.85 201.48L611.10 202.31L611.35 202.13L611.60 201.85L611.85 201.74L612.10 202.32L612.35 202.47L612.60 202.41L612.85 202.40L613.10 202.39L613.35 202.34L613.60 202.58L613.85 202.81L614.10 202.31L614.35 202.45L614.60 201.95L614.85 201.63L615.10 201.82L615.35 201.73L615.60 202.31L615.85 202.30L616.10 202.33L616.35 202.73L616.60 203.13L616.85 202.97L617.10 202.81L617.35 202.66L617.60 202.51L617.85 202.66L618.10 202.80L618.35 202.97L618.60 203.13L618.85 203.02L619.10 202.90L619.35 202.82L619.60 202.73L619.85 202.87L620.10 203.01L620.35 203.09L620.60 203.17L620.85 203.09L621.10 203.00L621.35 203.06L621.60 203.12L621.85 203.02L622.10 202.93L622.35 203.04L622.60 203.16L622.85 203.00L623.10 202.85L623.35 202.67L623.60 202.50L623.85 202.34L624.10 202.31L624.35 202.30L624.60 202.43L624.85 202.24L625.10 202.47L625.35 202.76L625.60 203.04L625.85 203.09L626.10 203.14L626.35 202.89L626.60 202.64L626.85 202.76L627.10 202.87L627.35 202.86L627.60 202.84L627.85 202.39L628.10 202.65L628.35 202.78L628.60 202.62L628.85 202.82L629.10 203.03L629.35 202.93L629.60 202.83L629.85 202.45L630.10 202.69L630.35 202.10L630.60 202.15L630.85 202.02L631.10 202.17L631.35 202.28L631.60 202.36L631.85 202.34L632.10 202.32L632.35 202.36L632.60 202.39L632.85 202.49L633.10 202.60L633.35 202.79L633.60 202.99L633.85 202.95L634.10 202.91L634.35 202.99L634.60 203.07L634.85 203.12L635.10 203.18L635.35 202.92L635.60 202.67L635.85 202.60L636.10 202.53L636.35 202.47L636.60 202.41L636.85 202.40L637.10 202.40L637.35 202.54L637.60 202.69L637.85 202.75L638.10 202.81L638.35 202.66L638.60 202.51L638.85 202.73L639.10 202.95L639.35 203.07L639.60 203.18L639.85 202.65L640.10 202.72L640.35 202.55L640.60 202.42L640.85 202.09L641.10 200.62L641.35 201.90L641.60 202.13L641.85 202.19L642.10 202.43L642.35 202.49L642.60 202.55L642.85 202.66L643.10 202.77L643.35 202.74L643.60 202.72L643.85 202.90L644.10 203.09L644.35 202.89L644.60 202.69L644.85 202.36L645.10 202.41L645.35 202.22L645.60 202.19L645.85 201.91L646.10 201.86L646.35 202.41L646.60 201.77L646.85 202.00L647.10 202.38L647.35 201.74L647.60 202.27L647.85 202.16L648.10 201.50L648.35 202.00L648.60 202.34L648.85 202.58L649.10 201.91L649.35 202.38L649.60 202.15L649.85 202.53L650.10 202.92L650.35 202.88L650.60 202.84L650.85 202.48L651.10 202.55L651.35 202.70L651.60 202.77L651.85 202.57L652.10 202.97L652.35 202.99L652.60 202.74L652.85 201.06L653.10 199.38L653.35 198.74L653.60 197.81L653.85 199.50L654.10 201.13L654.35 201.30L654.60 201.77L654.85 200.56L655.10 199.19L655.35 201.57L655.60 201.25L655.85 201.66L656.10 201.24L656.35 200.52L656.60 200.11L656.85 201.61L657.10 201.52L657.35 201.11L657.60 202.21L657.85 202.59L658.10 202.41L658.35 202.29L658.60 202.44L658.85 202.43L659.10 202.43L659.35 202.32L659.60 202.65L659.85 202.54L660.10 202.87L660.35 202.49L660.60 201.86L660.85 200.44L661.10 201.17L661.35 199.27L661.60 197.06L661.85 198.18L662.10 199.70L662.35 201.44L662.60 201.60L662.85 200.99L663.10 202.48L663.35 202.02L663.60 200.26L663.85 201.35L664.10 201.56L664.35 201.46L664.60 200.32L664.85 199.38L665.10 198.52L665.35 199.95L665.60 201.57L665.85 202.30L666.10 201.99L666.35 202.34L666.60 202.31L666.85 202.58L667.10 202.85L667.35 203.00L667.60 203.16L667.85 203.01L668.10 202.86L668.35 202.96L668.60 203.06L668.85 202.71L669.10 202.35L669.35 201.54L669.60 200.15L669.85 199.53L670.10 198.72L670.35 200.19L670.60 201.43L670.85 201.63L671.10 202.10L671.35 202.75L671.60 202.27L671.85 202.54L672.10 202.48L672.35 202.54L672.60 202.34L672.85 202.27L673.10 202.46L673.35 202.79L673.60 202.65L673.85 202.36L674.10 201.90L674.2 203.50Z" fill="#1e8cff" stroke="#10398f" stroke-width="0.78" stroke-linejoin="round"/>
<path d="M395.2 206.20H397.9V226.20" fill="none" stroke="#333" stroke-width="0.75"/>
<text x="383.16" y="207.80" font-size="4.8" textLength="7.34" lengthAdjust="spacingAndGlyphs" fill="#111">196</text>
<text x="368.72" y="218.60" font-size="5" textLength="17.28" lengthAdjust="spacingAndGlyphs" fill="#111">H3K27ac</text>
<path d="M398.6 226.20L398.60 225.32L398.85 225.44L399.10 225.55L399.35 225.33L399.60 225.10L399.85 225.20L400.10 225.29L400.35 225.54L400.60 225.78L400.85 225.82L401.10 225.87L401.35 225.93L401.60 226.00L401.85 225.86L402.10 225.73L402.35 225.80L402.60 225.87L402.85 225.75L403.10 225.62L403.35 225.59L403.60 225.55L403.85 225.66L404.10 225.78L404.35 225.80L404.60 225.82L404.85 225.77L405.10 225.72L405.35 225.65L405.60 225.58L405.85 225.63L406.10 225.68L406.35 225.72L406.60 225.76L406.85 225.85L407.10 225.93L407.35 225.96L407.60 225.98L407.85 225.91L408.10 225.85L408.35 225.69L408.60 225.53L408.85 225.73L409.10 225.93L409.35 225.99L409.60 226.05L409.85 225.96L410.10 225.88L410.35 225.73L410.60 225.58L410.85 225.61L411.10 225.65L411.35 225.61L411.60 225.58L411.85 225.70L412.10 225.82L412.35 225.87L412.60 225.93L412.85 225.86L413.10 225.80L413.35 225.84L413.60 225.88L413.85 225.85L414.10 225.83L414.35 225.70L414.60 225.56L414.85 225.65L415.10 225.73L415.35 225.83L415.60 225.92L415.85 225.93L416.10 225.94L416.35 225.91L416.60 225.88L416.85 225.78L417.10 225.68L417.35 225.60L417.60 225.53L417.85 225.39L418.10 225.26L418.35 225.15L418.60 225.04L418.85 225.25L419.10 225.47L419.35 225.60L419.60 225.72L419.85 225.88L420.10 226.03L420.35 225.90L420.60 225.77L420.85 225.80L421.10 225.82L421.35 225.70L421.60 225.57L421.85 225.72L422.10 225.86L422.35 225.79L422.60 225.72L422.85 225.81L423.10 225.90L423.35 225.95L423.60 225.99L423.85 225.79L424.10 225.59L424.35 225.39L424.60 225.20L424.85 225.21L425.10 225.22L425.35 225.56L425.60 225.89L425.85 225.92L426.10 225.94L426.35 225.83L426.60 225.72L426.85 225.62L427.10 225.52L427.35 225.61L427.60 225.69L427.85 225.77L428.10 225.84L428.35 225.88L428.60 225.92L428.85 225.84L429.10 225.75L429.35 225.63L429.60 225.50L429.85 225.57L430.10 225.64L430.35 225.68L430.60 225.73L430.85 225.76L431.10 225.78L431.35 225.85L431.60 225.92L431.85 225.91L432.10 225.91L432.35 225.89L432.60 225.86L432.85 225.77L433.10 225.67L433.35 225.75L433.60 225.83L433.85 225.73L434.10 225.64L434.35 225.77L434.60 225.91L434.85 225.82L435.10 225.73L435.35 225.79L435.60 225.86L435.85 225.84L436.10 225.83L436.35 225.92L436.60 226.00L436.85 225.91L437.10 225.82L437.35 225.77L437.60 225.73L437.85 225.79L438.10 225.85L438.35 225.83L438.60 225.81L438.85 225.67L439.10 225.53L439.35 225.51L439.60 225.50L439.85 225.47L440.10 225.43L440.35 225.39L440.60 225.34L440.85 225.30L441.10 225.26L441.35 225.29L441.60 225.32L441.85 225.26L442.10 225.20L442.35 225.44L442.60 225.69L442.85 225.72L443.10 225.76L443.35 225.82L443.60 225.88L443.85 225.73L444.10 225.59L444.35 225.76L444.60 225.93L444.85 226.01L445.10 226.08L445.35 226.00L445.60 225.92L445.85 225.80L446.10 225.68L446.35 225.58L446.60 225.48L446.85 225.62L447.10 225.77L447.35 225.85L447.60 225.93L447.85 225.95L448.10 225.97L448.35 225.85L448.60 225.72L448.85 225.64L449.10 225.56L449.35 225.56L449.60 225.55L449.85 225.64L450.10 225.72L450.35 225.84L450.60 225.97L450.85 225.86L451.10 225.74L451.35 225.65L451.60 225.56L451.85 225.75L452.10 225.93L452.35 225.79L452.60 225.64L452.85 225.67L453.10 225.69L453.35 225.64L453.60 225.60L453.85 225.71L454.10 225.83L454.35 225.91L454.60 226.00L454.85 225.98L455.10 225.95L455.35 225.95L455.60 225.95L455.85 226.01L456.10 226.06L456.35 226.02L456.60 225.97L456.85 226.00L457.10 226.03L457.35 225.82L457.60 225.61L457.85 224.96L458.10 224.09L458.35 222.51L458.60 221.04L458.85 220.07L459.10 219.50L459.35 220.78L459.60 222.23L459.85 223.48L460.10 224.93L460.35 225.49L460.60 225.85L460.85 225.47L461.10 224.99L461.35 224.13L461.60 223.01L461.85 222.64L462.10 222.48L462.35 223.20L462.60 223.88L462.85 224.68L463.10 225.50L463.35 225.38L463.60 225.28L463.85 223.50L464.10 221.80L464.35 219.61L464.60 218.17L464.85 218.64L465.10 220.10L465.35 222.11L465.60 224.24L465.85 225.11L466.10 225.36L466.35 225.51L466.60 225.66L466.85 225.79L467.10 225.92L467.35 225.74L467.60 225.57L467.85 225.72L468.10 225.87L468.35 225.94L468.60 226.00L468.85 226.04L469.10 226.07L469.35 226.02L469.60 225.98L469.85 225.91L470.10 225.84L470.35 225.81L470.60 225.78L470.85 225.66L471.10 225.53L471.35 225.67L471.60 225.80L471.85 225.85L472.10 225.90L472.35 225.94L472.60 225.98L472.85 225.93L473.10 225.89L473.35 225.89L473.60 225.89L473.85 225.72L474.10 225.55L474.35 225.52L474.60 225.48L474.85 225.67L475.10 225.86L475.35 225.90L475.60 225.93L475.85 225.99L476.10 226.05L476.35 225.97L476.60 225.89L476.85 225.85L477.10 225.81L477.35 225.91L477.60 226.01L477.85 225.88L478.10 225.75L478.35 225.51L478.60 225.26L478.85 225.49L479.10 225.71L479.35 225.67L479.60 225.62L479.85 225.58L480.10 225.55L480.35 225.62L480.60 225.70L480.85 225.74L481.10 225.79L481.35 225.72L481.60 225.65L481.85 225.72L482.10 225.80L482.35 225.82L482.60 225.83L482.85 225.68L483.10 225.53L483.35 225.60L483.60 225.66L483.85 225.69L484.10 225.71L484.35 225.71L484.60 225.71L484.85 225.68L485.10 225.65L485.35 225.82L485.60 225.98L485.85 226.04L486.10 226.10L486.35 226.10L486.60 226.10L486.85 226.07L487.10 226.04L487.35 226.05L487.60 226.05L487.85 225.82L488.10 225.60L488.35 225.73L488.60 225.87L488.85 225.80L489.10 225.72L489.35 225.38L489.60 225.03L489.85 225.48L490.10 224.89L490.35 225.02L490.60 225.34L490.85 225.55L491.10 225.76L491.35 225.79L491.60 225.82L491.85 225.74L492.10 225.66L492.35 225.76L492.60 225.86L492.85 225.92L493.10 225.97L493.35 225.93L493.60 225.90L493.85 225.86L494.10 225.82L494.35 225.82L494.60 225.82L494.85 225.91L495.10 226.00L495.35 225.97L495.60 225.94L495.85 225.87L496.10 225.61L496.35 225.12L496.60 224.58L496.85 224.50L497.10 224.42L497.35 224.94L497.60 225.40L497.85 225.75L498.10 225.85L498.35 225.50L498.60 225.15L498.85 225.11L499.10 225.08L499.35 225.35L499.60 225.61L499.85 225.63L500.10 225.65L500.35 225.77L500.60 225.88L500.85 225.82L501.10 225.75L501.35 225.64L501.60 225.53L501.85 225.54L502.10 225.54L502.35 225.63L502.60 225.72L502.85 225.67L503.10 225.63L503.35 225.34L503.60 225.05L503.85 225.35L504.10 225.66L504.35 225.82L504.60 225.97L504.85 225.95L505.10 225.93L505.35 225.97L505.60 226.02L505.85 225.54L506.10 225.07L506.35 224.13L506.60 223.49L506.85 223.85L507.10 224.26L507.35 225.03L507.60 225.82L507.85 225.91L508.10 226.01L508.35 225.84L508.60 225.66L508.85 225.40L509.10 225.14L509.35 225.31L509.60 225.48L509.85 225.73L510.10 225.99L510.35 225.97L510.60 225.95L510.85 225.93L511.10 225.92L511.35 225.77L511.60 225.63L511.85 225.57L512.10 225.52L512.35 225.49L512.60 225.46L512.85 225.62L513.10 225.78L513.35 225.81L513.60 225.85L513.85 225.79L514.10 225.74L514.35 225.87L514.60 225.99L514.85 225.96L515.10 225.93L515.35 225.82L515.60 225.70L515.85 225.77L516.10 225.84L516.35 225.86L516.60 225.87L516.85 225.88L517.10 225.88L517.35 225.89L517.60 225.89L517.85 225.92L518.10 225.95L518.35 225.93L518.60 225.91L518.85 225.66L519.10 225.41L519.35 225.41L519.60 225.41L519.85 225.36L520.10 225.32L520.35 225.34L520.60 225.37L520.85 225.56L521.10 225.75L521.35 225.85L521.60 225.95L521.85 225.80L522.10 225.65L522.35 225.77L522.60 225.89L522.85 225.92L523.10 225.96L523.35 225.87L523.60 225.78L523.85 225.77L524.10 225.76L524.35 225.80L524.60 225.84L524.85 225.73L525.10 225.63L525.35 225.60L525.60 225.57L525.85 225.74L526.10 225.91L526.35 225.92L526.60 225.93L526.85 225.81L527.10 225.69L527.35 225.66L527.60 225.64L527.85 225.74L528.10 225.84L528.35 225.83L528.60 225.81L528.85 225.79L529.10 225.76L529.35 225.72L529.60 225.67L529.85 225.67L530.10 225.67L530.35 225.66L530.60 225.65L530.85 225.69L531.10 225.72L531.35 225.68L531.60 225.64L531.85 225.72L532.10 225.80L532.35 225.87L532.60 225.95L532.85 226.00L533.10 226.06L533.35 226.07L533.60 226.08L533.85 225.93L534.10 225.78L534.35 225.71L534.60 225.64L534.85 225.72L535.10 225.81L535.35 225.76L535.60 225.71L535.85 225.68L536.10 225.65L536.35 225.74L536.60 225.83L536.85 225.88L537.10 225.93L537.35 225.92L537.60 225.72L537.85 223.88L538.10 222.11L538.35 217.56L538.60 212.67L538.85 210.46L539.10 209.11L539.35 213.51L539.60 217.21L539.85 212.03L540.10 207.18L540.35 210.20L540.60 212.65L540.85 218.31L541.10 223.70L541.35 224.78L541.60 225.80L541.85 225.69L542.10 225.57L542.35 225.66L542.60 225.75L542.85 225.84L543.10 225.93L543.35 225.88L543.60 225.82L543.85 225.80L544.10 225.78L544.35 225.70L544.60 225.63L544.85 225.56L545.10 225.50L545.35 225.68L545.60 225.87L545.85 225.80L546.10 225.73L546.35 225.83L546.60 225.92L546.85 225.75L547.10 225.58L547.35 225.71L547.60 225.83L547.85 225.78L548.10 225.73L548.35 225.69L548.60 225.65L548.85 225.66L549.10 225.68L549.35 225.54L549.60 225.40L549.85 225.40L550.10 225.40L550.35 225.44L550.60 225.48L550.85 225.66L551.10 225.84L551.35 225.75L551.60 225.65L551.85 225.77L552.10 225.90L552.35 225.75L552.60 225.59L552.85 225.59L553.10 225.58L553.35 225.60L553.60 225.61L553.85 225.73L554.10 225.85L554.35 225.94L554.60 226.04L554.85 225.91L555.10 225.78L555.35 225.85L555.60 225.91L555.85 225.85L556.10 225.78L556.35 225.85L556.60 225.91L556.85 225.98L557.10 226.05L557.35 225.85L557.60 225.64L557.85 225.62L558.10 225.59L558.35 225.55L558.60 225.51L558.85 225.36L559.10 225.20L559.35 225.25L559.60 225.31L559.85 225.42L560.10 225.53L560.35 225.69L560.60 225.85L560.85 225.71L561.10 225.58L561.35 225.64L561.60 225.70L561.85 225.55L562.10 225.40L562.35 225.46L562.60 225.52L562.85 225.70L563.10 225.87L563.35 225.91L563.60 225.95L563.85 225.79L564.10 225.63L564.35 225.67L564.60 225.70L564.85 225.79L565.10 225.88L565.35 225.88L565.60 225.89L565.85 225.59L566.10 225.30L566.35 225.11L566.60 225.44L566.85 225.06L567.10 225.20L567.35 225.45L567.60 225.70L567.85 225.81L568.10 225.92L568.35 225.86L568.60 225.80L568.85 225.74L569.10 225.68L569.35 225.78L569.60 225.88L569.85 225.87L570.10 225.86L570.35 225.81L570.60 225.75L570.85 225.79L571.10 225.84L571.35 225.85L571.60 225.85L571.85 225.80L572.10 225.75L572.35 225.79L572.60 225.83L572.85 225.76L573.10 225.69L573.35 225.79L573.60 225.90L573.85 225.84L574.10 225.79L574.35 225.76L574.60 225.74L574.85 225.84L575.10 225.93L575.35 225.82L575.60 225.72L575.85 225.83L576.10 225.94L576.35 225.88L576.60 225.81L576.85 225.76L577.10 225.71L577.35 225.64L577.60 225.57L577.85 225.44L578.10 225.31L578.35 225.50L578.60 225.70L578.85 225.79L579.10 225.88L579.35 225.84L579.60 225.80L579.85 225.80L580.10 225.80L580.35 225.89L580.60 225.98L580.85 225.87L581.10 225.76L581.35 225.71L581.60 225.67L581.85 225.67L582.10 225.68L582.35 225.63L582.60 225.58L582.85 225.62L583.10 225.66L583.35 225.78L583.60 225.91L583.85 225.89L584.10 225.87L584.35 225.86L584.60 225.86L584.85 225.82L585.10 225.77L585.35 225.73L585.60 225.68L585.85 225.73L586.10 225.77L586.35 225.69L586.60 225.61L586.85 225.54L587.10 225.47L587.35 225.66L587.60 225.85L587.85 225.74L588.10 225.62L588.35 225.48L588.60 225.33L588.85 225.49L589.10 225.65L589.35 225.84L589.60 226.02L589.85 226.04L590.10 226.05L590.35 225.86L590.60 225.68L590.85 225.81L591.10 225.95L591.35 225.87L591.60 225.80L591.85 225.79L592.10 225.78L592.35 225.66L592.60 225.53L592.85 225.61L593.10 225.68L593.35 225.74L593.60 225.81L593.85 225.73L594.10 225.66L594.35 225.42L594.60 225.19L594.85 225.35L595.10 225.51L595.35 225.56L595.60 225.61L595.85 225.47L596.10 225.34L596.35 225.50L596.60 225.66L596.85 225.63L597.10 225.59L597.35 225.16L597.60 225.20L597.85 225.08L598.10 225.13L598.35 225.50L598.60 225.88L598.85 225.84L599.10 225.80L599.35 225.68L599.60 225.56L599.85 225.70L600.10 225.84L600.35 225.93L600.60 226.01L600.85 225.94L601.10 225.87L601.35 225.73L601.60 225.59L601.85 225.68L602.10 225.77L602.35 225.72L602.60 225.66L602.85 225.81L603.10 225.96L603.35 225.80L603.60 225.64L603.85 225.67L604.10 225.70L604.35 225.83L604.60 225.95L604.85 225.98L605.10 226.00L605.35 225.95L605.60 225.89L605.85 225.77L606.10 225.65L606.35 225.70L606.60 225.75L606.85 225.88L607.10 226.02L607.35 225.81L607.60 225.60L607.85 225.72L608.10 225.83L608.35 225.75L608.60 225.67L608.85 225.78L609.10 225.88L609.35 225.90L609.60 225.92L609.85 225.96L610.10 226.01L610.35 225.93L610.60 225.85L610.85 225.90L611.10 225.94L611.35 225.98L611.60 226.02L611.85 226.04L612.10 226.06L612.35 225.84L612.60 225.61L612.85 225.60L613.10 225.58L613.35 225.73L613.60 225.88L613.85 225.97L614.10 226.05L614.35 226.08L614.60 226.10L614.85 225.93L615.10 225.76L615.35 225.68L615.60 225.59L615.85 225.72L616.10 225.84L616.35 225.75L616.60 225.65L616.85 225.80L617.10 225.95L617.35 226.01L617.60 226.06L617.85 225.95L618.10 225.84L618.35 225.84L618.60 225.83L618.85 225.81L619.10 225.79L619.35 225.72L619.60 225.66L619.85 225.61L620.10 225.56L620.35 225.59L620.60 225.63L620.85 225.67L621.10 225.70L621.35 225.69L621.60 225.67L621.85 225.68L622.10 225.70L622.35 225.60L622.60 225.50L622.85 225.56L623.10 225.62L623.35 225.60L623.60 225.57L623.85 225.58L624.10 225.59L624.35 225.71L624.60 225.83L624.85 225.70L625.10 225.58L625.35 225.76L625.60 225.94L625.85 225.84L626.10 225.73L626.35 225.84L626.60 225.95L626.85 225.98L627.10 226.02L627.35 226.03L627.60 226.03L627.85 225.70L628.10 225.36L628.35 225.34L628.60 225.33L628.85 225.24L629.10 225.15L629.35 225.22L629.60 225.29L629.85 225.45L630.10 225.61L630.35 225.39L630.60 225.18L630.85 225.25L631.10 225.31L631.35 225.33L631.60 225.34L631.85 225.61L632.10 225.88L632.35 225.87L632.60 225.86L632.85 225.85L633.10 225.84L633.35 225.86L633.60 225.88L633.85 225.74L634.10 225.60L634.35 225.55L634.60 225.51L634.85 225.70L635.10 225.88L635.35 225.92L635.60 225.95L635.85 226.00L636.10 226.05L636.35 225.98L636.60 225.92L636.85 225.92L637.10 225.93L637.35 225.65L637.60 225.37L637.85 225.40L638.10 225.43L638.35 225.30L638.60 225.17L638.85 225.35L639.10 225.54L639.35 225.64L639.60 225.74L639.85 225.84L640.10 225.93L640.35 225.96L640.60 225.99L640.85 226.00L641.10 226.00L641.35 226.00L641.60 226.00L641.85 225.90L642.10 225.81L642.35 225.88L642.60 225.95L642.85 225.82L643.10 225.69L643.35 225.83L643.60 225.97L643.85 225.94L644.10 225.91L644.35 225.86L644.60 225.82L644.85 225.78L645.10 225.73L645.35 225.79L645.60 225.85L645.85 225.86L646.10 225.87L646.35 225.87L646.60 225.87L646.85 225.91L647.10 225.95L647.35 225.94L647.60 225.93L647.85 225.80L648.10 225.68L648.35 225.64L648.60 225.61L648.85 225.75L649.10 225.88L649.35 225.89L649.60 225.89L649.85 225.65L650.10 225.42L650.35 225.36L650.60 225.30L650.85 225.46L651.10 225.62L651.35 225.70L651.60 225.78L651.85 225.75L652.10 225.73L652.35 225.80L652.60 225.86L652.85 225.83L653.10 225.80L653.35 225.82L653.60 225.83L653.85 225.70L654.10 225.56L654.35 225.56L654.60 225.57L654.85 225.62L655.10 225.67L655.35 225.65L655.60 225.63L655.85 225.77L656.10 225.91L656.35 225.70L656.60 225.49L656.85 225.50L657.10 225.51L657.35 225.42L657.60 225.33L657.85 225.32L658.10 225.31L658.35 225.43L658.60 225.54L658.85 225.60L659.10 225.65L659.35 225.72L659.60 225.79L659.85 225.87L660.10 225.96L660.35 225.87L660.60 225.78L660.85 225.82L661.10 225.85L661.35 225.89L661.60 225.92L661.85 225.87L662.10 225.81L662.35 225.66L662.60 225.52L662.85 225.69L663.10 225.86L663.35 225.81L663.60 225.77L663.85 225.78L664.10 225.80L664.35 225.77L664.60 225.74L664.85 225.76L665.10 225.77L665.35 225.81L665.60 225.84L665.85 225.91L666.10 225.99L666.35 225.95L666.60 225.92L666.85 225.81L667.10 225.70L667.35 225.78L667.60 225.86L667.85 225.91L668.10 225.96L668.35 225.99L668.60 226.03L668.85 225.92L669.10 225.80L669.35 225.88L669.60 225.96L669.85 225.91L670.10 225.85L670.35 225.74L670.60 225.63L670.85 225.79L671.10 225.95L671.35 225.79L671.60 225.63L671.85 225.60L672.10 225.57L672.35 225.71L672.60 225.86L672.85 225.71L673.10 225.57L673.35 225.53L673.60 225.49L673.85 225.60L674.10 225.72L674.2 226.20Z" fill="#1e8cff" stroke="#10398f" stroke-width="0.78" stroke-linejoin="round"/>
<path d="M395.2 229.20H397.9V249.80" fill="none" stroke="#333" stroke-width="0.75"/>
<text x="385.61" y="230.80" font-size="4.8" textLength="4.89" lengthAdjust="spacingAndGlyphs" fill="#111">35</text>
<text x="364.99" y="241.60" font-size="5" textLength="21.01" lengthAdjust="spacingAndGlyphs" fill="#111">H3K36me3</text>
<path d="M398.6 249.80L398.60 248.78L398.85 248.87L399.10 248.95L399.35 248.87L399.60 248.78L399.85 248.75L400.10 248.72L400.35 248.63L400.60 248.68L400.85 248.80L401.10 248.67L401.35 248.79L401.60 249.04L401.85 249.28L402.10 249.51L402.35 249.48L402.60 249.46L402.85 249.39L403.10 249.32L403.35 249.17L403.60 249.02L403.85 249.12L404.10 249.22L404.35 249.03L404.60 248.83L404.85 249.10L405.10 249.37L405.35 249.48L405.60 249.58L405.85 249.59L406.10 249.60L406.35 249.39L406.60 249.18L406.85 249.22L407.10 249.25L407.35 249.32L407.60 249.39L407.85 249.35L408.10 249.31L408.35 249.14L408.60 248.97L408.85 249.06L409.10 249.14L409.35 248.90L409.60 248.66L409.85 248.78L410.10 248.91L410.35 248.78L410.60 248.64L410.85 248.93L411.10 249.21L411.35 249.36L411.60 249.51L411.85 249.41L412.10 249.32L412.35 249.05L412.60 248.77L412.85 248.81L413.10 248.85L413.35 249.05L413.60 249.25L413.85 249.39L414.10 249.54L414.35 249.29L414.60 249.04L414.85 249.19L415.10 249.34L415.35 249.12L415.60 248.90L415.85 249.03L416.10 249.16L416.35 249.28L416.60 249.39L416.85 249.26L417.10 249.13L417.35 249.07L417.60 249.01L417.85 249.14L418.10 249.26L418.35 249.00L418.60 248.74L418.85 248.76L419.10 248.77L419.35 249.07L419.60 249.36L419.85 249.29L420.10 249.22L420.35 249.20L420.60 249.18L420.85 249.22L421.10 249.26L421.35 249.28L421.60 249.30L421.85 249.40L422.10 249.50L422.35 249.21L422.60 248.91L422.85 248.87L423.10 248.84L423.35 249.07L423.60 249.29L423.85 249.17L424.10 249.04L424.35 248.81L424.60 248.90L424.85 248.65L425.10 248.73L425.35 248.77L425.60 248.82L425.85 248.79L426.10 248.76L426.35 248.65L426.60 249.10L426.85 248.66L427.10 248.79L427.35 248.89L427.60 248.99L427.85 249.03L428.10 249.07L428.35 249.20L428.60 249.33L428.85 249.08L429.10 248.82L429.35 248.82L429.60 248.83L429.85 248.86L430.10 248.89L430.35 248.82L430.60 247.38L430.85 248.18L431.10 247.72L431.35 247.99L431.60 248.50L431.85 247.89L432.10 247.87L432.35 247.33L432.60 247.74L432.85 247.96L433.10 248.84L433.35 248.63L433.60 248.26L433.85 248.52L434.10 248.36L434.35 248.49L434.60 246.94L434.85 247.73L435.10 247.09L435.35 248.03L435.60 248.96L435.85 248.55L436.10 248.47L436.35 247.96L436.60 246.63L436.85 247.49L437.10 246.46L437.35 247.60L437.60 246.37L437.85 246.53L438.10 246.51L438.35 247.60L438.60 247.06L438.85 246.75L439.10 246.61L439.35 247.14L439.60 248.36L439.85 247.96L440.10 248.28L440.35 247.53L440.60 248.22L440.85 247.54L441.10 247.30L441.35 248.34L441.60 248.54L441.85 247.36L442.10 245.18L442.35 242.47L442.60 242.39L442.85 245.03L443.10 243.84L443.35 245.68L443.60 247.48L443.85 247.29L444.10 247.52L444.35 246.23L444.60 246.35L444.85 242.86L445.10 244.29L445.35 242.68L445.60 243.02L445.85 242.32L446.10 245.30L446.35 243.56L446.60 245.64L446.85 244.46L447.10 243.70L447.35 245.58L447.60 245.71L447.85 244.69L448.10 241.06L448.35 242.02L448.60 243.55L448.85 245.82L449.10 244.89L449.35 246.69L449.60 247.15L449.85 246.79L450.10 245.21L450.35 245.82L450.60 244.90L450.85 244.18L451.10 245.28L451.35 245.96L451.60 246.14L451.85 245.20L452.10 244.25L452.35 245.89L452.60 247.64L452.85 247.74L453.10 246.41L453.35 247.49L453.60 246.09L453.85 244.12L454.10 245.49L454.35 241.97L454.60 240.62L454.85 241.19L455.10 244.77L455.35 243.81L455.60 246.79L455.85 246.15L456.10 246.46L456.35 247.88L456.60 248.23L456.85 248.16L457.10 245.66L457.35 246.31L457.60 246.50L457.85 245.73L458.10 245.31L458.35 245.89L458.60 245.49L458.85 244.95L459.10 245.12L459.35 245.48L459.60 241.77L459.85 244.57L460.10 244.84L460.35 245.22L460.60 247.58L460.85 246.27L461.10 246.47L461.35 246.58L461.60 246.40L461.85 246.65L462.10 247.40L462.35 247.04L462.60 247.40L462.85 246.97L463.10 247.88L463.35 248.11L463.60 248.36L463.85 248.88L464.10 249.02L464.35 248.49L464.60 248.23L464.85 247.69L465.10 245.81L465.35 245.75L465.60 243.06L465.85 245.64L466.10 246.30L466.35 247.48L466.60 247.88L466.85 247.75L467.10 246.36L467.35 246.34L467.60 243.61L467.85 246.53L468.10 247.36L468.35 247.70L468.60 246.73L468.85 247.78L469.10 248.76L469.35 247.95L469.60 247.99L469.85 247.45L470.10 247.70L470.35 246.72L470.60 246.78L470.85 246.76L471.10 247.84L471.35 248.37L471.60 247.85L471.85 247.21L472.10 247.19L472.35 247.23L472.60 246.90L472.85 245.43L473.10 244.54L473.35 246.77L473.60 244.29L473.85 246.14L474.10 247.35L474.35 247.90L474.60 247.11L474.85 246.66L475.10 247.61L475.35 248.13L475.60 247.57L475.85 247.19L476.10 247.29L476.35 247.04L476.60 246.69L476.85 248.01L477.10 247.99L477.35 248.66L477.60 248.80L477.85 248.97L478.10 249.14L478.35 249.00L478.60 248.87L478.85 248.85L479.10 248.82L479.35 249.01L479.60 249.20L479.85 249.09L480.10 248.98L480.35 248.94L480.60 248.90L480.85 248.90L481.10 248.90L481.35 249.15L481.60 249.39L481.85 249.47L482.10 249.55L482.35 249.35L482.60 249.15L482.85 249.07L483.10 248.99L483.35 248.95L483.60 248.92L483.85 249.03L484.10 249.14L484.35 249.27L484.60 249.40L484.85 249.15L485.10 248.90L485.35 249.14L485.60 249.38L485.85 249.25L486.10 249.12L486.35 249.15L486.60 249.19L486.85 249.36L487.10 249.53L487.35 249.44L487.60 249.35L487.85 248.95L488.10 249.00L488.35 249.01L488.60 248.27L488.85 248.98L489.10 248.73L489.35 249.06L489.60 249.39L489.85 249.17L490.10 248.95L490.35 248.92L490.60 248.89L490.85 248.91L491.10 248.93L491.35 248.96L491.60 249.00L491.85 249.10L492.10 249.21L492.35 249.17L492.60 249.13L492.85 249.07L493.10 249.02L493.35 248.80L493.60 248.72L493.85 248.66L494.10 248.74L494.35 248.81L494.60 248.88L494.85 248.63L495.10 248.43L495.35 248.21L495.60 248.23L495.85 248.41L496.10 248.23L496.35 248.17L496.60 247.85L496.85 246.34L497.10 246.04L497.35 246.16L497.60 247.72L497.85 248.39L498.10 249.00L498.35 249.04L498.60 249.08L498.85 249.15L499.10 249.23L499.35 248.69L499.60 248.72L499.85 248.30L500.10 248.07L500.35 248.03L500.60 248.73L500.85 248.77L501.10 248.41L501.35 247.79L501.60 248.06L501.85 248.21L502.10 247.94L502.35 248.11L502.60 249.01L502.85 248.07L503.10 247.85L503.35 248.35L503.60 248.67L503.85 248.91L504.10 249.15L504.35 248.65L504.60 248.90L504.85 248.86L505.10 248.85L505.35 248.62L505.60 248.01L505.85 248.23L506.10 247.31L506.35 248.36L506.60 248.25L506.85 248.06L507.10 248.55L507.35 248.17L507.60 247.39L507.85 248.02L508.10 248.00L508.35 247.69L508.60 248.35L508.85 247.89L509.10 248.52L509.35 247.93L509.60 248.17L509.85 248.61L510.10 248.73L510.35 248.66L510.60 248.99L510.85 248.28L511.10 247.65L511.35 248.56L511.60 247.75L511.85 248.31L512.10 248.46L512.35 248.51L512.60 248.25L512.85 247.87L513.10 248.72L513.35 248.46L513.60 249.02L513.85 249.04L514.10 248.78L514.35 248.72L514.60 248.66L514.85 248.63L515.10 247.10L515.35 247.16L515.60 245.77L515.85 247.66L516.10 247.41L516.35 248.00L516.60 248.06L516.85 247.95L517.10 248.25L517.35 247.49L517.60 247.49L517.85 247.47L518.10 248.62L518.35 248.21L518.60 248.62L518.85 248.82L519.10 248.06L519.35 248.61L519.60 248.62L519.85 248.33L520.10 248.55L520.35 248.35L520.60 248.03L520.85 248.13L521.10 246.78L521.35 246.19L521.60 246.40L521.85 247.34L522.10 247.08L522.35 247.73L522.60 247.97L522.85 248.71L523.10 248.30L523.35 248.90L523.60 248.18L523.85 247.56L524.10 246.85L524.35 248.00L524.60 248.66L524.85 248.66L525.10 248.52L525.35 248.26L525.60 247.91L525.85 247.14L526.10 246.86L526.35 246.57L526.60 246.44L526.85 247.33L527.10 247.20L527.35 247.62L527.60 248.53L527.85 248.17L528.10 247.89L528.35 248.04L528.60 247.41L528.85 248.22L529.10 248.38L529.35 248.93L529.60 248.21L529.85 248.13L530.10 247.87L530.35 247.30L530.60 247.62L530.85 248.00L531.10 247.07L531.35 247.41L531.60 246.61L531.85 247.66L532.10 246.97L532.35 248.22L532.60 247.75L532.85 247.65L533.10 248.19L533.35 248.75L533.60 248.80L533.85 248.48L534.10 248.44L534.35 248.31L534.60 248.20L534.85 248.68L535.10 247.55L535.35 248.35L535.60 248.36L535.85 248.53L536.10 248.76L536.35 249.06L536.60 249.35L536.85 249.14L537.10 248.94L537.35 248.86L537.60 248.78L537.85 248.68L538.10 248.78L538.35 248.92L538.60 249.25L538.85 249.20L539.10 249.16L539.35 248.80L539.60 248.62L539.85 247.56L540.10 246.70L540.35 245.91L540.60 247.01L540.85 241.66L541.10 235.14L541.35 233.69L541.60 232.03L541.85 239.52L542.10 243.74L542.35 243.09L542.60 240.41L542.85 239.28L543.10 237.81L543.35 240.58L543.60 242.74L543.85 244.77L544.10 246.54L544.35 246.21L544.60 247.05L544.85 247.24L545.10 244.22L545.35 244.66L545.60 245.29L545.85 245.30L546.10 243.33L546.35 246.37L546.60 246.82L546.85 242.86L547.10 244.31L547.35 243.45L547.60 243.10L547.85 245.65L548.10 243.08L548.35 241.44L548.60 244.48L548.85 242.60L549.10 241.98L549.35 242.95L549.60 246.74L549.85 243.50L550.10 241.82L550.35 242.53L550.60 243.47L550.85 242.99L551.10 242.84L551.35 245.37L551.60 244.48L551.85 245.98L552.10 242.75L552.35 244.34L552.60 243.17L552.85 244.30L553.10 243.30L553.35 243.14L553.60 243.23L553.85 243.19L554.10 245.51L554.35 244.86L554.60 242.02L554.85 239.63L555.10 238.31L555.35 239.44L555.60 237.44L555.85 237.34L556.10 237.54L556.35 239.75L556.60 243.66L556.85 243.12L557.10 243.55L557.35 241.93L557.60 243.73L557.85 243.41L558.10 243.79L558.35 242.36L558.60 243.20L558.85 244.51L559.10 247.61L559.35 247.16L559.60 247.39L559.85 242.89L560.10 243.99L560.35 242.62L560.60 239.67L560.85 241.59L561.10 242.44L561.35 243.72L561.60 245.34L561.85 245.65L562.10 247.67L562.35 246.84L562.60 244.69L562.85 245.96L563.10 245.15L563.35 244.60L563.60 242.66L563.85 242.63L564.10 241.15L564.35 239.47L564.60 244.90L564.85 245.48L565.10 244.93L565.35 242.40L565.60 242.49L565.85 241.75L566.10 245.04L566.35 243.04L566.60 246.43L566.85 243.12L567.10 244.82L567.35 244.35L567.60 245.45L567.85 245.58L568.10 244.86L568.35 246.59L568.60 246.12L568.85 244.40L569.10 244.08L569.35 239.65L569.60 239.30L569.85 238.89L570.10 239.51L570.35 241.35L570.60 241.15L570.85 240.82L571.10 239.76L571.35 243.50L571.60 246.53L571.85 243.44L572.10 245.18L572.35 244.19L572.60 239.26L572.85 240.05L573.10 242.22L573.35 242.08L573.60 241.58L573.85 240.23L574.10 238.00L574.35 241.29L574.60 244.84L574.85 242.27L575.10 243.57L575.35 244.26L575.60 241.40L575.85 240.85L576.10 240.64L576.35 243.70L576.60 245.28L576.85 244.62L577.10 244.59L577.35 241.53L577.60 242.73L577.85 241.60L578.10 244.01L578.35 243.51L578.60 245.53L578.85 246.41L579.10 246.08L579.35 244.67L579.60 243.33L579.85 243.77L580.10 242.26L580.35 243.50L580.60 242.01L580.85 242.78L581.10 242.30L581.35 241.75L581.60 244.66L581.85 244.10L582.10 247.17L582.35 247.37L582.60 248.10L582.85 248.26L583.10 248.63L583.35 249.05L583.60 248.32L583.85 247.73L584.10 247.04L584.35 246.74L584.60 246.45L584.85 246.77L585.10 247.05L585.35 245.48L585.60 245.44L585.85 245.03L586.10 247.48L586.35 247.74L586.60 247.58L586.85 248.55L587.10 248.77L587.35 248.47L587.60 247.64L587.85 248.14L588.10 247.22L588.35 247.78L588.60 248.62L588.85 247.94L589.10 247.19L589.35 248.18L589.60 247.26L589.85 247.94L590.10 247.99L590.35 247.31L590.60 247.84L590.85 248.19L591.10 247.37L591.35 247.71L591.60 248.55L591.85 247.39L592.10 247.01L592.35 245.43L592.60 246.57L592.85 247.82L593.10 247.66L593.35 248.47L593.60 248.54L593.85 247.78L594.10 247.29L594.35 246.70L594.60 247.83L594.85 245.16L595.10 242.64L595.35 241.06L595.60 239.64L595.85 241.24L596.10 245.46L596.35 242.98L596.60 241.76L596.85 243.77L597.10 239.34L597.35 241.48L597.60 241.77L597.85 244.25L598.10 244.82L598.35 241.31L598.60 244.13L598.85 244.67L599.10 247.20L599.35 244.84L599.60 245.30L599.85 246.69L600.10 244.05L600.35 243.53L600.60 241.58L600.85 244.31L601.10 244.86L601.35 244.59L601.60 245.40L601.85 244.56L602.10 244.66L602.35 246.90L602.60 245.69L602.85 243.97L603.10 241.79L603.35 244.13L603.60 245.72L603.85 246.21L604.10 247.69L604.35 246.79L604.60 246.97L604.85 246.07L605.10 246.51L605.35 245.20L605.60 245.66L605.85 245.69L606.10 244.85L606.35 245.95L606.60 246.85L606.85 245.20L607.10 245.92L607.35 245.39L607.60 246.33L607.85 243.37L608.10 240.65L608.35 241.91L608.60 239.14L608.85 239.91L609.10 240.54L609.35 241.74L609.60 240.55L609.85 240.12L610.10 242.68L610.35 242.53L610.60 244.74L610.85 244.56L611.10 242.67L611.35 244.85L611.60 243.44L611.85 242.96L612.10 245.99L612.35 244.32L612.60 245.40L612.85 245.25L613.10 247.22L613.35 243.91L613.60 243.78L613.85 242.83L614.10 244.16L614.35 243.49L614.60 244.65L614.85 243.72L615.10 241.61L615.35 246.14L615.60 246.99L615.85 246.98L616.10 247.19L616.35 247.52L616.60 247.66L616.85 247.54L617.10 247.83L617.35 241.69L617.60 234.44L617.85 236.54L618.10 237.85L618.35 239.61L618.60 241.70L618.85 243.00L619.10 241.70L619.35 241.95L619.60 245.81L619.85 245.54L620.10 247.06L620.35 244.66L620.60 246.68L620.85 246.46L621.10 246.47L621.35 244.53L621.60 243.01L621.85 243.15L622.10 246.74L622.35 244.67L622.60 245.93L622.85 246.50L623.10 248.36L623.35 246.97L623.60 247.24L623.85 244.53L624.10 244.88L624.35 242.12L624.60 239.72L624.85 242.18L625.10 241.26L625.35 240.12L625.60 240.11L625.85 242.59L626.10 243.44L626.35 243.75L626.60 243.28L626.85 245.88L627.10 246.45L627.35 245.13L627.60 243.84L627.85 240.51L628.10 239.99L628.35 238.86L628.60 238.40L628.85 243.63L629.10 239.63L629.35 244.19L629.60 244.46L629.85 244.00L630.10 246.08L630.35 243.73L630.60 244.79L630.85 242.21L631.10 243.70L631.35 239.84L631.60 240.89L631.85 243.05L632.10 246.35L632.35 244.53L632.60 245.96L632.85 246.31L633.10 246.71L633.35 247.86L633.60 249.08L633.85 248.78L634.10 248.50L634.35 247.24L634.60 246.15L634.85 247.89L635.10 247.84L635.35 248.45L635.60 248.70L635.85 247.93L636.10 247.74L636.35 246.31L636.60 247.24L636.85 246.82L637.10 246.11L637.35 246.38L637.60 244.22L637.85 244.82L638.10 245.14L638.35 244.70L638.60 245.40L638.85 245.14L639.10 245.89L639.35 244.79L639.60 245.23L639.85 246.40L640.10 245.61L640.35 247.02L640.60 246.67L640.85 247.17L641.10 248.62L641.35 248.88L641.60 249.13L641.85 248.83L642.10 248.91L642.35 248.11L642.60 248.32L642.85 248.32L643.10 247.56L643.35 248.07L643.60 248.29L643.85 248.12L644.10 248.40L644.35 248.46L644.60 248.27L644.85 246.79L645.10 248.01L645.35 246.54L645.60 246.97L645.85 248.17L646.10 248.44L646.35 248.63L646.60 248.86L646.85 248.16L647.10 248.10L647.35 247.32L647.60 246.96L647.85 246.87L648.10 246.71L648.35 245.77L648.60 248.14L648.85 248.36L649.10 249.13L649.35 247.75L649.60 247.22L649.85 246.09L650.10 246.50L650.35 245.75L650.60 246.01L650.85 245.13L651.10 246.35L651.35 245.38L651.60 246.14L651.85 245.48L652.10 246.64L652.35 243.50L652.60 243.49L652.85 245.22L653.10 243.95L653.35 242.70L653.60 241.44L653.85 243.66L654.10 246.31L654.35 247.00L654.60 248.28L654.85 246.49L655.10 247.23L655.35 245.70L655.60 247.12L655.85 247.25L656.10 247.02L656.35 246.10L656.60 244.69L656.85 246.15L657.10 247.10L657.35 246.10L657.60 241.45L657.85 243.81L658.10 246.57L658.35 245.43L658.60 244.05L658.85 245.91L659.10 248.54L659.35 248.65L659.60 248.64L659.85 247.00L660.10 246.55L660.35 244.50L660.60 244.67L660.85 244.54L661.10 242.25L661.35 243.55L661.60 245.31L661.85 244.64L662.10 247.51L662.35 248.11L662.60 249.08L662.85 248.71L663.10 248.51L663.35 248.80L663.60 248.88L663.85 248.97L664.10 248.76L664.35 248.62L664.60 248.71L664.85 249.04L665.10 248.61L665.35 248.00L665.60 247.70L665.85 247.95L666.10 246.25L666.35 246.99L666.60 247.91L666.85 248.43L667.10 248.40L667.35 248.92L667.60 248.77L667.85 249.02L668.10 248.50L668.35 248.34L668.60 248.29L668.85 248.18L669.10 248.77L669.35 248.52L669.60 248.85L669.85 248.19L670.10 248.24L670.35 248.67L670.60 249.06L670.85 248.75L671.10 248.17L671.35 248.50L671.60 248.52L671.85 248.42L672.10 248.16L672.35 248.21L672.60 247.26L672.85 248.65L673.10 248.49L673.35 248.71L673.60 248.45L673.85 248.28L674.10 248.24L674.2 249.80Z" fill="#1e8cff" stroke="#10398f" stroke-width="0.78" stroke-linejoin="round"/>
<path d="M395.2 252.80H397.9V273.10" fill="none" stroke="#333" stroke-width="0.75"/>
<text x="383.16" y="254.40" font-size="4.8" textLength="7.34" lengthAdjust="spacingAndGlyphs" fill="#111">124</text>
<text x="367.32" y="265.20" font-size="5" textLength="18.68" lengthAdjust="spacingAndGlyphs" fill="#111">H3K4me3</text>
<path d="M398.6 273.10L398.60 272.46L398.85 272.57L399.10 272.68L399.35 272.80L399.60 272.93L399.85 272.90L400.10 272.87L400.35 272.88L400.60 272.89L400.85 272.74L401.10 272.60L401.35 272.55L401.60 272.50L401.85 272.29L402.10 272.07L402.35 272.10L402.60 272.12L402.85 272.29L403.10 272.47L403.35 272.51L403.60 272.55L403.85 272.54L404.10 272.53L404.35 272.57L404.60 272.61L404.85 272.41L405.10 272.21L405.35 272.06L405.60 271.91L405.85 272.10L406.10 272.28L406.35 272.29L406.60 272.30L406.85 272.39L407.10 272.47L407.35 272.59L407.60 272.71L407.85 272.78L408.10 272.86L408.35 272.87L408.60 272.88L408.85 272.91L409.10 272.94L409.35 272.88L409.60 272.83L409.85 272.71L410.10 272.58L410.35 272.73L410.60 272.88L410.85 272.80L411.10 272.72L411.35 272.68L411.60 272.65L411.85 272.51L412.10 272.38L412.35 272.45L412.60 272.52L412.85 272.65L413.10 272.79L413.35 272.76L413.60 272.73L413.85 272.78L414.10 272.83L414.35 272.90L414.60 272.97L414.85 272.99L415.10 273.01L415.35 272.84L415.60 272.68L415.85 272.71L416.10 272.74L416.35 272.64L416.60 272.54L416.85 272.65L417.10 272.76L417.35 272.81L417.60 272.85L417.85 272.89L418.10 272.93L418.35 272.96L418.60 272.99L418.85 273.00L419.10 273.01L419.35 272.82L419.60 272.62L419.85 272.61L420.10 272.59L420.35 272.76L420.60 272.92L420.85 272.83L421.10 272.75L421.35 272.80L421.60 272.85L421.85 272.82L422.10 272.80L422.35 272.72L422.60 272.65L422.85 272.73L423.10 272.81L423.35 272.75L423.60 272.69L423.85 272.63L424.10 272.57L424.35 272.70L424.60 272.82L424.85 272.88L425.10 272.93L425.35 272.93L425.60 272.94L425.85 272.68L426.10 272.43L426.35 272.32L426.60 272.22L426.85 272.16L427.10 272.09L427.35 272.30L427.60 272.51L427.85 272.44L428.10 272.38L428.35 272.49L428.60 272.60L428.85 272.64L429.10 272.67L429.35 272.80L429.60 272.93L429.85 272.84L430.10 272.74L430.35 272.76L430.60 272.77L430.85 272.74L431.10 272.70L431.35 272.75L431.60 272.79L431.85 272.75L432.10 272.71L432.35 272.76L432.60 272.81L432.85 272.76L433.10 272.70L433.35 272.59L433.60 272.47L433.85 272.31L434.10 272.15L434.35 272.00L434.60 271.96L434.85 272.10L435.10 272.34L435.35 272.47L435.60 272.61L435.85 272.64L436.10 272.67L436.35 272.68L436.60 272.69L436.85 272.68L437.10 272.66L437.35 272.72L437.60 272.78L437.85 272.71L438.10 272.65L438.35 272.76L438.60 272.87L438.85 272.84L439.10 272.81L439.35 272.79L439.60 272.78L439.85 272.80L440.10 272.82L440.35 272.81L440.60 272.80L440.85 272.69L441.10 272.58L441.35 272.61L441.60 272.63L441.85 272.71L442.10 272.79L442.35 272.74L442.60 272.70L442.85 272.62L443.10 272.54L443.35 272.54L443.60 272.54L443.85 272.57L444.10 272.61L444.35 272.59L444.60 272.56L444.85 272.66L445.10 272.75L445.35 272.79L445.60 272.82L445.85 272.87L446.10 272.92L446.35 272.92L446.60 272.92L446.85 272.92L447.10 272.93L447.35 272.75L447.60 272.57L447.85 272.65L448.10 272.73L448.35 272.71L448.60 272.69L448.85 272.75L449.10 272.81L449.35 272.88L449.60 272.95L449.85 272.84L450.10 272.73L450.35 272.67L450.60 272.61L450.85 272.56L451.10 272.51L451.35 272.62L451.60 272.73L451.85 272.82L452.10 272.90L452.35 272.79L452.60 272.68L452.85 272.79L453.10 272.90L453.35 272.85L453.60 272.79L453.85 272.84L454.10 272.89L454.35 272.93L454.60 272.98L454.85 272.96L455.10 272.94L455.35 272.82L455.60 272.71L455.85 272.75L456.10 272.78L456.35 272.67L456.60 272.56L456.85 272.62L457.10 272.67L457.35 272.68L457.60 272.70L457.85 272.29L458.10 271.70L458.35 270.65L458.60 269.70L458.85 269.28L459.10 268.86L459.35 269.72L459.60 270.61L459.85 271.46L460.10 272.32L460.35 272.56L460.60 272.57L460.85 272.64L461.10 272.71L461.35 272.73L461.60 272.75L461.85 272.78L462.10 272.82L462.35 272.87L462.60 272.93L462.85 272.87L463.10 272.81L463.35 272.78L463.60 272.48L463.85 270.41L464.10 268.19L464.35 264.27L464.60 261.32L464.85 262.91L465.10 264.69L465.35 268.13L465.60 271.45L465.85 272.26L466.10 272.50L466.35 272.51L466.60 272.51L466.85 272.55L467.10 272.59L467.35 272.66L467.60 272.73L467.85 272.65L468.10 272.57L468.35 272.66L468.60 272.75L468.85 272.65L469.10 272.56L469.35 272.36L469.60 272.15L469.85 272.37L470.10 272.60L470.35 272.64L470.60 272.68L470.85 272.69L471.10 272.69L471.35 272.76L471.60 272.84L471.85 272.80L472.10 272.77L472.35 272.73L472.60 272.68L472.85 272.61L473.10 272.55L473.35 272.50L473.60 272.46L473.85 272.43L474.10 272.40L474.35 272.61L474.60 272.82L474.85 272.82L475.10 272.82L475.35 272.71L475.60 272.61L475.85 272.61L476.10 272.61L476.35 272.42L476.60 272.22L476.85 272.19L477.10 272.17L477.35 272.02L477.60 272.45L477.85 272.10L478.10 272.32L478.35 272.43L478.60 272.53L478.85 272.57L479.10 272.62L479.35 272.72L479.60 272.82L479.85 272.74L480.10 272.66L480.35 272.75L480.60 272.84L480.85 272.71L481.10 272.58L481.35 272.63L481.60 272.67L481.85 272.69L482.10 272.70L482.35 272.81L482.60 272.91L482.85 272.88L483.10 272.85L483.35 272.80L483.60 272.75L483.85 272.66L484.10 272.57L484.35 272.61L484.60 272.65L484.85 272.72L485.10 272.80L485.35 272.71L485.60 272.63L485.85 272.62L486.10 272.62L486.35 272.77L486.60 272.92L486.85 272.84L487.10 272.75L487.35 272.71L487.60 272.67L487.85 272.77L488.10 272.87L488.35 272.90L488.60 272.92L488.85 272.86L489.10 272.79L489.35 272.71L489.60 272.64L489.85 272.61L490.10 272.58L490.35 272.57L490.60 272.57L490.85 272.57L491.10 272.57L491.35 272.57L491.60 272.58L491.85 272.64L492.10 272.71L492.35 272.81L492.60 272.92L492.85 272.70L493.10 272.48L493.35 272.33L493.60 272.18L493.85 272.37L494.10 272.56L494.35 272.63L494.60 272.71L494.85 272.78L495.10 272.84L495.35 272.82L495.60 272.80L495.85 272.69L496.10 272.57L496.35 272.57L496.60 272.58L496.85 272.71L497.10 272.64L497.35 272.16L497.60 271.63L497.85 271.36L498.10 271.14L498.35 271.62L498.60 272.13L498.85 272.50L499.10 272.71L499.35 272.68L499.60 272.66L499.85 272.74L500.10 272.83L500.35 272.84L500.60 272.85L500.85 272.77L501.10 272.70L501.35 272.67L501.60 272.65L501.85 272.59L502.10 272.53L502.35 272.57L502.60 272.62L502.85 272.67L503.10 272.72L503.35 272.37L503.60 271.95L503.85 271.80L504.10 271.58L504.35 271.93L504.60 272.33L504.85 272.59L505.10 272.65L505.35 272.72L505.60 272.80L505.85 272.87L506.10 272.94L506.35 272.96L506.60 272.97L506.85 272.94L507.10 272.90L507.35 272.90L507.60 272.90L507.85 272.78L508.10 272.65L508.35 272.70L508.60 272.75L508.85 272.69L509.10 272.63L509.35 272.70L509.60 272.78L509.85 272.67L510.10 272.56L510.35 272.61L510.60 272.65L510.85 272.66L511.10 272.68L511.35 272.76L511.60 272.85L511.85 272.91L512.10 272.98L512.35 272.85L512.60 272.71L512.85 272.67L513.10 272.63L513.35 272.77L513.60 272.92L513.85 272.88L514.10 272.84L514.35 272.78L514.60 272.72L514.85 272.51L515.10 272.30L515.35 272.24L515.60 272.17L515.85 272.34L516.10 272.50L516.35 272.63L516.60 272.76L516.85 272.83L517.10 272.90L517.35 272.85L517.60 272.80L517.85 272.86L518.10 272.93L518.35 272.84L518.60 272.75L518.85 272.79L519.10 272.83L519.35 272.72L519.60 272.61L519.85 272.62L520.10 272.63L520.35 272.69L520.60 272.75L520.85 272.84L521.10 272.93L521.35 272.87L521.60 272.81L521.85 272.77L522.10 272.73L522.35 272.80L522.60 272.86L522.85 272.77L523.10 272.69L523.35 272.58L523.60 272.48L523.85 272.58L524.10 272.69L524.35 272.67L524.60 272.66L524.85 272.64L525.10 272.61L525.35 272.56L525.60 272.51L525.85 272.68L526.10 272.85L526.35 272.82L526.60 272.80L526.85 272.69L527.10 272.58L527.35 272.67L527.60 272.76L527.85 272.72L528.10 272.67L528.35 272.71L528.60 272.74L528.85 272.66L529.10 272.58L529.35 272.72L529.60 272.87L529.85 272.94L530.10 273.01L530.35 272.91L530.60 272.82L530.85 272.75L531.10 272.68L531.35 272.71L531.60 272.74L531.85 272.82L532.10 272.91L532.35 272.76L532.60 272.61L532.85 272.72L533.10 272.82L533.35 272.79L533.60 272.75L533.85 272.77L534.10 272.78L534.35 272.73L534.60 272.68L534.85 272.74L535.10 272.80L535.35 272.82L535.60 272.84L535.85 272.86L536.10 272.88L536.35 272.88L536.60 272.75L536.85 272.05L537.10 271.26L537.35 269.72L537.60 267.93L537.85 266.55L538.10 264.85L538.35 264.78L538.60 265.12L538.85 262.45L539.10 259.44L539.35 258.66L539.60 258.03L539.85 256.88L540.10 257.19L540.35 255.66L540.60 255.18L540.85 259.86L541.10 264.94L541.35 263.12L541.60 261.63L541.85 264.93L542.10 268.36L542.35 270.48L542.60 272.53L542.85 272.78L543.10 272.74L543.35 272.64L543.60 272.54L543.85 272.41L544.10 272.29L544.35 272.34L544.60 272.39L544.85 272.59L545.10 272.79L545.35 272.83L545.60 272.87L545.85 272.92L546.10 272.97L546.35 272.93L546.60 272.89L546.85 272.73L547.10 272.57L547.35 272.69L547.60 272.81L547.85 272.72L548.10 272.63L548.35 272.75L548.60 272.87L548.85 272.86L549.10 272.86L549.35 272.72L549.60 272.58L549.85 272.62L550.10 272.66L550.35 272.50L550.60 272.33L550.85 272.29L551.10 272.26L551.35 272.49L551.60 272.73L551.85 272.75L552.10 272.77L552.35 272.85L552.60 272.93L552.85 272.77L553.10 272.62L553.35 272.59L553.60 272.55L553.85 272.69L554.10 272.82L554.35 272.89L554.60 272.96L554.85 272.92L555.10 272.87L555.35 272.87L555.60 272.86L555.85 272.72L556.10 272.58L556.35 272.56L556.60 272.55L556.85 272.65L557.10 272.76L557.35 272.84L557.60 272.92L557.85 272.89L558.10 272.87L558.35 272.91L558.60 272.95L558.85 272.81L559.10 272.67L559.35 272.67L559.60 272.66L559.85 272.67L560.10 272.68L560.35 272.80L560.60 272.91L560.85 272.88L561.10 272.85L561.35 272.81L561.60 272.76L561.85 272.84L562.10 272.93L562.35 272.83L562.60 272.74L562.85 272.72L563.10 272.70L563.35 272.79L563.60 272.88L563.85 272.93L564.10 272.97L564.35 272.79L564.60 272.60L564.85 272.56L565.10 272.53L565.35 272.60L565.60 272.67L565.85 272.81L566.10 272.94L566.35 272.95L566.60 272.96L566.85 272.90L567.10 272.85L567.35 272.83L567.60 272.81L567.85 272.71L568.10 272.61L568.35 272.54L568.60 272.47L568.85 272.64L569.10 272.81L569.35 272.77L569.60 272.74L569.85 272.62L570.10 272.51L570.35 272.52L570.60 272.54L570.85 272.53L571.10 272.52L571.35 272.69L571.60 272.86L571.85 272.92L572.10 272.97L572.35 272.97L572.60 272.98L572.85 272.96L573.10 272.94L573.35 272.95L573.60 272.96L573.85 272.91L574.10 272.87L574.35 272.73L574.60 272.60L574.85 272.67L575.10 272.75L575.35 272.64L575.60 272.54L575.85 272.64L576.10 272.74L576.35 272.79L576.60 272.85L576.85 272.78L577.10 272.72L577.35 272.65L577.60 272.57L577.85 272.63L578.10 272.68L578.35 272.79L578.60 272.90L578.85 272.85L579.10 272.79L579.35 272.67L579.60 272.55L579.85 272.68L580.10 272.80L580.35 272.88L580.60 272.95L580.85 272.87L581.10 272.80L581.35 272.86L581.60 272.92L581.85 272.88L582.10 272.84L582.35 272.90L582.60 272.96L582.85 272.83L583.10 272.70L583.35 272.51L583.60 272.32L583.85 272.30L584.10 272.27L584.35 272.31L584.60 272.36L584.85 272.21L585.10 272.06L585.35 272.24L585.60 272.41L585.85 272.61L586.10 272.81L586.35 272.83L586.60 272.86L586.85 272.73L587.10 272.60L587.35 272.72L587.60 272.84L587.85 272.84L588.10 272.84L588.35 272.77L588.60 272.69L588.85 272.69L589.10 272.70L589.35 272.66L589.60 272.62L589.85 272.62L590.10 272.62L590.35 272.53L590.60 272.43L590.85 272.35L591.10 272.28L591.35 272.38L591.60 272.48L591.85 272.54L592.10 272.59L592.35 272.67L592.60 272.75L592.85 272.79L593.10 272.83L593.35 272.74L593.60 272.64L593.85 272.69L594.10 272.73L594.35 272.68L594.60 272.63L594.85 272.55L595.10 272.48L595.35 272.64L595.60 272.81L595.85 272.71L596.10 272.62L596.35 272.72L596.60 272.82L596.85 272.85L597.10 272.88L597.35 272.80L597.60 272.72L597.85 272.63L598.10 272.54L598.35 272.67L598.60 272.80L598.85 272.69L599.10 272.58L599.35 272.70L599.60 272.82L599.85 272.80L600.10 272.77L600.35 272.73L600.60 272.68L600.85 272.79L601.10 272.91L601.35 272.91L601.60 272.92L601.85 272.88L602.10 272.85L602.35 272.89L602.60 272.93L602.85 272.80L603.10 272.67L603.35 272.75L603.60 272.82L603.85 272.73L604.10 272.64L604.35 272.63L604.60 272.61L604.85 272.74L605.10 272.87L605.35 272.75L605.60 272.63L605.85 272.68L606.10 272.73L606.35 272.79L606.60 272.84L606.85 272.85L607.10 272.86L607.35 272.91L607.60 272.96L607.85 272.94L608.10 272.93L608.35 272.74L608.60 272.56L608.85 272.62L609.10 272.68L609.35 272.76L609.60 272.84L609.85 272.77L610.10 272.70L610.35 272.65L610.60 272.60L610.85 272.75L611.10 272.90L611.35 272.82L611.60 272.74L611.85 272.82L612.10 272.91L612.35 272.80L612.60 272.70L612.85 272.69L613.10 272.67L613.35 272.68L613.60 272.69L613.85 272.72L614.10 272.74L614.35 272.70L614.60 272.66L614.85 272.58L615.10 272.49L615.35 272.24L615.60 271.98L615.85 272.02L616.10 272.07L616.35 272.26L616.60 272.45L616.85 272.70L617.10 272.95L617.35 272.82L617.60 272.68L617.85 272.74L618.10 272.79L618.35 272.68L618.60 272.57L618.85 272.65L619.10 272.74L619.35 272.84L619.60 272.94L619.85 272.92L620.10 272.90L620.35 272.69L620.60 272.48L620.85 272.40L621.10 272.32L621.35 272.37L621.60 272.42L621.85 272.58L622.10 272.74L622.35 272.73L622.60 272.71L622.85 272.81L623.10 272.90L623.35 272.74L623.60 272.58L623.85 272.69L624.10 272.81L624.35 272.88L624.60 272.95L624.85 272.79L625.10 272.63L625.35 272.55L625.60 272.47L625.85 272.53L626.10 272.60L626.35 272.71L626.60 272.83L626.85 272.84L627.10 272.86L627.35 272.91L627.60 272.96L627.85 272.79L628.10 272.63L628.35 272.65L628.60 272.68L628.85 272.62L629.10 272.56L629.35 272.71L629.60 272.87L629.85 272.90L630.10 272.93L630.35 272.88L630.60 272.82L630.85 272.88L631.10 272.94L631.35 272.84L631.60 272.74L631.85 272.77L632.10 272.80L632.35 272.81L632.60 272.82L632.85 272.76L633.10 272.69L633.35 272.73L633.60 272.76L633.85 272.69L634.10 272.63L634.35 272.73L634.60 272.82L634.85 272.90L635.10 272.98L635.35 272.86L635.60 272.75L635.85 272.83L636.10 272.90L636.35 272.75L636.60 272.61L636.85 272.61L637.10 272.61L637.35 272.75L637.60 272.90L637.85 272.93L638.10 272.96L638.35 272.91L638.60 272.86L638.85 272.91L639.10 272.96L639.35 272.91L639.60 272.86L639.85 272.74L640.10 272.62L640.35 272.69L640.60 272.77L640.85 272.75L641.10 272.74L641.35 272.46L641.60 272.18L641.85 272.25L642.10 272.32L642.35 272.45L642.60 272.58L642.85 272.68L643.10 272.78L643.35 272.82L643.60 272.86L643.85 272.73L644.10 272.61L644.35 272.74L644.60 272.87L644.85 272.80L645.10 272.74L645.35 272.83L645.60 272.92L645.85 272.87L646.10 272.82L646.35 272.83L646.60 272.84L646.85 272.77L647.10 272.69L647.35 272.78L647.60 272.87L647.85 272.85L648.10 272.82L648.35 272.87L648.60 272.92L648.85 272.95L649.10 272.98L649.35 272.84L649.60 272.70L649.85 272.71L650.10 272.72L650.35 272.61L650.60 272.51L650.85 272.52L651.10 272.53L651.35 272.54L651.60 272.55L651.85 272.64L652.10 272.73L652.35 272.67L652.60 272.62L652.85 272.55L653.10 272.49L653.35 272.65L653.60 272.81L653.85 272.73L654.10 272.65L654.35 272.65L654.60 272.65L654.85 272.61L655.10 272.58L655.35 272.74L655.60 272.89L655.85 272.94L656.10 272.98L656.35 272.80L656.60 272.61L656.85 272.63L657.10 272.64L657.35 272.73L657.60 272.81L657.85 272.82L658.10 272.82L658.35 272.82L658.60 272.82L658.85 272.72L659.10 272.62L659.35 272.68L659.60 272.74L659.85 272.65L660.10 272.56L660.35 272.63L660.60 272.69L660.85 272.75L661.10 272.81L661.35 272.82L661.60 272.83L661.85 272.87L662.10 272.92L662.35 272.83L662.60 272.75L662.85 272.63L663.10 272.51L663.35 272.66L663.60 272.82L663.85 272.82L664.10 272.83L664.35 272.68L664.60 272.53L664.85 272.55L665.10 272.56L665.35 272.59L665.60 272.61L665.85 272.70L666.10 272.80L666.35 272.71L666.60 272.62L666.85 272.58L667.10 272.55L667.35 272.59L667.60 272.64L667.85 272.70L668.10 272.76L668.35 272.79L668.60 272.83L668.85 272.77L669.10 272.71L669.35 272.63L669.60 272.56L669.85 272.71L670.10 272.87L670.35 272.75L670.60 272.64L670.85 272.59L671.10 272.54L671.35 272.69L671.60 272.83L671.85 272.86L672.10 272.88L672.35 272.75L672.60 272.61L672.85 272.63L673.10 272.65L673.35 272.77L673.60 272.88L673.85 272.76L674.10 272.63L674.2 273.10Z" fill="#1e8cff" stroke="#10398f" stroke-width="0.78" stroke-linejoin="round"/>
<rect x="534.4" y="29.2" width="11" height="264.3" fill="none" stroke="#555" stroke-width="0.6"/>
<line x1="441.4" y1="314.5" x2="464.6" y2="314.5" stroke="#000" stroke-width="0.65"/>
<rect x="441.2" y="308.5" width="1.2" height="12" fill="#000"/>
<rect x="442.10" y="303.3" width="3.70" height="22.10" fill="#000"/>
<rect x="446.40" y="303.3" width="2.30" height="22.10" fill="#000"/>
<rect x="451.55" y="303.3" width="0.7" height="22.10" fill="#000"/>
<rect x="453.40" y="303.3" width="4.00" height="22.10" fill="#000"/>
<rect x="457.40" y="308.8" width="1.80" height="11.40" fill="#000"/>
<rect x="464.25" y="303.3" width="0.7" height="22.10" fill="#000"/>
<path d="M451.10 312.40L449.50 314.5L451.10 316.60" fill="none" stroke="#000" stroke-width="0.5"/>
<path d="M462.10 312.40L460.50 314.5L462.10 316.60" fill="none" stroke="#000" stroke-width="0.5"/>
<text x="442.76" y="298.2" font-size="5.1" textLength="21.09" lengthAdjust="spacingAndGlyphs" fill="#111">SELENBP1</text>
<line x1="539" y1="314.5" x2="674.2" y2="314.5" stroke="#000" stroke-width="0.65"/>
<rect x="539.10" y="303.3" width="4.00" height="22.10" fill="#000"/>
<rect x="543.70" y="303.3" width="2.10" height="22.10" fill="#000"/>
<rect x="542.90" y="308.8" width="1.00" height="11.40" fill="#000"/>
<rect x="547.30" y="308.8" width="6.10" height="11.40" fill="#000"/>
<rect x="553.30" y="303.3" width="7.30" height="22.10" fill="#000"/>
<rect x="562.50" y="303.3" width="2.20" height="22.10" fill="#000"/>
<rect x="572.25" y="303.3" width="0.7" height="22.10" fill="#000"/>
<rect x="574.05" y="303.3" width="0.7" height="22.10" fill="#000"/>
<path d="M570.10 312.40L568.50 314.5L570.10 316.60" fill="none" stroke="#000" stroke-width="0.5"/>
<path d="M580.60 312.40L579.00 314.5L580.60 316.60" fill="none" stroke="#000" stroke-width="0.5"/>
<path d="M587.60 312.40L586.00 314.5L587.60 316.60" fill="none" stroke="#000" stroke-width="0.5"/>
<path d="M595.20 312.40L593.60 314.5L595.20 316.60" fill="none" stroke="#000" stroke-width="0.5"/>
<path d="M602.10 312.40L600.50 314.5L602.10 316.60" fill="none" stroke="#000" stroke-width="0.5"/>
<text x="535.38" y="298.2" font-size="5.1" textLength="13.83" lengthAdjust="spacingAndGlyphs" fill="#111">PSMB4</text>
<rect x="604.70" y="303.3" width="3.20" height="22.10" fill="#000"/>
<rect x="608.75" y="303.3" width="0.7" height="22.10" fill="#000"/>
<rect x="612.30" y="308.8" width="4.90" height="11.40" fill="#000"/>
<rect x="617.00" y="303.3" width="1.70" height="22.10" fill="#000"/>
<rect x="621.25" y="303.3" width="0.7" height="22.10" fill="#000"/>
<rect x="623.05" y="303.3" width="0.7" height="22.10" fill="#000"/>
<rect x="624.75" y="303.3" width="0.7" height="22.10" fill="#000"/>
<rect x="653.15" y="303.3" width="0.7" height="22.10" fill="#000"/>
<rect x="656.25" y="303.3" width="0.7" height="22.10" fill="#000"/>
<path d="M602.80 312.40L601.20 314.5L602.80 316.60" fill="none" stroke="#000" stroke-width="0.5"/>
<path d="M612.60 312.40L611.00 314.5L612.60 316.60" fill="none" stroke="#000" stroke-width="0.5"/>
<path d="M629.60 312.40L628.00 314.5L629.60 316.60" fill="none" stroke="#000" stroke-width="0.5"/>
<path d="M637.60 312.40L636.00 314.5L637.60 316.60" fill="none" stroke="#000" stroke-width="0.5"/>
<path d="M645.10 312.40L643.50 314.5L645.10 316.60" fill="none" stroke="#000" stroke-width="0.5"/>
<path d="M652.60 312.40L651.00 314.5L652.60 316.60" fill="none" stroke="#000" stroke-width="0.5"/>
<path d="M659.60 312.40L658.00 314.5L659.60 316.60" fill="none" stroke="#000" stroke-width="0.5"/>
<path d="M667.60 312.40L666.00 314.5L667.60 316.60" fill="none" stroke="#000" stroke-width="0.5"/>
<path d="M674.60 312.40L673.00 314.5L674.60 316.60" fill="none" stroke="#000" stroke-width="0.5"/>
<text x="620.32" y="298.2" font-size="5.1" textLength="11.56" lengthAdjust="spacingAndGlyphs" fill="#111">POGZ</text>
<g stroke="#ff1010" stroke-width="0.7"><line x1="532.50" y1="286.80" x2="539.50" y2="286.80"/><line x1="533.17" y1="284.74" x2="538.83" y2="288.86"/><line x1="534.92" y1="283.47" x2="537.08" y2="290.13"/><line x1="537.08" y1="283.47" x2="534.92" y2="290.13"/><line x1="538.83" y1="284.74" x2="533.17" y2="288.86"/></g><circle cx="536.0" cy="286.8" r="1.3" fill="#ff1010"/>
<text x="541" y="288.7" font-size="5.1" textLength="25.6" lengthAdjust="spacingAndGlyphs" fill="#e8282a">rs12044242</text>
<line x1="398" y1="341.4" x2="674.3" y2="341.4" stroke="#000" stroke-width="1"/>
<line x1="398" y1="349.5" x2="674.3" y2="349.5" stroke="#000" stroke-width="0.8"/>
<text x="366.6" y="347.5" font-size="6" textLength="10.8" lengthAdjust="spacingAndGlyphs">chr1</text>
<line x1="401.02" y1="349.5" x2="401.02" y2="353.3" stroke="#000" stroke-width="0.6"/><line x1="406.54" y1="349.5" x2="406.54" y2="353.3" stroke="#000" stroke-width="0.6"/><line x1="412.06" y1="349.5" x2="412.06" y2="353.3" stroke="#000" stroke-width="0.6"/><line x1="417.58" y1="349.5" x2="417.58" y2="353.3" stroke="#000" stroke-width="0.6"/><line x1="423.10" y1="349.5" x2="423.10" y2="355.3" stroke="#000" stroke-width="0.6"/><text x="414.15" y="358.8" font-size="5.3" textLength="17.9" lengthAdjust="spacingAndGlyphs" fill="#111">151.33Mb</text><line x1="428.62" y1="349.5" x2="428.62" y2="353.3" stroke="#000" stroke-width="0.6"/><line x1="434.14" y1="349.5" x2="434.14" y2="353.3" stroke="#000" stroke-width="0.6"/><line x1="439.66" y1="349.5" x2="439.66" y2="353.3" stroke="#000" stroke-width="0.6"/><line x1="445.18" y1="349.5" x2="445.18" y2="353.3" stroke="#000" stroke-width="0.6"/><line x1="450.70" y1="349.5" x2="450.70" y2="355.3" stroke="#000" stroke-width="0.6"/><text x="441.75" y="358.8" font-size="5.3" textLength="17.9" lengthAdjust="spacingAndGlyphs" fill="#111">151.34Mb</text><line x1="456.22" y1="349.5" x2="456.22" y2="353.3" stroke="#000" stroke-width="0.6"/><line x1="461.74" y1="349.5" x2="461.74" y2="353.3" stroke="#000" stroke-width="0.6"/><line x1="467.26" y1="349.5" x2="467.26" y2="353.3" stroke="#000" stroke-width="0.6"/><line x1="472.78" y1="349.5" x2="472.78" y2="353.3" stroke="#000" stroke-width="0.6"/><line x1="478.30" y1="349.5" x2="478.30" y2="355.3" stroke="#000" stroke-width="0.6"/><text x="469.35" y="358.8" font-size="5.3" textLength="17.9" lengthAdjust="spacingAndGlyphs" fill="#111">151.35Mb</text><line x1="483.82" y1="349.5" x2="483.82" y2="353.3" stroke="#000" stroke-width="0.6"/><line x1="489.34" y1="349.5" x2="489.34" y2="353.3" stroke="#000" stroke-width="0.6"/><line x1="494.86" y1="349.5" x2="494.86" y2="353.3" stroke="#000" stroke-width="0.6"/><line x1="500.38" y1="349.5" x2="500.38" y2="353.3" stroke="#000" stroke-width="0.6"/><line x1="505.90" y1="349.5" x2="505.90" y2="355.3" stroke="#000" stroke-width="0.6"/><text x="496.95" y="358.8" font-size="5.3" textLength="17.9" lengthAdjust="spacingAndGlyphs" fill="#111">151.36Mb</text><line x1="511.42" y1="349.5" x2="511.42" y2="353.3" stroke="#000" stroke-width="0.6"/><line x1="516.94" y1="349.5" x2="516.94" y2="353.3" stroke="#000" stroke-width="0.6"/><line x1="522.46" y1="349.5" x2="522.46" y2="353.3" stroke="#000" stroke-width="0.6"/><line x1="527.98" y1="349.5" x2="527.98" y2="353.3" stroke="#000" stroke-width="0.6"/><line x1="533.50" y1="349.5" x2="533.50" y2="355.3" stroke="#000" stroke-width="0.6"/><text x="524.55" y="358.8" font-size="5.3" textLength="17.9" lengthAdjust="spacingAndGlyphs" fill="#111">151.37Mb</text><line x1="539.02" y1="349.5" x2="539.02" y2="353.3" stroke="#000" stroke-width="0.6"/><line x1="544.54" y1="349.5" x2="544.54" y2="353.3" stroke="#000" stroke-width="0.6"/><line x1="550.06" y1="349.5" x2="550.06" y2="353.3" stroke="#000" stroke-width="0.6"/><line x1="555.58" y1="349.5" x2="555.58" y2="353.3" stroke="#000" stroke-width="0.6"/><line x1="561.10" y1="349.5" x2="561.10" y2="355.3" stroke="#000" stroke-width="0.6"/><text x="552.15" y="358.8" font-size="5.3" textLength="17.9" lengthAdjust="spacingAndGlyphs" fill="#111">151.38Mb</text><line x1="566.62" y1="349.5" x2="566.62" y2="353.3" stroke="#000" stroke-width="0.6"/><line x1="572.14" y1="349.5" x2="572.14" y2="353.3" stroke="#000" stroke-width="0.6"/><line x1="577.66" y1="349.5" x2="577.66" y2="353.3" stroke="#000" stroke-width="0.6"/><line x1="583.18" y1="349.5" x2="583.18" y2="353.3" stroke="#000" stroke-width="0.6"/><line x1="588.70" y1="349.5" x2="588.70" y2="355.3" stroke="#000" stroke-width="0.6"/><text x="579.75" y="358.8" font-size="5.3" textLength="17.9" lengthAdjust="spacingAndGlyphs" fill="#111">151.39Mb</text><line x1="594.22" y1="349.5" x2="594.22" y2="353.3" stroke="#000" stroke-width="0.6"/><line x1="599.74" y1="349.5" x2="599.74" y2="353.3" stroke="#000" stroke-width="0.6"/><line x1="605.26" y1="349.5" x2="605.26" y2="353.3" stroke="#000" stroke-width="0.6"/><line x1="610.78" y1="349.5" x2="610.78" y2="353.3" stroke="#000" stroke-width="0.6"/><line x1="616.30" y1="349.5" x2="616.30" y2="355.3" stroke="#000" stroke-width="0.6"/><text x="607.35" y="358.8" font-size="5.3" textLength="17.9" lengthAdjust="spacingAndGlyphs" fill="#111">151.40Mb</text><line x1="621.82" y1="349.5" x2="621.82" y2="353.3" stroke="#000" stroke-width="0.6"/><line x1="627.34" y1="349.5" x2="627.34" y2="353.3" stroke="#000" stroke-width="0.6"/><line x1="632.86" y1="349.5" x2="632.86" y2="353.3" stroke="#000" stroke-width="0.6"/><line x1="638.38" y1="349.5" x2="638.38" y2="353.3" stroke="#000" stroke-width="0.6"/><line x1="643.90" y1="349.5" x2="643.90" y2="355.3" stroke="#000" stroke-width="0.6"/><text x="634.95" y="358.8" font-size="5.3" textLength="17.9" lengthAdjust="spacingAndGlyphs" fill="#111">151.41Mb</text><line x1="649.42" y1="349.5" x2="649.42" y2="353.3" stroke="#000" stroke-width="0.6"/><line x1="654.94" y1="349.5" x2="654.94" y2="353.3" stroke="#000" stroke-width="0.6"/><line x1="660.46" y1="349.5" x2="660.46" y2="353.3" stroke="#000" stroke-width="0.6"/><line x1="665.98" y1="349.5" x2="665.98" y2="353.3" stroke="#000" stroke-width="0.6"/><line x1="671.50" y1="349.5" x2="671.50" y2="355.3" stroke="#000" stroke-width="0.6"/><text x="662.55" y="358.8" font-size="5.3" textLength="17.9" lengthAdjust="spacingAndGlyphs" fill="#111">151.42Mb</text>
</svg>
</body></html>
